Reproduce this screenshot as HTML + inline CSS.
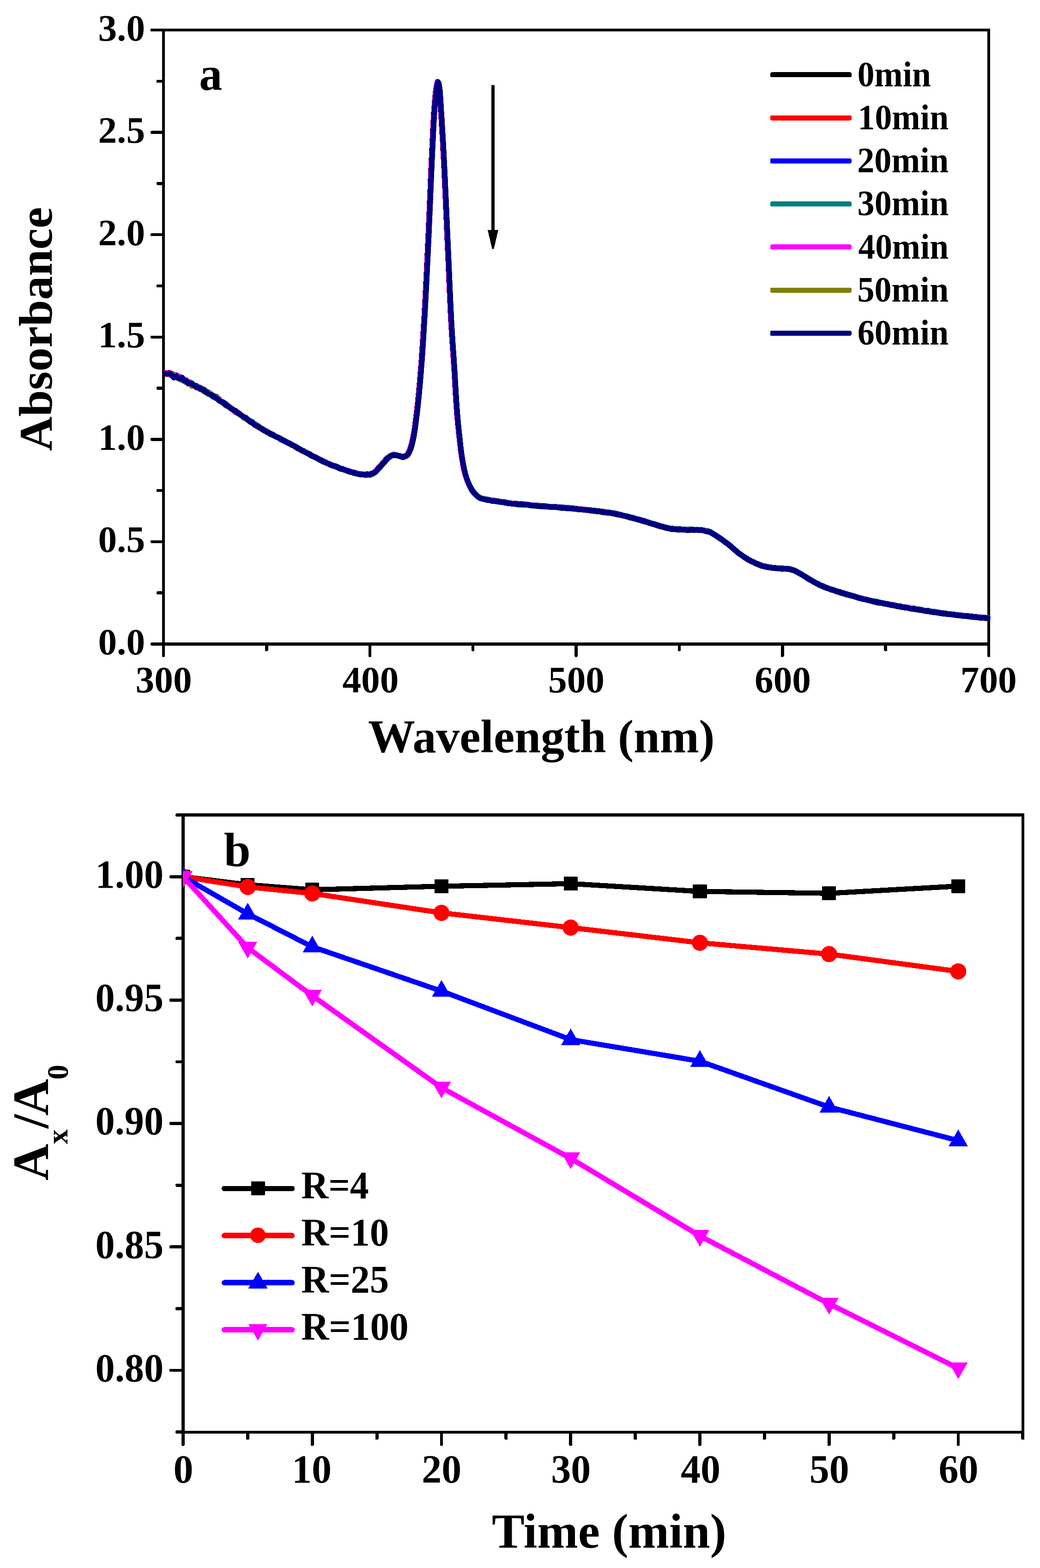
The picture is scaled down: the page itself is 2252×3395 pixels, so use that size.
<!DOCTYPE html>
<html lang="en">
<head>
<meta charset="utf-8">
<title>Absorbance spectra and A/A0 kinetics</title>
<style>
html,body{margin:0;padding:0;background:#fff;}
body{width:2252px;height:3395px;overflow:hidden;}
svg{display:block;}
svg text{font-family:"Liberation Serif", serif;font-weight:bold;fill:#000;}
</style>
</head>
<body>
<svg width="2252" height="3395" viewBox="0 0 2252 3395" shape-rendering="crispEdges">
<rect x="0" y="0" width="2252" height="3395" fill="#fff"/>
<g id="plotA">
<g stroke="#000" stroke-width="6.3" fill="none" stroke-linecap="butt">
<rect x="354.0" y="65.0" width="1787.0" height="1329.5"/>
<g stroke-width="6.5">
<rect x="326.00" y="1391.25" width="28.00" height="6.50" rx="2.2" fill="#000" stroke="none"/>
<rect x="326.00" y="1169.67" width="28.00" height="6.50" rx="2.2" fill="#000" stroke="none"/>
<rect x="326.00" y="948.08" width="28.00" height="6.50" rx="2.2" fill="#000" stroke="none"/>
<rect x="326.00" y="726.50" width="28.00" height="6.50" rx="2.2" fill="#000" stroke="none"/>
<rect x="326.00" y="504.92" width="28.00" height="6.50" rx="2.2" fill="#000" stroke="none"/>
<rect x="326.00" y="283.33" width="28.00" height="6.50" rx="2.2" fill="#000" stroke="none"/>
<rect x="326.00" y="61.75" width="28.00" height="6.50" rx="2.2" fill="#000" stroke="none"/>
<rect x="338.70" y="1280.46" width="15.30" height="6.50" rx="2.2" fill="#000" stroke="none"/>
<rect x="338.70" y="1058.88" width="15.30" height="6.50" rx="2.2" fill="#000" stroke="none"/>
<rect x="338.70" y="837.29" width="15.30" height="6.50" rx="2.2" fill="#000" stroke="none"/>
<rect x="338.70" y="615.71" width="15.30" height="6.50" rx="2.2" fill="#000" stroke="none"/>
<rect x="338.70" y="394.12" width="15.30" height="6.50" rx="2.2" fill="#000" stroke="none"/>
<rect x="338.70" y="172.54" width="15.30" height="6.50" rx="2.2" fill="#000" stroke="none"/>
<rect x="350.75" y="1394.50" width="6.50" height="28.00" rx="2.2" fill="#000" stroke="none"/>
<rect x="797.50" y="1394.50" width="6.50" height="28.00" rx="2.2" fill="#000" stroke="none"/>
<rect x="1244.25" y="1394.50" width="6.50" height="28.00" rx="2.2" fill="#000" stroke="none"/>
<rect x="1691.00" y="1394.50" width="6.50" height="28.00" rx="2.2" fill="#000" stroke="none"/>
<rect x="2137.75" y="1394.50" width="6.50" height="28.00" rx="2.2" fill="#000" stroke="none"/>
<rect x="574.12" y="1394.50" width="6.50" height="15.30" rx="2.2" fill="#000" stroke="none"/>
<rect x="1020.88" y="1394.50" width="6.50" height="15.30" rx="2.2" fill="#000" stroke="none"/>
<rect x="1467.62" y="1394.50" width="6.50" height="15.30" rx="2.2" fill="#000" stroke="none"/>
<rect x="1914.38" y="1394.50" width="6.50" height="15.30" rx="2.2" fill="#000" stroke="none"/>
</g></g>
<clipPath id="clipA"><rect x="354.0" y="65.0" width="1790.1999999999998" height="1329.5"/></clipPath>
<g clip-path="url(#clipA)" fill="none" stroke-linejoin="round" stroke-linecap="butt" stroke-width="12">
<path d="M353.1,807.8 L355.3,808.1 L357.6,808.5 L359.8,808.1 L362.0,807.8 L364.3,807.4 L366.5,807.2 L368.7,808.2 L371.0,809.5 L373.2,810.0 L375.4,810.6 L377.7,812.5 L379.9,814.4 L382.1,816.4 L384.4,818.4 L386.6,818.0 L388.8,817.5 L391.1,818.5 L393.3,819.5 L395.5,821.5 L397.8,823.5 L400.0,824.5 L402.2,825.5 L404.5,826.4 L406.7,827.4 L408.9,827.8 L411.2,828.2 L413.4,830.0 L415.6,831.9 L417.9,833.6 L420.1,835.2 L422.4,835.1 L424.6,835.0 L426.8,836.8 L429.1,838.6 L431.3,838.9 L433.5,839.2 L435.8,840.7 L438.0,842.2 L440.2,843.0 L442.5,843.8 L444.7,845.8 L446.9,847.8 L449.2,848.4 L451.4,849.0 L453.6,851.1 L455.9,853.2 L458.1,854.5 L460.3,855.9 L462.6,857.2 L464.8,858.5 L467.0,858.9 L469.3,859.3 L471.5,861.8 L473.7,864.4 L476.0,866.3 L478.2,868.1 L480.4,869.8 L482.7,871.4 L484.9,872.3 L487.1,873.1 L489.4,875.2 L491.6,877.3 L493.8,878.8 L496.1,880.2 L498.3,881.9 L500.5,883.6 L502.8,886.1 L505.0,888.5 L507.2,889.3 L509.5,890.1 L511.7,891.9 L513.9,893.7 L516.2,895.6 L518.4,897.4 L520.6,898.2 L522.9,899.1 L525.1,900.7 L527.3,902.3 L529.6,903.9 L531.8,905.4 L534.0,906.9 L536.3,908.4 L538.5,909.4 L540.7,910.5 L543.0,912.4 L545.2,914.4 L547.4,916.3 L549.7,918.2 L551.9,918.6 L554.1,919.1 L556.4,921.3 L558.6,923.6 L560.8,924.7 L563.1,925.9 L565.3,927.1 L567.5,928.2 L569.8,930.4 L572.0,932.6 L574.2,933.5 L576.5,934.4 L578.7,935.1 L580.9,935.7 L583.2,937.3 L585.4,938.9 L587.6,940.2 L589.9,941.5 L592.1,942.4 L594.3,943.3 L596.6,944.7 L598.8,946.1 L601.1,947.0 L603.3,947.9 L605.5,949.3 L607.8,950.7 L610.0,952.0 L612.2,953.4 L614.5,954.0 L616.7,954.6 L618.9,956.0 L621.1,957.4 L623.4,958.4 L625.6,959.4 L627.9,960.8 L630.1,962.1 L632.3,962.9 L634.6,963.8 L636.8,965.1 L639.0,966.5 L641.2,967.8 L643.5,969.0 L645.7,970.5 L648.0,972.0 L650.2,973.2 L652.4,974.5 L654.7,975.1 L656.9,975.7 L659.1,977.1 L661.4,978.4 L663.6,979.9 L665.8,981.4 L668.1,982.0 L670.3,982.6 L672.5,984.1 L674.8,985.6 L677.0,986.8 L679.2,988.0 L681.5,989.4 L683.7,990.9 L685.9,991.9 L688.2,992.9 L690.4,993.8 L692.6,994.7 L694.9,995.8 L697.1,996.9 L699.3,998.0 L701.6,999.1 L703.8,1000.6 L706.0,1002.0 L708.3,1002.6 L710.5,1003.2 L712.7,1004.2 L715.0,1005.1 L717.2,1006.2 L719.4,1007.2 L721.7,1008.0 L723.9,1008.8 L726.1,1009.7 L728.4,1010.5 L730.6,1011.2 L732.8,1011.8 L735.1,1012.8 L737.3,1013.9 L739.5,1014.6 L741.8,1015.3 L744.0,1016.3 L746.2,1017.4 L748.5,1018.0 L750.7,1018.6 L752.9,1019.1 L755.2,1019.7 L757.4,1020.6 L759.6,1021.4 L761.9,1021.9 L764.1,1022.4 L766.3,1023.3 L768.6,1024.2 L770.8,1024.6 L773.0,1025.0 L775.3,1025.6 L777.5,1026.1 L779.8,1026.1 L782.0,1026.1 L784.2,1026.6 L786.5,1027.1 L788.7,1026.9 L790.9,1026.6 L793.1,1026.5 L795.4,1026.3 L797.6,1026.5 L799.9,1026.7 L802.1,1026.2 L804.3,1025.2 L806.6,1024.3 L808.8,1023.2 L811.0,1022.0 L813.2,1020.4 L815.5,1017.6 L817.7,1014.6 L820.0,1012.2 L822.2,1009.8 L824.4,1007.4 L826.7,1004.9 L828.9,1002.4 L831.1,999.9 L833.4,997.1 L835.6,994.5 L837.8,992.3 L840.1,990.4 L842.3,988.6 L844.5,987.2 L846.8,986.0 L849.0,985.5 L851.2,984.9 L853.5,984.4 L855.7,984.5 L857.9,984.9 L860.2,985.5 L862.4,986.3 L864.6,986.8 L866.9,987.2 L869.1,987.9 L871.3,988.5 L873.6,988.3 L875.8,987.6 L878.0,986.8 L879.1,986.3 L879.6,986.0 L880.1,985.7 L880.3,985.7 L880.6,985.4 L881.1,984.9 L881.6,984.3 L882.1,983.7 L882.5,983.1 L882.6,982.9 L883.1,982.1 L883.6,981.3 L884.1,980.4 L884.6,979.4 L884.7,979.1 L885.1,978.4 L885.6,977.4 L886.1,976.3 L886.6,975.2 L887.0,974.3 L887.1,974.0 L887.6,972.7 L888.1,971.3 L888.6,969.8 L889.1,968.2 L889.2,967.9 L889.6,966.5 L890.1,964.8 L890.6,962.9 L891.1,961.0 L891.4,959.7 L891.6,959.0 L892.1,957.0 L892.6,954.8 L893.1,952.6 L893.6,950.4 L893.7,950.0 L894.1,948.1 L894.6,945.7 L895.1,943.1 L895.6,940.4 L895.9,938.7 L896.1,937.5 L896.6,934.4 L897.1,931.2 L897.6,927.8 L898.1,924.3 L898.1,924.1 L898.6,920.6 L899.1,916.8 L899.6,912.9 L900.1,909.0 L900.4,906.8 L900.6,904.9 L901.1,900.8 L901.6,896.6 L902.1,892.3 L902.6,888.1 L903.1,883.8 L903.6,879.3 L904.1,874.8 L904.6,870.1 L904.8,867.8 L905.1,865.3 L905.6,860.4 L906.1,855.3 L906.6,850.1 L907.1,845.2 L907.1,844.8 L907.6,839.5 L908.1,834.0 L908.6,828.3 L909.1,822.6 L909.3,820.3 L909.6,816.8 L910.1,810.8 L910.6,804.8 L911.1,798.6 L911.5,793.1 L911.6,792.4 L912.1,785.7 L912.6,778.8 L913.1,771.7 L913.6,764.4 L913.8,761.8 L914.1,756.8 L914.6,749.1 L915.1,741.2 L915.6,733.2 L916.0,726.6 L916.1,725.0 L916.6,716.9 L917.1,708.7 L917.6,700.4 L918.1,692.0 L918.2,689.7 L918.6,683.5 L919.1,674.7 L919.6,665.8 L920.1,656.7 L920.5,649.9 L920.6,647.4 L921.1,637.9 L921.6,628.2 L922.1,618.4 L922.6,608.4 L922.7,606.2 L923.1,598.4 L923.6,588.2 L924.1,578.0 L924.6,567.6 L924.9,560.6 L925.1,557.3 L925.6,547.0 L926.1,536.6 L926.6,526.0 L927.1,515.1 L927.2,513.6 L927.6,504.0 L928.1,492.6 L928.6,481.0 L929.1,469.3 L929.4,462.0 L929.6,457.5 L930.1,445.4 L930.6,433.4 L931.1,421.3 L931.6,409.3 L931.6,408.4 L932.1,397.4 L932.6,385.6 L933.1,374.0 L933.6,362.6 L933.9,356.3 L934.1,351.5 L934.6,340.7 L935.1,330.3 L935.6,319.9 L936.1,309.3 L936.1,309.1 L936.6,298.7 L937.1,288.2 L937.6,278.0 L938.1,268.1 L938.3,263.6 L938.6,258.7 L939.1,250.0 L939.6,242.0 L940.1,235.0 L940.6,228.8 L940.6,228.6 L941.1,222.4 L941.6,216.5 L942.1,211.0 L942.6,205.8 L942.8,203.8 L943.1,201.1 L943.6,196.8 L944.1,193.1 L944.6,189.9 L945.0,187.4 L945.1,187.0 L945.6,184.1 L946.1,181.5 L946.6,179.2 L947.1,177.5 L947.3,177.1 L947.6,176.8 L948.1,176.9 L948.6,178.0 L949.1,179.9 L949.5,181.8 L949.6,182.3 L950.1,185.2 L950.6,188.4 L951.1,191.8 L951.6,196.9 L951.7,198.6 L952.1,203.4 L952.6,211.0 L953.1,219.1 L953.6,227.3 L954.0,233.4 L954.1,235.2 L954.6,242.9 L955.1,250.6 L955.6,258.5 L956.1,266.5 L956.2,268.3 L956.6,274.6 L957.1,282.9 L957.6,291.3 L958.1,299.9 L958.5,306.0 L958.6,308.7 L959.1,317.6 L959.6,326.8 L960.1,336.1 L960.6,345.8 L960.7,347.3 L961.1,355.7 L961.6,365.9 L962.1,376.3 L962.6,386.9 L962.9,393.6 L963.1,397.7 L963.6,408.7 L964.1,419.8 L964.6,430.9 L965.1,442.2 L965.1,443.3 L965.6,453.5 L966.1,464.9 L966.6,476.3 L967.1,487.6 L967.4,494.0 L967.6,499.0 L968.1,510.2 L968.6,521.4 L969.1,532.5 L969.6,543.4 L969.6,543.9 L970.1,554.6 L970.6,565.9 L971.1,577.4 L971.6,588.9 L971.9,594.7 L972.1,600.5 L972.6,612.1 L973.1,623.6 L973.6,635.0 L974.1,645.7 L974.1,646.1 L974.6,657.1 L975.1,667.8 L975.6,678.1 L976.1,688.0 L976.3,692.2 L976.6,697.4 L977.1,706.2 L977.6,714.7 L978.1,722.8 L978.6,729.8 L978.6,730.6 L979.1,738.0 L979.6,745.3 L980.1,752.4 L980.6,759.5 L980.8,762.1 L981.1,766.6 L981.6,773.8 L982.1,781.0 L982.6,788.5 L983.0,794.9 L983.1,796.2 L983.6,804.3 L984.1,812.7 L984.6,821.3 L985.1,830.0 L985.2,832.7 L985.6,838.8 L986.1,847.4 L986.6,855.9 L987.1,864.2 L987.5,870.2 L987.6,872.1 L988.1,879.5 L988.6,886.4 L989.1,892.8 L989.6,898.8 L989.7,900.1 L990.1,904.5 L990.6,909.9 L991.1,915.2 L991.6,920.2 L992.0,923.7 L992.1,925.1 L992.6,930.0 L993.1,934.7 L993.6,939.3 L994.1,943.9 L994.2,944.7 L994.6,948.5 L995.1,953.1 L995.6,957.6 L996.1,962.1 L996.4,965.0 L996.6,966.5 L997.1,970.8 L997.6,974.9 L998.1,978.8 L998.6,982.4 L998.6,982.8 L999.1,985.8 L999.6,989.0 L1000.1,992.1 L1000.6,995.1 L1000.9,996.8 L1001.1,998.1 L1001.6,1001.0 L1002.1,1003.9 L1002.6,1006.7 L1003.1,1009.4 L1003.1,1009.5 L1003.6,1011.9 L1004.1,1014.4 L1004.6,1016.8 L1005.1,1019.1 L1005.4,1020.3 L1005.6,1021.2 L1006.1,1023.2 L1006.6,1025.0 L1007.1,1026.8 L1007.6,1028.5 L1007.6,1028.5 L1008.1,1030.1 L1008.6,1031.7 L1009.1,1033.2 L1009.6,1034.6 L1009.8,1035.2 L1010.1,1036.0 L1010.6,1037.4 L1011.1,1038.8 L1011.6,1040.1 L1012.1,1041.3 L1012.1,1041.4 L1012.6,1042.7 L1013.1,1043.9 L1013.6,1045.2 L1014.1,1046.4 L1014.3,1046.8 L1014.6,1047.5 L1015.1,1048.6 L1015.6,1049.7 L1016.1,1050.8 L1016.5,1051.7 L1016.6,1051.9 L1017.1,1052.9 L1017.6,1053.9 L1018.1,1054.9 L1018.6,1055.8 L1018.8,1056.1 L1019.1,1056.7 L1019.6,1057.6 L1020.1,1058.5 L1020.6,1059.3 L1021.0,1059.9 L1021.1,1060.1 L1021.6,1060.8 L1022.1,1061.5 L1022.6,1062.2 L1023.1,1062.8 L1023.2,1062.9 L1023.6,1063.4 L1024.1,1064.0 L1024.6,1064.7 L1025.1,1065.3 L1025.5,1065.7 L1025.6,1065.9 L1026.1,1066.5 L1026.6,1067.1 L1027.1,1067.7 L1027.6,1068.2 L1027.7,1068.3 L1028.1,1068.8 L1028.6,1069.3 L1029.1,1069.8 L1029.6,1070.3 L1029.9,1070.7 L1030.1,1070.8 L1030.6,1071.3 L1031.1,1071.8 L1031.6,1072.2 L1032.1,1072.7 L1032.2,1072.7 L1032.6,1073.1 L1033.1,1073.6 L1033.6,1074.0 L1034.1,1074.4 L1034.4,1074.7 L1034.6,1074.8 L1035.1,1075.2 L1035.6,1075.6 L1036.1,1075.9 L1036.6,1076.3 L1036.6,1076.3 L1037.1,1076.5 L1037.6,1076.8 L1038.1,1077.1 L1038.6,1077.3 L1038.9,1077.4 L1039.1,1077.5 L1039.6,1077.7 L1040.1,1077.8 L1040.6,1078.0 L1041.1,1078.2 L1041.1,1078.2 L1041.6,1078.3 L1042.1,1078.5 L1042.6,1078.6 L1043.1,1078.8 L1043.3,1078.9 L1043.6,1078.9 L1045.6,1079.5 L1047.8,1079.9 L1050.0,1080.2 L1052.3,1080.7 L1054.5,1081.2 L1056.7,1081.9 L1059.0,1082.7 L1061.2,1082.7 L1063.4,1082.6 L1065.7,1082.9 L1067.9,1083.2 L1070.1,1083.8 L1072.4,1084.4 L1074.6,1085.0 L1076.8,1085.5 L1079.1,1085.5 L1081.3,1085.4 L1083.5,1086.0 L1085.8,1086.5 L1088.0,1086.8 L1090.2,1087.1 L1092.5,1087.2 L1094.7,1087.4 L1096.9,1088.1 L1099.2,1088.8 L1101.4,1088.9 L1103.6,1089.1 L1105.9,1089.4 L1108.1,1089.6 L1110.3,1089.8 L1112.6,1089.9 L1114.8,1090.3 L1117.0,1090.6 L1119.3,1090.7 L1121.5,1090.7 L1123.7,1091.0 L1126.0,1091.2 L1128.2,1091.3 L1130.4,1091.3 L1132.7,1091.5 L1134.9,1091.6 L1137.1,1092.2 L1139.4,1092.8 L1141.6,1092.8 L1143.8,1092.7 L1146.1,1093.1 L1148.3,1093.4 L1150.5,1093.6 L1152.8,1093.7 L1155.0,1093.8 L1157.2,1094.0 L1159.5,1094.1 L1161.7,1094.3 L1163.9,1094.6 L1166.2,1095.0 L1168.4,1095.0 L1170.6,1095.0 L1172.9,1095.2 L1175.1,1095.4 L1177.3,1095.6 L1179.6,1095.7 L1181.8,1096.1 L1184.1,1096.4 L1186.3,1096.5 L1188.5,1096.6 L1190.8,1096.7 L1193.0,1096.8 L1195.2,1096.8 L1197.5,1096.8 L1199.7,1096.9 L1201.9,1096.9 L1204.2,1097.5 L1206.4,1098.0 L1208.6,1098.2 L1210.9,1098.4 L1213.1,1098.4 L1215.3,1098.4 L1217.6,1098.7 L1219.8,1099.0 L1222.0,1099.2 L1224.3,1099.4 L1226.5,1099.6 L1228.7,1099.8 L1231.0,1100.0 L1233.2,1100.2 L1235.4,1100.2 L1237.7,1100.2 L1239.9,1100.7 L1242.1,1101.2 L1244.4,1101.0 L1246.6,1100.8 L1248.8,1101.3 L1251.1,1101.8 L1253.3,1102.0 L1255.5,1102.2 L1257.8,1102.5 L1260.0,1102.7 L1262.2,1103.1 L1264.5,1103.5 L1266.7,1103.7 L1268.9,1103.9 L1271.2,1103.7 L1273.4,1103.6 L1275.6,1103.7 L1277.9,1103.9 L1280.1,1104.5 L1282.3,1105.2 L1284.6,1105.2 L1286.8,1105.1 L1289.0,1105.6 L1291.3,1106.0 L1293.5,1106.4 L1295.7,1106.8 L1298.0,1106.7 L1300.2,1106.6 L1302.4,1106.8 L1304.7,1107.1 L1306.9,1107.7 L1309.1,1108.4 L1311.4,1108.6 L1313.6,1108.9 L1315.8,1109.2 L1318.1,1109.5 L1320.3,1109.9 L1322.5,1110.3 L1324.8,1110.5 L1327.0,1110.7 L1329.2,1111.0 L1331.5,1111.4 L1333.7,1112.0 L1335.9,1112.7 L1338.2,1113.0 L1340.4,1113.4 L1342.6,1113.8 L1344.9,1114.3 L1347.1,1115.1 L1349.3,1116.0 L1351.6,1116.4 L1353.8,1116.9 L1356.0,1117.5 L1358.3,1118.1 L1360.5,1118.5 L1362.8,1118.8 L1365.0,1119.4 L1367.2,1120.1 L1369.5,1120.6 L1371.7,1121.1 L1373.9,1121.7 L1376.2,1122.4 L1378.4,1123.1 L1380.6,1123.9 L1382.9,1124.4 L1385.1,1124.9 L1387.3,1125.7 L1389.6,1126.6 L1391.8,1127.2 L1394.0,1127.9 L1396.3,1128.8 L1398.5,1129.8 L1400.7,1129.9 L1403.0,1130.1 L1405.2,1131.1 L1407.4,1132.1 L1409.7,1132.7 L1411.9,1133.2 L1414.1,1134.0 L1416.4,1134.7 L1418.6,1135.2 L1420.8,1135.6 L1423.1,1136.5 L1425.3,1137.3 L1427.5,1138.1 L1429.8,1138.9 L1432.0,1139.3 L1434.2,1139.8 L1436.5,1140.5 L1438.7,1141.1 L1440.9,1141.6 L1443.2,1142.2 L1445.4,1142.9 L1447.6,1143.6 L1449.9,1143.9 L1452.1,1144.2 L1454.3,1144.2 L1456.6,1144.1 L1458.8,1144.5 L1461.0,1144.9 L1463.3,1144.9 L1465.5,1144.9 L1467.7,1144.9 L1470.0,1144.8 L1472.2,1145.3 L1474.4,1145.9 L1476.7,1146.2 L1478.9,1146.6 L1481.1,1146.5 L1483.4,1146.4 L1485.6,1146.2 L1487.8,1146.1 L1490.1,1146.2 L1492.3,1146.2 L1494.5,1146.6 L1496.8,1146.9 L1499.0,1146.8 L1501.2,1146.7 L1503.5,1146.7 L1505.7,1146.7 L1507.9,1146.8 L1510.2,1146.8 L1512.4,1146.9 L1514.6,1147.0 L1516.9,1147.3 L1519.1,1147.6 L1521.3,1147.9 L1523.6,1148.2 L1525.8,1148.5 L1528.0,1148.9 L1530.3,1149.2 L1532.5,1149.6 L1534.8,1150.6 L1537.0,1151.8 L1539.2,1152.8 L1541.5,1153.9 L1543.7,1155.5 L1545.9,1157.2 L1548.2,1158.3 L1550.4,1159.3 L1552.6,1160.8 L1554.9,1162.4 L1557.1,1163.9 L1559.3,1165.5 L1561.6,1166.9 L1563.8,1168.3 L1566.0,1170.4 L1568.3,1172.6 L1570.5,1174.2 L1572.7,1175.9 L1575.0,1177.3 L1577.2,1178.7 L1579.4,1180.7 L1581.7,1182.7 L1583.9,1184.5 L1586.1,1186.4 L1588.4,1187.9 L1590.6,1189.3 L1592.8,1191.7 L1595.1,1194.0 L1597.3,1195.7 L1599.5,1197.4 L1601.8,1199.1 L1604.0,1200.7 L1606.2,1202.1 L1608.5,1203.4 L1610.7,1205.0 L1612.9,1206.6 L1615.2,1208.1 L1617.4,1209.5 L1619.6,1211.0 L1621.9,1212.5 L1624.1,1213.6 L1626.3,1214.6 L1628.6,1215.7 L1630.8,1216.7 L1633.0,1218.0 L1635.3,1219.3 L1637.5,1220.0 L1639.7,1220.7 L1642.0,1221.6 L1644.2,1222.5 L1646.4,1223.1 L1648.7,1223.6 L1650.9,1224.8 L1653.1,1225.9 L1655.4,1226.3 L1657.6,1226.7 L1659.8,1227.1 L1662.1,1227.5 L1664.3,1227.9 L1666.5,1228.2 L1668.8,1228.5 L1671.0,1228.7 L1673.2,1229.0 L1675.5,1229.3 L1677.7,1229.4 L1679.9,1229.5 L1682.2,1229.7 L1684.4,1229.8 L1686.6,1230.0 L1688.9,1230.1 L1691.1,1230.4 L1693.3,1230.7 L1695.6,1230.7 L1697.8,1230.7 L1700.0,1230.7 L1702.3,1230.8 L1704.5,1230.9 L1706.8,1231.2 L1709.0,1231.5 L1711.2,1232.0 L1713.4,1232.9 L1715.7,1233.9 L1717.9,1234.4 L1720.2,1235.2 L1722.4,1236.2 L1724.6,1237.3 L1726.9,1238.6 L1729.1,1239.8 L1731.3,1240.9 L1733.6,1242.0 L1735.8,1243.5 L1738.0,1245.0 L1740.3,1246.6 L1742.5,1248.1 L1744.7,1249.3 L1747.0,1250.5 L1749.2,1251.9 L1751.4,1253.3 L1753.7,1254.6 L1755.9,1255.8 L1758.1,1257.1 L1760.4,1258.4 L1762.6,1259.4 L1764.8,1260.4 L1767.1,1261.8 L1769.3,1263.2 L1771.5,1264.3 L1773.8,1265.3 L1776.0,1266.7 L1778.2,1268.0 L1780.5,1268.7 L1782.7,1269.4 L1784.9,1270.5 L1787.2,1271.6 L1789.4,1272.6 L1791.6,1273.5 L1793.9,1274.0 L1796.1,1274.5 L1798.3,1275.2 L1800.6,1275.9 L1802.8,1276.8 L1805.0,1277.7 L1807.3,1278.4 L1809.5,1279.1 L1811.7,1279.7 L1814.0,1280.2 L1816.2,1281.1 L1818.4,1282.0 L1820.7,1283.0 L1822.9,1283.9 L1825.1,1284.2 L1827.4,1284.5 L1829.6,1285.2 L1831.8,1285.8 L1834.1,1286.4 L1836.3,1286.9 L1838.5,1287.8 L1840.8,1288.6 L1843.0,1289.0 L1845.2,1289.5 L1847.5,1290.1 L1849.7,1290.8 L1851.9,1291.8 L1854.2,1292.8 L1856.4,1293.1 L1858.6,1293.4 L1860.9,1294.3 L1863.1,1295.2 L1865.3,1295.9 L1867.6,1296.5 L1869.8,1296.9 L1872.0,1297.3 L1874.3,1297.9 L1876.5,1298.5 L1878.8,1299.2 L1881.0,1300.0 L1883.2,1300.1 L1885.4,1300.3 L1887.7,1300.8 L1889.9,1301.2 L1892.1,1301.6 L1894.4,1301.9 L1896.6,1302.6 L1898.9,1303.3 L1901.1,1303.9 L1903.3,1304.6 L1905.6,1304.9 L1907.8,1305.3 L1910.0,1305.4 L1912.3,1305.6 L1914.5,1306.0 L1916.7,1306.5 L1919.0,1306.9 L1921.2,1307.4 L1923.4,1307.9 L1925.7,1308.5 L1927.9,1308.8 L1930.1,1309.2 L1932.4,1309.6 L1934.6,1310.1 L1936.8,1310.5 L1939.1,1311.0 L1941.3,1311.3 L1943.5,1311.6 L1945.8,1312.0 L1948.0,1312.5 L1950.2,1312.9 L1952.5,1313.3 L1954.7,1313.7 L1956.9,1314.0 L1959.2,1314.5 L1961.4,1315.0 L1963.6,1315.6 L1965.9,1316.2 L1968.1,1316.3 L1970.3,1316.5 L1972.6,1316.8 L1974.8,1317.1 L1977.0,1317.2 L1979.3,1317.3 L1981.5,1318.0 L1983.7,1318.7 L1986.0,1318.7 L1988.2,1318.7 L1990.4,1319.2 L1992.7,1319.6 L1994.9,1320.3 L1997.1,1321.0 L1999.4,1321.4 L2001.6,1321.7 L2003.8,1321.9 L2006.1,1322.2 L2008.3,1322.3 L2010.5,1322.4 L2012.8,1323.0 L2015.0,1323.5 L2017.2,1323.8 L2019.5,1324.1 L2021.7,1324.6 L2023.9,1325.1 L2026.2,1325.7 L2028.4,1326.3 L2030.6,1326.3 L2032.9,1326.3 L2035.1,1326.4 L2037.3,1326.6 L2039.6,1326.8 L2041.8,1327.1 L2044.0,1327.5 L2046.3,1328.0 L2048.5,1328.2 L2050.8,1328.5 L2053.0,1328.6 L2055.2,1328.8 L2057.4,1329.2 L2059.7,1329.7 L2061.9,1329.8 L2064.2,1329.9 L2066.4,1330.5 L2068.6,1331.1 L2070.8,1331.3 L2073.1,1331.6 L2075.3,1331.8 L2077.6,1332.1 L2079.8,1332.1 L2082.0,1332.1 L2084.3,1332.5 L2086.5,1332.9 L2088.7,1333.0 L2091.0,1333.2 L2093.2,1333.4 L2095.4,1333.6 L2097.7,1333.8 L2099.9,1334.1 L2102.1,1334.2 L2104.4,1334.3 L2106.6,1334.5 L2108.8,1334.7 L2111.1,1335.2 L2113.3,1335.8 L2115.5,1335.9 L2117.8,1336.0 L2120.0,1336.2 L2122.2,1336.5 L2124.5,1336.9 L2126.7,1337.2 L2128.9,1337.0 L2131.2,1336.8 L2133.4,1337.1 L2135.6,1337.5 L2137.9,1337.8 L2140.1,1338.2 L2142.3,1338.4 L2144.6,1338.6" stroke="#000000"/>
<path d="M353.2,807.3 L355.4,808.8 L357.7,810.2 L359.9,809.6 L362.1,809.0 L364.4,807.9 L366.6,806.9 L368.8,807.8 L371.1,809.0 L373.3,811.5 L375.5,814.0 L377.8,814.7 L380.0,815.3 L382.2,814.4 L384.5,813.4 L386.7,817.1 L388.9,820.8 L391.2,821.2 L393.4,821.7 L395.6,823.4 L397.9,825.0 L400.1,824.9 L402.3,824.7 L404.6,825.9 L406.8,827.1 L409.0,827.6 L411.3,828.2 L413.5,831.9 L415.7,835.7 L418.0,835.0 L420.2,834.4 L422.4,836.8 L424.7,839.1 L426.9,838.9 L429.1,838.7 L431.4,840.3 L433.6,842.0 L435.8,842.1 L438.1,842.1 L440.3,844.0 L442.6,845.8 L444.8,847.7 L447.0,849.5 L449.2,849.4 L451.5,849.3 L453.7,851.8 L455.9,854.4 L458.2,855.4 L460.4,856.4 L462.6,857.1 L464.9,857.9 L467.1,859.7 L469.4,861.6 L471.6,863.2 L473.8,864.8 L476.1,866.6 L478.3,868.4 L480.5,869.8 L482.8,871.1 L485.0,872.6 L487.2,874.0 L489.5,875.9 L491.7,877.8 L493.9,879.1 L496.2,880.5 L498.4,882.0 L500.6,883.5 L502.9,885.7 L505.1,887.8 L507.3,889.8 L509.6,891.8 L511.8,892.3 L514.0,892.8 L516.3,894.9 L518.5,897.0 L520.7,898.2 L523.0,899.3 L525.2,900.6 L527.4,902.0 L529.7,904.1 L531.9,906.3 L534.1,907.2 L536.4,908.2 L538.6,910.5 L540.8,912.7 L543.1,913.4 L545.3,914.1 L547.5,916.0 L549.8,917.8 L552.0,919.0 L554.2,920.3 L556.5,921.5 L558.7,922.8 L560.9,924.7 L563.2,926.5 L565.4,927.7 L567.6,928.8 L569.9,930.4 L572.1,932.0 L574.3,933.1 L576.6,934.2 L578.8,935.2 L581.0,936.1 L583.3,937.6 L585.5,939.1 L587.7,940.3 L590.0,941.5 L592.2,942.9 L594.4,944.3 L596.7,944.9 L598.9,945.5 L601.2,946.9 L603.4,948.3 L605.6,948.9 L607.9,949.6 L610.1,951.5 L612.3,953.3 L614.6,954.0 L616.8,954.7 L619.0,955.7 L621.2,956.7 L623.5,958.3 L625.7,959.9 L628.0,961.4 L630.2,962.9 L632.4,963.4 L634.7,963.9 L636.9,965.2 L639.1,966.5 L641.4,967.8 L643.6,969.1 L645.8,970.2 L648.1,971.3 L650.3,972.9 L652.5,974.4 L654.8,975.4 L657.0,976.3 L659.2,977.5 L661.5,978.7 L663.7,980.2 L665.9,981.7 L668.2,982.6 L670.4,983.4 L672.6,984.9 L674.9,986.3 L677.1,987.1 L679.3,987.9 L681.6,989.0 L683.8,990.1 L686.0,991.1 L688.3,992.1 L690.5,994.1 L692.7,996.0 L695.0,996.6 L697.2,997.3 L699.4,998.5 L701.7,999.7 L703.9,1000.7 L706.1,1001.6 L708.4,1002.7 L710.6,1003.7 L712.8,1004.7 L715.1,1005.6 L717.3,1006.9 L719.5,1008.2 L721.8,1008.5 L724.0,1008.7 L726.2,1009.5 L728.5,1010.3 L730.7,1011.2 L732.9,1012.2 L735.2,1012.9 L737.4,1013.6 L739.6,1014.8 L741.9,1016.0 L744.1,1016.8 L746.3,1017.5 L748.6,1017.9 L750.8,1018.3 L753.0,1018.9 L755.3,1019.5 L757.5,1020.4 L759.7,1021.3 L762.0,1022.3 L764.2,1023.4 L766.4,1023.2 L768.7,1023.1 L770.9,1024.3 L773.1,1025.5 L775.4,1025.7 L777.6,1025.8 L779.9,1026.5 L782.1,1027.2 L784.3,1027.1 L786.6,1026.9 L788.8,1027.2 L791.0,1027.4 L793.2,1027.1 L795.5,1026.8 L797.7,1026.8 L800.0,1026.8 L802.2,1026.8 L804.4,1026.4 L806.7,1025.1 L808.9,1023.7 L811.1,1022.0 L813.4,1019.8 L815.6,1017.4 L817.8,1014.9 L820.1,1012.3 L822.3,1009.6 L824.5,1007.3 L826.8,1005.0 L829.0,1002.5 L831.2,1000.0 L833.5,997.4 L835.7,994.9 L837.9,992.7 L840.2,990.7 L842.4,988.7 L844.6,986.8 L846.9,985.9 L849.1,985.6 L851.3,985.3 L853.6,985.1 L855.8,985.2 L858.0,985.7 L860.3,986.4 L862.5,987.2 L864.7,987.6 L867.0,987.8 L869.2,988.2 L871.4,988.5 L873.7,988.6 L875.9,988.1 L878.1,986.9 L879.2,986.2 L879.7,985.9 L880.2,985.5 L880.4,985.4 L880.7,985.2 L881.2,984.7 L881.7,984.2 L882.2,983.5 L882.6,983.0 L882.7,982.8 L883.2,982.1 L883.7,981.2 L884.2,980.3 L884.7,979.4 L884.8,979.1 L885.2,978.4 L885.7,977.4 L886.2,976.4 L886.7,975.3 L887.1,974.5 L887.2,974.1 L887.7,972.8 L888.2,971.5 L888.7,970.0 L889.2,968.5 L889.3,968.1 L889.7,966.8 L890.2,965.0 L890.7,963.1 L891.2,961.2 L891.5,959.9 L891.7,959.2 L892.2,957.1 L892.7,955.0 L893.2,952.8 L893.7,950.5 L893.8,950.2 L894.2,948.3 L894.7,945.9 L895.2,943.4 L895.7,940.7 L896.0,939.0 L896.2,937.8 L896.7,934.8 L897.2,931.6 L897.7,928.3 L898.2,924.9 L898.2,924.6 L898.7,921.2 L899.2,917.5 L899.7,913.6 L900.2,909.7 L900.5,907.5 L900.7,905.6 L901.2,901.5 L901.7,897.4 L902.2,893.2 L902.7,889.0 L903.2,884.7 L903.7,880.2 L904.2,875.6 L904.7,870.9 L904.9,868.6 L905.2,866.1 L905.7,861.2 L906.2,856.1 L906.7,850.9 L907.2,845.9 L907.2,845.6 L907.7,840.1 L908.2,834.6 L908.7,828.9 L909.2,823.1 L909.4,820.7 L909.7,817.2 L910.2,811.2 L910.7,805.0 L911.2,798.8 L911.6,793.3 L911.7,792.5 L912.2,785.9 L912.7,779.1 L913.2,772.0 L913.7,764.8 L913.9,762.3 L914.2,757.3 L914.7,749.7 L915.2,741.8 L915.7,733.9 L916.1,727.4 L916.2,725.8 L916.7,717.5 L917.2,709.2 L917.7,700.8 L918.2,692.3 L918.3,689.9 L918.7,683.6 L919.2,674.7 L919.7,665.7 L920.2,656.5 L920.6,649.6 L920.7,647.2 L921.2,637.7 L921.7,628.2 L922.2,618.5 L922.7,608.6 L922.8,606.5 L923.2,598.7 L923.7,588.7 L924.2,578.6 L924.7,568.3 L925.0,561.4 L925.2,558.1 L925.7,547.7 L926.2,537.2 L926.7,526.5 L927.2,515.5 L927.3,513.9 L927.7,504.2 L928.2,492.8 L928.7,481.1 L929.2,469.3 L929.5,461.9 L929.7,457.4 L930.2,445.4 L930.7,433.5 L931.2,421.5 L931.7,409.6 L931.7,408.6 L932.2,397.8 L932.7,386.1 L933.2,374.5 L933.7,363.2 L934.0,357.0 L934.2,352.1 L934.7,341.3 L935.2,330.8 L935.7,320.3 L936.2,309.6 L936.2,309.4 L936.7,299.0 L937.2,288.4 L937.7,278.1 L938.2,268.2 L938.4,263.6 L938.7,258.8 L939.2,250.0 L939.7,242.0 L940.2,234.9 L940.7,228.7 L940.7,228.5 L941.2,222.3 L941.7,216.4 L942.2,210.8 L942.7,205.7 L942.9,203.6 L943.2,201.0 L943.7,196.8 L944.2,193.2 L944.7,190.1 L945.1,187.7 L945.2,187.3 L945.7,184.6 L946.2,182.0 L946.7,179.9 L947.2,178.3 L947.4,177.9 L947.7,177.5 L948.2,177.5 L948.7,178.5 L949.2,180.1 L949.6,182.0 L949.7,182.4 L950.2,185.2 L950.7,188.2 L951.2,191.5 L951.7,196.4 L951.8,198.1 L952.2,202.9 L952.7,210.5 L953.2,218.6 L953.7,226.9 L954.1,233.0 L954.2,234.8 L954.7,242.4 L955.2,250.2 L955.7,258.1 L956.2,266.2 L956.3,267.9 L956.7,274.3 L957.2,282.7 L957.7,291.1 L958.2,299.8 L958.6,306.0 L958.7,308.6 L959.2,317.6 L959.7,326.9 L960.2,336.3 L960.7,346.0 L960.8,347.5 L961.2,355.9 L961.7,366.0 L962.2,376.4 L962.7,387.0 L963.0,393.6 L963.2,397.7 L963.7,408.6 L964.2,419.6 L964.7,430.7 L965.2,441.9 L965.2,443.1 L965.7,453.3 L966.2,464.8 L966.7,476.2 L967.2,487.7 L967.5,494.0 L967.7,499.1 L968.2,510.4 L968.7,521.6 L969.2,532.8 L969.7,543.8 L969.7,544.3 L970.2,555.0 L970.7,566.3 L971.2,577.8 L971.7,589.4 L972.0,595.3 L972.2,601.1 L972.7,612.7 L973.2,624.2 L973.7,635.6 L974.2,646.3 L974.2,646.8 L974.7,657.7 L975.2,668.3 L975.7,678.5 L976.2,688.3 L976.4,692.5 L976.7,697.6 L977.2,706.4 L977.7,714.8 L978.2,722.8 L978.7,729.7 L978.7,730.5 L979.2,738.0 L979.7,745.3 L980.2,752.5 L980.7,759.6 L980.9,762.2 L981.2,766.8 L981.7,774.0 L982.2,781.3 L982.7,788.8 L983.1,795.3 L983.2,796.5 L983.7,804.6 L984.2,813.0 L984.7,821.6 L985.2,830.3 L985.4,832.9 L985.7,839.0 L986.2,847.7 L986.7,856.2 L987.2,864.4 L987.6,870.4 L987.7,872.3 L988.2,879.7 L988.7,886.7 L989.2,893.0 L989.7,899.0 L989.8,900.4 L990.2,904.7 L990.7,910.1 L991.2,915.4 L991.7,920.5 L992.1,923.9 L992.2,925.4 L992.7,930.2 L993.2,935.0 L993.7,939.6 L994.2,944.2 L994.3,945.1 L994.7,948.8 L995.2,953.4 L995.7,958.0 L996.2,962.5 L996.5,965.4 L996.7,967.0 L997.2,971.2 L997.7,975.3 L998.2,979.2 L998.7,982.9 L998.8,983.2 L999.2,986.3 L999.7,989.5 L1000.2,992.6 L1000.7,995.6 L1001.0,997.3 L1001.2,998.6 L1001.7,1001.5 L1002.2,1004.3 L1002.7,1007.0 L1003.2,1009.6 L1003.2,1009.7 L1003.7,1012.1 L1004.2,1014.5 L1004.7,1016.9 L1005.2,1019.1 L1005.5,1020.2 L1005.7,1021.2 L1006.2,1023.1 L1006.7,1025.0 L1007.2,1026.8 L1007.7,1028.4 L1007.7,1028.4 L1008.2,1030.1 L1008.7,1031.6 L1009.2,1033.1 L1009.7,1034.6 L1009.9,1035.2 L1010.2,1036.0 L1010.7,1037.4 L1011.2,1038.8 L1011.7,1040.2 L1012.2,1041.4 L1012.2,1041.5 L1012.7,1042.7 L1013.2,1044.0 L1013.7,1045.2 L1014.2,1046.4 L1014.4,1046.9 L1014.7,1047.6 L1015.2,1048.8 L1015.7,1049.9 L1016.2,1051.0 L1016.6,1051.9 L1016.7,1052.1 L1017.2,1053.1 L1017.7,1054.2 L1018.2,1055.2 L1018.7,1056.1 L1018.9,1056.4 L1019.2,1057.1 L1019.7,1058.0 L1020.2,1058.9 L1020.7,1059.7 L1021.1,1060.3 L1021.2,1060.5 L1021.7,1061.2 L1022.2,1061.9 L1022.7,1062.6 L1023.2,1063.2 L1023.3,1063.4 L1023.7,1063.9 L1024.2,1064.5 L1024.7,1065.1 L1025.2,1065.7 L1025.6,1066.1 L1025.7,1066.2 L1026.2,1066.8 L1026.7,1067.4 L1027.2,1067.9 L1027.7,1068.5 L1027.8,1068.6 L1028.2,1069.1 L1028.7,1069.6 L1029.2,1070.2 L1029.7,1070.8 L1030.0,1071.1 L1030.2,1071.3 L1030.7,1071.8 L1031.2,1072.3 L1031.7,1072.8 L1032.2,1073.3 L1032.3,1073.4 L1032.7,1073.7 L1033.2,1074.1 L1033.7,1074.4 L1034.2,1074.7 L1034.5,1074.9 L1034.7,1075.0 L1035.2,1075.3 L1035.7,1075.6 L1036.2,1075.8 L1036.7,1076.1 L1036.7,1076.1 L1037.2,1076.4 L1037.7,1076.8 L1038.2,1077.1 L1038.7,1077.4 L1039.0,1077.6 L1039.2,1077.7 L1039.7,1078.0 L1040.2,1078.2 L1040.7,1078.5 L1041.2,1078.7 L1041.2,1078.7 L1041.7,1078.9 L1042.2,1079.0 L1042.7,1079.2 L1043.2,1079.3 L1043.4,1079.4 L1043.7,1079.4 L1045.7,1079.9 L1047.9,1080.5 L1050.1,1081.0 L1052.4,1081.4 L1054.6,1081.9 L1056.8,1082.1 L1059.1,1082.3 L1061.3,1082.7 L1063.5,1083.1 L1065.8,1083.6 L1068.0,1084.1 L1070.2,1084.4 L1072.5,1084.8 L1074.7,1085.1 L1076.9,1085.5 L1079.2,1085.6 L1081.4,1085.7 L1083.6,1086.4 L1085.9,1087.0 L1088.1,1087.5 L1090.3,1087.9 L1092.6,1088.2 L1094.8,1088.5 L1097.0,1088.7 L1099.3,1088.9 L1101.5,1088.9 L1103.7,1088.9 L1106.0,1089.6 L1108.2,1090.2 L1110.4,1090.3 L1112.7,1090.3 L1114.9,1090.2 L1117.1,1090.0 L1119.4,1090.7 L1121.6,1091.3 L1123.8,1091.2 L1126.1,1091.1 L1128.3,1091.3 L1130.5,1091.5 L1132.8,1091.8 L1135.0,1092.1 L1137.2,1092.6 L1139.5,1093.1 L1141.7,1093.1 L1144.0,1093.1 L1146.2,1093.4 L1148.4,1093.7 L1150.7,1094.1 L1152.9,1094.6 L1155.1,1094.7 L1157.4,1094.9 L1159.6,1094.8 L1161.8,1094.7 L1164.0,1094.9 L1166.3,1095.0 L1168.5,1095.0 L1170.8,1095.0 L1173.0,1095.3 L1175.2,1095.5 L1177.5,1095.8 L1179.7,1096.2 L1181.9,1096.3 L1184.2,1096.5 L1186.4,1096.6 L1188.6,1096.7 L1190.9,1097.0 L1193.1,1097.3 L1195.3,1097.2 L1197.6,1097.1 L1199.8,1097.4 L1202.0,1097.6 L1204.3,1097.9 L1206.5,1098.2 L1208.7,1098.4 L1211.0,1098.6 L1213.2,1098.8 L1215.4,1099.1 L1217.7,1099.1 L1219.9,1099.2 L1222.1,1099.3 L1224.4,1099.4 L1226.6,1099.7 L1228.8,1100.0 L1231.1,1100.0 L1233.3,1099.9 L1235.5,1100.0 L1237.8,1100.1 L1240.0,1100.7 L1242.2,1101.2 L1244.5,1101.3 L1246.7,1101.4 L1248.9,1101.7 L1251.2,1102.0 L1253.4,1101.9 L1255.6,1101.8 L1257.9,1102.2 L1260.1,1102.7 L1262.3,1102.9 L1264.6,1103.1 L1266.8,1103.3 L1269.0,1103.5 L1271.3,1103.5 L1273.5,1103.5 L1275.7,1104.1 L1278.0,1104.6 L1280.2,1105.1 L1282.4,1105.5 L1284.7,1105.7 L1286.9,1105.9 L1289.1,1106.0 L1291.4,1106.1 L1293.6,1106.5 L1295.8,1106.8 L1298.1,1107.2 L1300.3,1107.6 L1302.5,1107.4 L1304.8,1107.2 L1307.0,1107.9 L1309.2,1108.6 L1311.5,1109.0 L1313.7,1109.4 L1316.0,1109.7 L1318.2,1110.1 L1320.4,1110.6 L1322.7,1111.1 L1324.9,1111.4 L1327.1,1111.6 L1329.4,1111.9 L1331.6,1112.2 L1333.8,1112.7 L1336.0,1113.1 L1338.3,1113.7 L1340.5,1114.3 L1342.8,1114.6 L1345.0,1114.9 L1347.2,1115.5 L1349.5,1116.1 L1351.7,1116.8 L1353.9,1117.5 L1356.2,1118.2 L1358.4,1118.9 L1360.6,1119.1 L1362.9,1119.4 L1365.1,1119.9 L1367.3,1120.5 L1369.6,1121.2 L1371.8,1121.8 L1374.0,1122.6 L1376.3,1123.3 L1378.5,1123.7 L1380.7,1124.1 L1383.0,1125.0 L1385.2,1125.9 L1387.4,1126.2 L1389.7,1126.5 L1391.9,1127.3 L1394.1,1128.1 L1396.4,1128.7 L1398.6,1129.4 L1400.8,1130.2 L1403.1,1131.1 L1405.3,1131.8 L1407.5,1132.5 L1409.8,1132.8 L1412.0,1133.1 L1414.2,1133.9 L1416.5,1134.7 L1418.7,1135.6 L1420.9,1136.5 L1423.2,1137.0 L1425.4,1137.5 L1427.6,1138.0 L1429.9,1138.5 L1432.1,1139.5 L1434.3,1140.5 L1436.6,1141.0 L1438.8,1141.5 L1441.0,1142.1 L1443.3,1142.7 L1445.5,1143.1 L1447.7,1143.5 L1450.0,1144.1 L1452.2,1144.8 L1454.4,1144.9 L1456.7,1145.0 L1458.9,1145.4 L1461.1,1145.8 L1463.4,1145.6 L1465.6,1145.5 L1467.8,1145.7 L1470.1,1145.8 L1472.3,1146.1 L1474.5,1146.4 L1476.8,1146.3 L1479.0,1146.3 L1481.2,1146.6 L1483.5,1146.8 L1485.7,1146.8 L1487.9,1146.8 L1490.2,1146.7 L1492.4,1146.5 L1494.7,1146.7 L1496.9,1146.9 L1499.1,1146.9 L1501.4,1146.8 L1503.6,1147.0 L1505.8,1147.3 L1508.0,1147.1 L1510.3,1146.9 L1512.5,1147.0 L1514.8,1147.2 L1517.0,1147.6 L1519.2,1148.1 L1521.5,1148.5 L1523.7,1149.0 L1525.9,1149.3 L1528.2,1149.7 L1530.4,1149.9 L1532.6,1150.2 L1534.9,1151.0 L1537.1,1152.0 L1539.3,1153.4 L1541.6,1154.9 L1543.8,1156.0 L1546.0,1157.1 L1548.3,1158.4 L1550.5,1159.7 L1552.7,1161.2 L1555.0,1162.8 L1557.2,1164.3 L1559.4,1165.9 L1561.7,1167.3 L1563.9,1168.7 L1566.1,1170.3 L1568.4,1171.8 L1570.6,1173.6 L1572.8,1175.3 L1575.1,1177.3 L1577.3,1179.4 L1579.5,1180.9 L1581.8,1182.6 L1584.0,1184.5 L1586.2,1186.5 L1588.5,1188.5 L1590.7,1190.5 L1592.9,1192.5 L1595.2,1194.4 L1597.4,1196.0 L1599.6,1197.6 L1601.9,1199.4 L1604.1,1201.1 L1606.3,1202.5 L1608.6,1203.8 L1610.8,1205.4 L1613.0,1206.9 L1615.3,1208.2 L1617.5,1209.5 L1619.7,1211.2 L1622.0,1212.8 L1624.2,1213.8 L1626.4,1214.8 L1628.7,1215.8 L1630.9,1216.8 L1633.1,1217.9 L1635.4,1219.0 L1637.6,1220.1 L1639.8,1221.1 L1642.1,1222.1 L1644.3,1223.1 L1646.5,1223.6 L1648.8,1224.0 L1651.0,1224.7 L1653.2,1225.4 L1655.5,1226.0 L1657.7,1226.5 L1659.9,1227.4 L1662.2,1228.3 L1664.4,1228.5 L1666.6,1228.6 L1668.9,1228.8 L1671.1,1228.9 L1673.4,1229.3 L1675.6,1229.7 L1677.8,1230.1 L1680.0,1230.5 L1682.3,1230.3 L1684.5,1230.1 L1686.8,1230.2 L1689.0,1230.3 L1691.2,1230.6 L1693.5,1231.0 L1695.7,1230.9 L1697.9,1231.0 L1700.2,1231.1 L1702.4,1231.3 L1704.6,1231.4 L1706.9,1231.5 L1709.1,1232.2 L1711.3,1233.1 L1713.5,1233.6 L1715.8,1234.2 L1718.0,1234.7 L1720.3,1235.5 L1722.5,1236.6 L1724.7,1237.8 L1727.0,1238.7 L1729.2,1239.6 L1731.4,1241.2 L1733.7,1242.9 L1735.9,1244.1 L1738.1,1245.3 L1740.4,1246.8 L1742.6,1248.3 L1744.8,1249.7 L1747.1,1251.1 L1749.3,1252.3 L1751.5,1253.5 L1753.8,1254.6 L1756.0,1255.7 L1758.2,1257.2 L1760.5,1258.8 L1762.7,1259.9 L1764.9,1261.0 L1767.2,1262.2 L1769.4,1263.5 L1771.6,1264.6 L1773.9,1265.7 L1776.1,1266.8 L1778.3,1267.9 L1780.6,1268.6 L1782.8,1269.2 L1785.0,1270.7 L1787.3,1272.1 L1789.5,1272.8 L1791.7,1273.4 L1794.0,1274.4 L1796.2,1275.3 L1798.4,1276.1 L1800.7,1277.0 L1802.9,1277.5 L1805.1,1277.9 L1807.4,1278.4 L1809.6,1278.8 L1811.8,1279.7 L1814.1,1280.5 L1816.3,1281.2 L1818.5,1281.8 L1820.8,1282.6 L1823.0,1283.4 L1825.2,1284.2 L1827.5,1284.9 L1829.7,1285.3 L1831.9,1285.6 L1834.2,1286.6 L1836.4,1287.6 L1838.6,1288.0 L1840.9,1288.4 L1843.1,1289.3 L1845.3,1290.2 L1847.6,1290.8 L1849.8,1291.4 L1852.0,1292.0 L1854.3,1292.6 L1856.5,1293.3 L1858.8,1293.9 L1861.0,1294.5 L1863.2,1295.0 L1865.5,1295.6 L1867.7,1296.2 L1869.9,1296.6 L1872.2,1297.0 L1874.4,1297.8 L1876.6,1298.6 L1878.9,1299.4 L1881.1,1300.2 L1883.3,1300.8 L1885.5,1301.3 L1887.8,1301.7 L1890.0,1302.1 L1892.2,1302.4 L1894.5,1302.8 L1896.7,1303.1 L1899.0,1303.3 L1901.2,1304.1 L1903.4,1304.9 L1905.7,1305.1 L1907.9,1305.3 L1910.1,1305.7 L1912.4,1306.1 L1914.6,1306.5 L1916.8,1306.9 L1919.1,1307.4 L1921.3,1307.9 L1923.5,1308.2 L1925.8,1308.6 L1928.0,1309.0 L1930.2,1309.5 L1932.5,1309.8 L1934.7,1310.0 L1936.9,1310.5 L1939.2,1311.1 L1941.4,1311.9 L1943.6,1312.7 L1945.9,1312.7 L1948.1,1312.8 L1950.3,1313.1 L1952.6,1313.5 L1954.8,1314.0 L1957.0,1314.5 L1959.3,1314.9 L1961.5,1315.3 L1963.7,1315.5 L1966.0,1315.6 L1968.2,1316.1 L1970.4,1316.6 L1972.7,1317.1 L1974.9,1317.7 L1977.1,1318.0 L1979.4,1318.2 L1981.6,1318.6 L1983.8,1318.9 L1986.1,1319.5 L1988.3,1320.1 L1990.5,1320.1 L1992.8,1320.1 L1995.0,1320.6 L1997.2,1321.1 L1999.5,1321.4 L2001.7,1321.6 L2003.9,1322.3 L2006.2,1323.0 L2008.4,1322.8 L2010.6,1322.6 L2012.9,1323.2 L2015.1,1323.7 L2017.3,1324.1 L2019.6,1324.4 L2021.8,1324.9 L2024.0,1325.4 L2026.3,1325.8 L2028.5,1326.1 L2030.8,1326.5 L2033.0,1326.9 L2035.2,1326.8 L2037.5,1326.7 L2039.7,1327.3 L2041.9,1327.9 L2044.2,1328.1 L2046.4,1328.2 L2048.6,1328.4 L2050.8,1328.7 L2053.1,1329.1 L2055.3,1329.6 L2057.5,1329.6 L2059.8,1329.7 L2062.0,1329.8 L2064.2,1329.9 L2066.5,1330.4 L2068.7,1330.9 L2070.9,1331.0 L2073.2,1331.1 L2075.4,1331.5 L2077.7,1331.9 L2079.9,1332.3 L2082.1,1332.7 L2084.4,1332.9 L2086.6,1333.1 L2088.8,1333.6 L2091.1,1334.0 L2093.3,1334.0 L2095.5,1333.9 L2097.8,1334.0 L2100.0,1334.0 L2102.2,1334.4 L2104.5,1334.7 L2106.7,1334.9 L2108.9,1335.1 L2111.2,1335.3 L2113.4,1335.5 L2115.6,1336.0 L2117.9,1336.4 L2120.1,1336.5 L2122.3,1336.6 L2124.6,1336.6 L2126.8,1336.6 L2129.0,1337.2 L2131.3,1337.8 L2133.5,1337.9 L2135.7,1338.0 L2138.0,1338.3 L2140.2,1338.5 L2142.4,1338.7 L2144.7,1338.9" stroke="#ff0000"/>
<path d="M353.5,809.3 L355.7,808.7 L358.0,808.2 L360.2,809.5 L362.4,810.8 L364.7,810.3 L366.9,809.8 L369.1,810.4 L371.4,811.2 L373.6,812.2 L375.8,813.3 L378.1,812.6 L380.3,812.0 L382.5,814.1 L384.8,816.2 L387.0,817.1 L389.2,818.1 L391.5,819.5 L393.7,821.0 L395.9,820.9 L398.2,820.8 L400.4,824.2 L402.6,827.6 L404.9,827.6 L407.1,827.6 L409.3,827.8 L411.6,828.0 L413.8,828.9 L416.0,829.8 L418.3,832.0 L420.5,834.1 L422.8,835.5 L425.0,836.8 L427.2,837.7 L429.4,838.5 L431.7,840.2 L433.9,841.8 L436.1,842.6 L438.4,843.2 L440.6,845.0 L442.9,846.8 L445.1,847.1 L447.3,847.5 L449.6,849.0 L451.8,850.6 L454.0,852.4 L456.2,854.2 L458.5,856.4 L460.7,858.7 L462.9,858.2 L465.2,857.9 L467.4,859.7 L469.7,861.5 L471.9,862.9 L474.1,864.3 L476.4,866.7 L478.6,869.1 L480.8,869.8 L483.1,870.5 L485.3,872.3 L487.5,874.3 L489.8,876.1 L492.0,877.9 L494.2,879.2 L496.5,880.4 L498.7,882.1 L500.9,883.7 L503.2,885.6 L505.4,887.4 L507.6,888.3 L509.9,889.2 L512.1,891.0 L514.3,892.8 L516.6,894.7 L518.8,896.6 L521.0,898.2 L523.3,899.9 L525.5,901.2 L527.7,902.5 L530.0,903.3 L532.2,904.2 L534.4,906.2 L536.7,908.2 L538.9,910.1 L541.1,912.1 L543.4,913.5 L545.6,914.9 L547.8,916.2 L550.1,917.4 L552.3,918.6 L554.5,919.7 L556.8,921.7 L559.0,923.6 L561.2,924.6 L563.5,925.7 L565.7,926.9 L567.9,928.1 L570.2,929.6 L572.4,931.0 L574.6,933.1 L576.9,935.1 L579.1,935.9 L581.3,936.8 L583.6,938.3 L585.8,939.8 L588.0,940.4 L590.3,941.1 L592.5,942.7 L594.7,944.2 L597.0,944.9 L599.2,945.6 L601.5,946.8 L603.7,948.1 L605.9,950.0 L608.1,951.9 L610.4,952.6 L612.6,953.3 L614.9,954.1 L617.1,954.9 L619.3,956.2 L621.5,957.5 L623.8,958.8 L626.0,960.0 L628.2,961.5 L630.5,962.9 L632.7,963.6 L635.0,964.3 L637.2,965.2 L639.4,966.1 L641.6,967.6 L643.9,969.2 L646.1,970.5 L648.4,971.8 L650.6,973.0 L652.8,974.2 L655.1,975.7 L657.3,977.2 L659.5,978.1 L661.8,979.1 L664.0,980.4 L666.2,981.7 L668.5,982.4 L670.7,983.2 L672.9,984.8 L675.2,986.4 L677.4,987.8 L679.6,989.2 L681.9,990.0 L684.1,990.9 L686.3,991.9 L688.6,992.9 L690.8,994.0 L693.0,995.1 L695.3,996.6 L697.5,998.1 L699.7,998.6 L702.0,999.1 L704.2,1000.3 L706.4,1001.5 L708.7,1002.6 L710.9,1003.7 L713.1,1004.8 L715.4,1005.8 L717.6,1006.4 L719.8,1007.1 L722.1,1008.1 L724.3,1009.2 L726.5,1009.9 L728.8,1010.7 L731.0,1011.6 L733.2,1012.5 L735.5,1013.3 L737.7,1014.0 L739.9,1014.6 L742.2,1015.2 L744.4,1016.2 L746.6,1017.1 L748.9,1018.0 L751.1,1018.9 L753.3,1019.2 L755.6,1019.6 L757.8,1020.4 L760.0,1021.3 L762.3,1022.1 L764.5,1023.0 L766.7,1023.3 L769.0,1023.6 L771.2,1024.5 L773.4,1025.3 L775.7,1025.5 L777.9,1025.7 L780.1,1026.5 L782.4,1027.1 L784.6,1027.6 L786.9,1028.1 L789.1,1028.2 L791.3,1028.1 L793.5,1027.7 L795.8,1027.2 L798.0,1027.3 L800.2,1027.3 L802.5,1026.8 L804.7,1025.8 L807.0,1024.6 L809.2,1023.3 L811.4,1022.1 L813.6,1020.4 L815.9,1017.6 L818.1,1014.6 L820.4,1012.6 L822.6,1010.6 L824.8,1007.8 L827.1,1005.0 L829.3,1002.7 L831.5,1000.4 L833.8,997.6 L836.0,994.9 L838.2,992.5 L840.5,990.4 L842.7,988.7 L844.9,987.2 L847.2,986.1 L849.4,985.8 L851.6,985.3 L853.9,985.0 L856.1,985.0 L858.3,985.3 L860.6,985.7 L862.8,986.3 L865.0,986.8 L867.3,987.1 L869.5,988.0 L871.7,988.9 L874.0,988.9 L876.2,988.3 L878.4,987.1 L879.5,986.4 L880.0,986.0 L880.5,985.7 L880.7,985.6 L881.0,985.3 L881.5,984.9 L882.0,984.3 L882.5,983.7 L882.9,983.1 L883.0,983.0 L883.5,982.2 L884.0,981.4 L884.5,980.5 L885.0,979.5 L885.1,979.3 L885.5,978.6 L886.0,977.6 L886.5,976.6 L887.0,975.5 L887.4,974.7 L887.5,974.4 L888.0,973.1 L888.5,971.7 L889.0,970.3 L889.5,968.7 L889.6,968.4 L890.0,967.0 L890.5,965.2 L891.0,963.4 L891.5,961.4 L891.8,960.1 L892.0,959.4 L892.5,957.3 L893.0,955.1 L893.5,952.9 L894.0,950.6 L894.1,950.3 L894.5,948.3 L895.0,945.9 L895.5,943.3 L896.0,940.5 L896.3,938.8 L896.5,937.6 L897.0,934.5 L897.5,931.2 L898.0,927.9 L898.5,924.3 L898.5,924.1 L899.0,920.7 L899.5,917.0 L900.0,913.2 L900.5,909.3 L900.8,907.2 L901.0,905.3 L901.5,901.3 L902.0,897.2 L902.5,893.0 L903.0,888.8 L903.5,884.6 L904.0,880.2 L904.5,875.6 L905.0,871.0 L905.2,868.7 L905.5,866.2 L906.0,861.3 L906.5,856.2 L907.0,851.1 L907.5,846.1 L907.5,845.8 L908.0,840.3 L908.5,834.6 L909.0,828.8 L909.5,823.0 L909.7,820.6 L910.0,817.0 L910.5,810.9 L911.0,804.7 L911.5,798.4 L911.9,792.8 L912.0,792.0 L912.5,785.6 L913.0,778.8 L913.5,771.9 L914.0,764.8 L914.2,762.3 L914.5,757.4 L915.0,749.9 L915.5,742.2 L916.0,734.3 L916.4,727.9 L916.5,726.3 L917.0,718.0 L917.5,709.6 L918.0,701.2 L918.5,692.6 L918.6,690.2 L919.0,683.8 L919.5,674.9 L920.0,665.8 L920.5,656.6 L920.9,649.6 L921.0,647.2 L921.5,637.7 L922.0,628.1 L922.5,618.3 L923.0,608.5 L923.1,606.3 L923.5,598.5 L924.0,588.4 L924.5,578.3 L925.0,568.0 L925.3,561.0 L925.5,557.7 L926.0,547.4 L926.5,537.0 L927.0,526.4 L927.5,515.5 L927.6,514.0 L928.0,504.4 L928.5,493.0 L929.0,481.4 L929.5,469.7 L929.8,462.4 L930.0,457.8 L930.5,445.8 L931.0,433.8 L931.5,421.7 L932.0,409.7 L932.0,408.8 L932.5,397.8 L933.0,386.1 L933.5,374.5 L934.0,363.0 L934.3,356.8 L934.5,351.9 L935.0,341.0 L935.5,330.5 L936.0,320.0 L936.5,309.3 L936.5,309.1 L937.0,298.6 L937.5,288.0 L938.0,277.7 L938.5,267.7 L938.7,263.1 L939.0,258.3 L939.5,249.6 L940.0,241.7 L940.5,234.7 L941.0,228.6 L941.0,228.3 L941.5,222.2 L942.0,216.4 L942.5,211.0 L943.0,205.9 L943.2,203.9 L943.5,201.2 L944.0,197.1 L944.5,193.4 L945.0,190.4 L945.4,187.9 L945.5,187.5 L946.0,184.8 L946.5,182.2 L947.0,180.1 L947.5,178.5 L947.7,178.1 L948.0,177.7 L948.5,177.8 L949.0,178.8 L949.5,180.5 L949.9,182.4 L950.0,182.9 L950.5,185.7 L951.0,188.7 L951.5,192.1 L952.0,197.1 L952.1,198.8 L952.5,203.5 L953.0,211.0 L953.5,219.1 L954.0,227.3 L954.4,233.3 L954.5,235.1 L955.0,242.7 L955.5,250.4 L956.0,258.2 L956.5,266.1 L956.6,267.9 L957.0,274.3 L957.5,282.7 L958.0,291.2 L958.5,299.8 L958.9,306.0 L959.0,308.7 L959.5,317.7 L960.0,326.9 L960.5,336.4 L961.0,346.1 L961.1,347.7 L961.5,356.1 L962.0,366.3 L962.5,376.7 L963.0,387.4 L963.3,394.0 L963.5,398.2 L964.0,409.1 L964.5,420.2 L965.0,431.4 L965.5,442.7 L965.5,443.9 L966.0,454.0 L966.5,465.3 L967.0,476.6 L967.5,488.0 L967.8,494.3 L968.0,499.2 L968.5,510.4 L969.0,521.6 L969.5,532.6 L970.0,543.5 L970.0,543.9 L970.5,554.7 L971.0,566.1 L971.5,577.6 L972.0,589.2 L972.2,595.1 L972.5,600.9 L973.0,612.6 L973.5,624.1 L974.0,635.5 L974.5,646.3 L974.5,646.7 L975.0,657.7 L975.5,668.2 L976.0,678.5 L976.5,688.3 L976.7,692.4 L977.0,697.5 L977.5,706.3 L978.0,714.7 L978.5,722.7 L979.0,729.7 L979.0,730.4 L979.5,737.9 L980.0,745.2 L980.5,752.4 L981.0,759.5 L981.2,762.1 L981.5,766.6 L982.0,773.8 L982.5,781.2 L983.0,788.7 L983.4,795.1 L983.5,796.4 L984.0,804.5 L984.5,812.9 L985.0,821.5 L985.5,830.2 L985.6,832.8 L986.0,838.9 L986.5,847.5 L987.0,856.0 L987.5,864.3 L987.9,870.3 L988.0,872.2 L988.5,879.7 L989.0,886.6 L989.5,893.0 L990.0,899.0 L990.1,900.4 L990.5,904.8 L991.0,910.3 L991.5,915.6 L992.0,920.7 L992.4,924.2 L992.5,925.6 L993.0,930.4 L993.5,935.1 L994.0,939.8 L994.5,944.4 L994.6,945.2 L995.0,948.9 L995.5,953.5 L996.0,958.1 L996.5,962.6 L996.8,965.4 L997.0,967.0 L997.5,971.2 L998.0,975.3 L998.5,979.2 L999.0,982.8 L999.0,983.2 L999.5,986.2 L1000.0,989.4 L1000.5,992.5 L1001.0,995.5 L1001.3,997.2 L1001.5,998.5 L1002.0,1001.3 L1002.5,1004.1 L1003.0,1006.8 L1003.5,1009.4 L1003.5,1009.5 L1004.0,1011.9 L1004.5,1014.3 L1005.0,1016.6 L1005.5,1018.8 L1005.8,1019.9 L1006.0,1021.0 L1006.5,1023.0 L1007.0,1025.0 L1007.5,1026.8 L1008.0,1028.6 L1008.0,1028.6 L1008.5,1030.3 L1009.0,1032.0 L1009.5,1033.6 L1010.0,1035.1 L1010.2,1035.8 L1010.5,1036.6 L1011.0,1037.9 L1011.5,1039.2 L1012.0,1040.5 L1012.5,1041.6 L1012.5,1041.7 L1013.0,1042.9 L1013.5,1044.1 L1014.0,1045.2 L1014.5,1046.4 L1014.7,1046.8 L1015.0,1047.5 L1015.5,1048.7 L1016.0,1049.8 L1016.5,1051.0 L1016.9,1051.9 L1017.0,1052.1 L1017.5,1053.2 L1018.0,1054.2 L1018.5,1055.3 L1019.0,1056.3 L1019.2,1056.6 L1019.5,1057.2 L1020.0,1058.2 L1020.5,1059.0 L1021.0,1059.9 L1021.4,1060.5 L1021.5,1060.7 L1022.0,1061.5 L1022.5,1062.2 L1023.0,1062.9 L1023.5,1063.5 L1023.6,1063.7 L1024.0,1064.2 L1024.5,1064.8 L1025.0,1065.3 L1025.5,1065.9 L1025.9,1066.3 L1026.0,1066.5 L1026.5,1067.1 L1027.0,1067.6 L1027.5,1068.2 L1028.0,1068.7 L1028.1,1068.8 L1028.5,1069.3 L1029.0,1069.9 L1029.5,1070.5 L1030.0,1071.1 L1030.3,1071.4 L1030.5,1071.6 L1031.0,1072.2 L1031.5,1072.7 L1032.0,1073.2 L1032.5,1073.8 L1032.6,1073.8 L1033.0,1074.1 L1033.5,1074.4 L1034.0,1074.7 L1034.5,1075.0 L1034.8,1075.2 L1035.0,1075.3 L1035.5,1075.5 L1036.0,1075.8 L1036.5,1076.0 L1037.0,1076.2 L1037.0,1076.2 L1037.5,1076.6 L1038.0,1076.9 L1038.5,1077.2 L1039.0,1077.5 L1039.3,1077.6 L1039.5,1077.8 L1040.0,1078.0 L1040.5,1078.3 L1041.0,1078.5 L1041.5,1078.7 L1041.5,1078.7 L1042.0,1078.8 L1042.5,1079.0 L1043.0,1079.1 L1043.5,1079.2 L1043.7,1079.2 L1044.0,1079.3 L1046.0,1079.7 L1048.2,1080.6 L1050.4,1081.4 L1052.7,1081.8 L1054.9,1082.2 L1057.1,1082.0 L1059.4,1081.8 L1061.6,1082.3 L1063.8,1082.7 L1066.1,1083.3 L1068.3,1084.0 L1070.5,1084.4 L1072.8,1084.8 L1075.0,1085.2 L1077.2,1085.5 L1079.5,1085.8 L1081.7,1086.0 L1083.9,1086.5 L1086.2,1086.9 L1088.4,1087.3 L1090.6,1087.7 L1092.9,1087.9 L1095.1,1088.1 L1097.3,1088.6 L1099.6,1089.1 L1101.8,1088.8 L1104.0,1088.6 L1106.3,1089.3 L1108.5,1090.0 L1110.7,1090.0 L1113.0,1090.0 L1115.2,1090.5 L1117.4,1091.0 L1119.7,1091.0 L1121.9,1091.0 L1124.1,1091.1 L1126.4,1091.2 L1128.6,1091.6 L1130.8,1091.9 L1133.1,1091.9 L1135.3,1091.9 L1137.5,1092.1 L1139.8,1092.3 L1142.0,1092.5 L1144.2,1092.6 L1146.5,1093.1 L1148.7,1093.5 L1151.0,1093.8 L1153.2,1094.1 L1155.4,1094.4 L1157.7,1094.6 L1159.9,1094.6 L1162.1,1094.6 L1164.3,1095.0 L1166.6,1095.3 L1168.8,1095.3 L1171.0,1095.3 L1173.3,1095.5 L1175.5,1095.6 L1177.8,1095.8 L1180.0,1096.1 L1182.2,1096.3 L1184.5,1096.6 L1186.7,1096.5 L1188.9,1096.5 L1191.2,1096.6 L1193.4,1096.8 L1195.6,1097.0 L1197.9,1097.2 L1200.1,1097.4 L1202.3,1097.6 L1204.6,1097.6 L1206.8,1097.7 L1209.0,1098.1 L1211.3,1098.6 L1213.5,1098.6 L1215.7,1098.5 L1218.0,1098.8 L1220.2,1099.2 L1222.4,1099.1 L1224.7,1099.1 L1226.9,1099.5 L1229.1,1099.9 L1231.4,1100.1 L1233.6,1100.3 L1235.8,1100.3 L1238.1,1100.4 L1240.3,1101.0 L1242.5,1101.6 L1244.8,1101.5 L1247.0,1101.5 L1249.2,1101.9 L1251.5,1102.3 L1253.7,1102.4 L1255.9,1102.5 L1258.2,1102.5 L1260.4,1102.5 L1262.6,1102.8 L1264.9,1103.0 L1267.1,1103.4 L1269.3,1103.8 L1271.6,1103.9 L1273.8,1104.1 L1276.0,1104.4 L1278.3,1104.6 L1280.5,1104.8 L1282.7,1105.0 L1285.0,1105.1 L1287.2,1105.1 L1289.4,1105.6 L1291.7,1106.1 L1293.9,1106.1 L1296.1,1106.1 L1298.4,1106.7 L1300.6,1107.4 L1302.8,1107.5 L1305.1,1107.7 L1307.3,1108.0 L1309.5,1108.3 L1311.8,1108.7 L1314.0,1109.0 L1316.2,1109.4 L1318.5,1109.8 L1320.7,1109.9 L1323.0,1110.0 L1325.2,1110.3 L1327.4,1110.7 L1329.7,1111.2 L1331.9,1111.7 L1334.1,1112.0 L1336.3,1112.3 L1338.6,1113.0 L1340.8,1113.6 L1343.0,1114.5 L1345.3,1115.4 L1347.5,1115.6 L1349.8,1115.7 L1352.0,1116.5 L1354.2,1117.3 L1356.5,1117.5 L1358.7,1117.8 L1360.9,1118.6 L1363.2,1119.4 L1365.4,1119.9 L1367.6,1120.4 L1369.9,1121.0 L1372.1,1121.6 L1374.3,1122.3 L1376.6,1123.0 L1378.8,1123.8 L1381.0,1124.6 L1383.3,1125.0 L1385.5,1125.4 L1387.7,1126.0 L1390.0,1126.7 L1392.2,1127.2 L1394.4,1127.7 L1396.7,1128.6 L1398.9,1129.5 L1401.1,1130.1 L1403.4,1130.7 L1405.6,1131.5 L1407.8,1132.3 L1410.1,1132.9 L1412.3,1133.5 L1414.5,1134.4 L1416.8,1135.4 L1419.0,1135.5 L1421.2,1135.7 L1423.5,1136.6 L1425.7,1137.5 L1427.9,1138.3 L1430.2,1139.1 L1432.4,1139.5 L1434.6,1139.9 L1436.9,1140.5 L1439.1,1141.0 L1441.3,1141.7 L1443.6,1142.4 L1445.8,1142.7 L1448.0,1143.1 L1450.3,1143.8 L1452.5,1144.4 L1454.7,1145.1 L1457.0,1145.7 L1459.2,1145.7 L1461.4,1145.7 L1463.7,1145.5 L1465.9,1145.4 L1468.1,1145.5 L1470.4,1145.7 L1472.6,1145.9 L1474.8,1146.1 L1477.1,1146.4 L1479.3,1146.7 L1481.5,1146.5 L1483.8,1146.3 L1486.0,1146.4 L1488.2,1146.4 L1490.5,1146.7 L1492.7,1147.0 L1495.0,1147.0 L1497.2,1147.0 L1499.4,1146.9 L1501.7,1146.7 L1503.9,1146.6 L1506.1,1146.6 L1508.3,1146.6 L1510.6,1146.5 L1512.8,1146.7 L1515.0,1147.0 L1517.3,1146.9 L1519.5,1146.9 L1521.8,1147.7 L1524.0,1148.4 L1526.2,1148.6 L1528.5,1148.9 L1530.7,1149.5 L1532.9,1150.2 L1535.2,1151.2 L1537.4,1152.4 L1539.6,1153.5 L1541.9,1154.7 L1544.1,1155.7 L1546.3,1156.7 L1548.6,1158.4 L1550.8,1160.1 L1553.0,1161.5 L1555.3,1163.0 L1557.5,1164.2 L1559.7,1165.5 L1562.0,1167.0 L1564.2,1168.6 L1566.4,1170.4 L1568.7,1172.2 L1570.9,1173.7 L1573.1,1175.2 L1575.4,1177.3 L1577.6,1179.5 L1579.8,1180.7 L1582.1,1182.0 L1584.3,1184.0 L1586.5,1186.1 L1588.8,1188.2 L1591.0,1190.2 L1593.2,1192.2 L1595.5,1194.0 L1597.7,1195.9 L1599.9,1197.7 L1602.2,1199.4 L1604.4,1200.9 L1606.6,1202.4 L1608.9,1203.9 L1611.1,1205.6 L1613.3,1207.3 L1615.6,1208.2 L1617.8,1209.1 L1620.0,1210.7 L1622.3,1212.3 L1624.5,1213.5 L1626.7,1214.5 L1629.0,1215.7 L1631.2,1216.9 L1633.4,1218.0 L1635.7,1219.1 L1637.9,1219.9 L1640.1,1220.7 L1642.4,1221.7 L1644.6,1222.6 L1646.8,1223.7 L1649.1,1224.6 L1651.3,1225.2 L1653.5,1225.7 L1655.8,1226.0 L1658.0,1226.4 L1660.2,1227.2 L1662.5,1228.0 L1664.7,1228.5 L1666.9,1228.9 L1669.2,1228.7 L1671.4,1228.4 L1673.7,1229.0 L1675.9,1229.5 L1678.1,1230.0 L1680.3,1230.6 L1682.6,1230.5 L1684.8,1230.3 L1687.0,1230.4 L1689.3,1230.4 L1691.5,1230.4 L1693.8,1230.4 L1696.0,1230.5 L1698.2,1230.6 L1700.5,1230.7 L1702.7,1231.0 L1704.9,1231.1 L1707.2,1231.4 L1709.4,1232.0 L1711.6,1232.6 L1713.8,1233.0 L1716.1,1233.5 L1718.3,1234.2 L1720.6,1235.1 L1722.8,1236.1 L1725.0,1237.2 L1727.3,1238.6 L1729.5,1240.1 L1731.7,1241.2 L1734.0,1242.3 L1736.2,1243.7 L1738.4,1245.2 L1740.7,1246.8 L1742.9,1248.3 L1745.1,1249.6 L1747.4,1250.9 L1749.6,1252.3 L1751.8,1253.7 L1754.1,1255.0 L1756.3,1256.2 L1758.5,1257.4 L1760.8,1258.6 L1763.0,1259.8 L1765.2,1261.0 L1767.5,1262.2 L1769.7,1263.4 L1771.9,1264.7 L1774.2,1266.0 L1776.4,1266.8 L1778.6,1267.6 L1780.9,1268.9 L1783.1,1270.2 L1785.3,1270.9 L1787.6,1271.6 L1789.8,1272.3 L1792.0,1273.0 L1794.3,1273.9 L1796.5,1274.7 L1798.7,1275.4 L1801.0,1276.1 L1803.2,1277.0 L1805.4,1277.9 L1807.7,1278.5 L1809.9,1279.1 L1812.1,1280.1 L1814.4,1281.1 L1816.6,1281.5 L1818.8,1281.9 L1821.1,1282.3 L1823.3,1282.8 L1825.5,1283.7 L1827.8,1284.6 L1830.0,1285.0 L1832.2,1285.5 L1834.5,1286.5 L1836.7,1287.4 L1838.9,1288.2 L1841.2,1289.1 L1843.4,1289.6 L1845.6,1290.2 L1847.9,1290.6 L1850.1,1290.9 L1852.3,1291.6 L1854.6,1292.4 L1856.8,1293.4 L1859.0,1294.4 L1861.3,1294.8 L1863.5,1295.2 L1865.8,1295.7 L1868.0,1296.3 L1870.2,1297.0 L1872.5,1297.7 L1874.7,1298.5 L1876.9,1299.2 L1879.2,1299.6 L1881.4,1300.0 L1883.6,1300.3 L1885.8,1300.6 L1888.1,1301.2 L1890.3,1301.7 L1892.5,1302.2 L1894.8,1302.7 L1897.0,1303.0 L1899.3,1303.3 L1901.5,1303.6 L1903.7,1304.0 L1906.0,1304.6 L1908.2,1305.2 L1910.4,1305.5 L1912.7,1305.8 L1914.9,1306.3 L1917.1,1306.9 L1919.4,1307.3 L1921.6,1307.8 L1923.8,1308.5 L1926.1,1309.3 L1928.3,1309.2 L1930.5,1309.2 L1932.8,1309.7 L1935.0,1310.2 L1937.2,1310.6 L1939.5,1311.0 L1941.7,1311.5 L1943.9,1312.0 L1946.2,1312.5 L1948.4,1313.0 L1950.6,1313.2 L1952.9,1313.3 L1955.1,1313.7 L1957.3,1314.0 L1959.6,1314.3 L1961.8,1314.5 L1964.0,1315.0 L1966.3,1315.5 L1968.5,1316.1 L1970.7,1316.7 L1973.0,1317.0 L1975.2,1317.3 L1977.4,1317.5 L1979.7,1317.7 L1981.9,1318.2 L1984.1,1318.7 L1986.4,1319.1 L1988.6,1319.5 L1990.8,1320.0 L1993.1,1320.4 L1995.3,1320.6 L1997.5,1320.8 L1999.8,1321.2 L2002.0,1321.6 L2004.2,1321.7 L2006.5,1321.9 L2008.7,1322.3 L2010.9,1322.8 L2013.2,1323.5 L2015.4,1324.3 L2017.6,1324.1 L2019.9,1323.8 L2022.1,1324.4 L2024.3,1325.0 L2026.6,1325.5 L2028.8,1325.9 L2031.0,1326.1 L2033.3,1326.3 L2035.5,1326.5 L2037.8,1326.8 L2040.0,1327.2 L2042.2,1327.6 L2044.5,1327.9 L2046.7,1328.2 L2048.9,1328.5 L2051.2,1328.7 L2053.4,1328.7 L2055.6,1328.8 L2057.8,1329.3 L2060.1,1329.8 L2062.3,1330.0 L2064.6,1330.1 L2066.8,1330.5 L2069.0,1330.8 L2071.2,1331.1 L2073.5,1331.5 L2075.7,1331.8 L2078.0,1332.1 L2080.2,1332.4 L2082.4,1332.7 L2084.7,1332.8 L2086.9,1332.8 L2089.1,1333.2 L2091.4,1333.7 L2093.6,1334.0 L2095.8,1334.3 L2098.1,1334.5 L2100.3,1334.7 L2102.5,1335.0 L2104.8,1335.3 L2107.0,1335.3 L2109.2,1335.3 L2111.5,1335.5 L2113.7,1335.7 L2115.9,1336.1 L2118.2,1336.5 L2120.4,1336.4 L2122.6,1336.2 L2124.9,1336.7 L2127.1,1337.1 L2129.3,1337.3 L2131.6,1337.3 L2133.8,1337.6 L2136.0,1337.8 L2138.3,1337.8 L2140.5,1337.8 L2142.7,1338.1 L2145.0,1338.5" stroke="#0000ff"/>
<path d="M353.7,807.8 L355.9,808.7 L358.2,809.7 L360.4,809.9 L362.6,810.1 L364.9,809.4 L367.1,808.7 L369.3,809.2 L371.6,810.0 L373.8,810.4 L376.0,810.9 L378.3,812.9 L380.5,814.9 L382.7,815.4 L385.0,815.8 L387.2,817.6 L389.4,819.3 L391.7,821.2 L393.9,823.2 L396.1,822.9 L398.4,822.7 L400.6,822.7 L402.8,822.7 L405.1,824.4 L407.3,826.0 L409.5,826.7 L411.8,827.5 L414.0,828.9 L416.2,830.3 L418.5,833.2 L420.7,836.1 L422.9,836.6 L425.2,837.0 L427.4,837.2 L429.6,837.2 L431.9,839.8 L434.1,842.3 L436.3,843.8 L438.6,845.3 L440.8,845.4 L443.1,845.5 L445.3,846.4 L447.5,847.3 L449.8,848.7 L452.0,850.0 L454.2,851.6 L456.4,853.3 L458.7,854.8 L460.9,856.4 L463.1,858.1 L465.4,859.9 L467.6,861.5 L469.9,863.0 L472.1,864.6 L474.3,866.2 L476.6,867.8 L478.8,869.5 L481.0,870.7 L483.3,872.0 L485.5,872.5 L487.7,873.1 L490.0,875.4 L492.2,877.7 L494.4,879.5 L496.7,881.3 L498.9,882.7 L501.1,884.0 L503.4,886.2 L505.6,888.4 L507.8,889.4 L510.1,890.4 L512.3,891.7 L514.5,893.0 L516.8,895.4 L519.0,897.8 L521.2,898.9 L523.5,900.1 L525.7,901.3 L527.9,902.6 L530.2,904.3 L532.4,906.0 L534.6,907.5 L536.9,909.1 L539.1,910.3 L541.3,911.6 L543.6,912.1 L545.8,912.6 L548.0,914.7 L550.3,916.8 L552.5,918.3 L554.7,919.8 L557.0,921.1 L559.2,922.3 L561.4,924.2 L563.7,926.0 L565.9,927.7 L568.1,929.4 L570.4,930.2 L572.6,931.0 L574.8,932.2 L577.1,933.3 L579.3,935.5 L581.5,937.7 L583.8,938.2 L586.0,938.6 L588.2,939.5 L590.5,940.5 L592.7,942.0 L594.9,943.6 L597.2,944.8 L599.4,946.0 L601.7,946.8 L603.9,947.6 L606.1,949.1 L608.4,950.7 L610.6,951.5 L612.8,952.4 L615.1,953.4 L617.3,954.5 L619.5,956.0 L621.8,957.4 L624.0,958.7 L626.2,960.1 L628.5,960.9 L630.7,961.7 L632.9,963.1 L635.2,964.6 L637.4,965.6 L639.6,966.7 L641.9,968.6 L644.1,970.5 L646.3,970.9 L648.6,971.2 L650.8,972.9 L653.0,974.6 L655.3,975.5 L657.5,976.3 L659.7,977.5 L662.0,978.7 L664.2,980.1 L666.4,981.5 L668.7,982.7 L670.9,983.9 L673.1,985.1 L675.4,986.3 L677.6,987.3 L679.8,988.2 L682.1,989.1 L684.3,990.1 L686.5,991.2 L688.8,992.4 L691.0,993.7 L693.2,995.1 L695.5,996.2 L697.7,997.3 L699.9,998.6 L702.2,999.9 L704.4,1000.7 L706.6,1001.5 L708.9,1002.7 L711.1,1003.8 L713.3,1004.8 L715.6,1005.9 L717.8,1006.5 L720.0,1007.1 L722.3,1007.7 L724.5,1008.3 L726.7,1009.2 L729.0,1010.1 L731.2,1010.9 L733.4,1011.7 L735.7,1013.1 L737.9,1014.5 L740.1,1014.8 L742.4,1015.1 L744.6,1016.3 L746.8,1017.4 L749.1,1018.0 L751.3,1018.6 L753.5,1019.5 L755.8,1020.4 L758.0,1021.0 L760.2,1021.5 L762.5,1022.0 L764.7,1022.5 L766.9,1023.2 L769.2,1023.8 L771.4,1024.4 L773.6,1025.0 L775.9,1025.5 L778.1,1026.0 L780.4,1026.2 L782.6,1026.3 L784.8,1026.7 L787.1,1027.0 L789.3,1027.4 L791.5,1027.8 L793.8,1027.1 L796.0,1026.5 L798.2,1026.7 L800.5,1026.9 L802.7,1026.3 L804.9,1025.2 L807.2,1024.3 L809.4,1023.2 L811.6,1021.8 L813.9,1019.9 L816.1,1017.5 L818.3,1014.9 L820.6,1012.6 L822.8,1010.3 L825.0,1007.3 L827.3,1004.3 L829.5,1002.2 L831.7,1000.1 L834.0,997.2 L836.2,994.4 L838.4,992.4 L840.7,990.7 L842.9,988.7 L845.1,987.0 L847.4,985.4 L849.6,984.4 L851.8,984.4 L854.1,984.5 L856.3,984.6 L858.5,985.0 L860.8,985.8 L863.0,986.8 L865.2,987.3 L867.5,987.7 L869.7,988.1 L871.9,988.5 L874.2,988.3 L876.4,987.4 L878.6,986.7 L879.7,986.3 L880.2,986.1 L880.7,985.9 L880.9,985.8 L881.2,985.6 L881.7,985.1 L882.2,984.6 L882.7,984.0 L883.1,983.4 L883.2,983.3 L883.7,982.5 L884.2,981.7 L884.7,980.8 L885.2,979.9 L885.3,979.7 L885.7,978.9 L886.2,977.8 L886.7,976.7 L887.2,975.5 L887.6,974.6 L887.7,974.2 L888.2,972.9 L888.7,971.4 L889.2,969.9 L889.7,968.2 L889.8,967.9 L890.2,966.5 L890.7,964.8 L891.2,963.0 L891.7,961.0 L892.0,959.8 L892.2,959.1 L892.7,957.0 L893.2,954.9 L893.7,952.7 L894.2,950.5 L894.3,950.2 L894.7,948.1 L895.2,945.7 L895.7,943.1 L896.2,940.3 L896.5,938.5 L896.7,937.3 L897.2,934.1 L897.7,930.8 L898.2,927.4 L898.7,923.8 L898.7,923.6 L899.2,920.3 L899.7,916.7 L900.2,912.9 L900.7,909.1 L901.0,907.0 L901.2,905.2 L901.7,901.2 L902.2,897.2 L902.7,893.1 L903.2,889.0 L903.7,884.7 L904.2,880.3 L904.7,875.8 L905.2,871.2 L905.4,868.9 L905.7,866.4 L906.2,861.5 L906.7,856.5 L907.2,851.4 L907.7,846.4 L907.7,846.1 L908.2,840.6 L908.7,834.9 L909.2,829.2 L909.7,823.4 L909.9,821.0 L910.2,817.4 L910.7,811.3 L911.2,805.1 L911.7,798.9 L912.1,793.3 L912.2,792.5 L912.7,786.0 L913.2,779.2 L913.7,772.2 L914.2,764.9 L914.4,762.4 L914.7,757.5 L915.2,749.9 L915.7,742.1 L916.2,734.2 L916.6,727.7 L916.7,726.1 L917.2,717.9 L917.7,709.5 L918.2,701.1 L918.7,692.6 L918.8,690.2 L919.2,683.9 L919.7,675.0 L920.2,665.9 L920.7,656.7 L921.1,649.8 L921.2,647.4 L921.7,637.8 L922.2,628.2 L922.7,618.4 L923.2,608.5 L923.3,606.3 L923.7,598.5 L924.2,588.4 L924.7,578.2 L925.2,567.9 L925.5,560.8 L925.7,557.5 L926.2,547.2 L926.7,536.9 L927.2,526.3 L927.7,515.4 L927.8,513.8 L928.2,504.2 L928.7,492.8 L929.2,481.2 L929.7,469.5 L930.0,462.2 L930.2,457.6 L930.7,445.6 L931.2,433.5 L931.7,421.4 L932.2,409.4 L932.2,408.4 L932.7,397.4 L933.2,385.6 L933.7,374.0 L934.2,362.5 L934.5,356.2 L934.7,351.4 L935.2,340.6 L935.7,330.1 L936.2,319.7 L936.7,309.1 L936.7,308.9 L937.2,298.5 L937.7,287.9 L938.2,277.7 L938.7,267.8 L938.9,263.2 L939.2,258.4 L939.7,249.7 L940.2,241.8 L940.7,234.8 L941.2,228.7 L941.2,228.4 L941.7,222.3 L942.2,216.5 L942.7,211.0 L943.2,205.9 L943.4,203.9 L943.7,201.2 L944.2,197.0 L944.7,193.4 L945.2,190.3 L945.6,187.8 L945.7,187.4 L946.2,184.6 L946.7,182.1 L947.2,179.9 L947.7,178.3 L947.9,177.9 L948.2,177.5 L948.7,177.5 L949.2,178.5 L949.7,180.2 L950.1,182.1 L950.2,182.5 L950.7,185.3 L951.2,188.4 L951.7,191.7 L952.2,196.7 L952.3,198.3 L952.7,203.1 L953.2,210.7 L953.7,218.8 L954.2,227.0 L954.6,233.1 L954.7,234.9 L955.2,242.5 L955.7,250.3 L956.2,258.2 L956.7,266.2 L956.8,268.0 L957.2,274.3 L957.7,282.6 L958.2,291.0 L958.7,299.6 L959.1,305.8 L959.2,308.4 L959.7,317.4 L960.2,326.5 L960.7,335.9 L961.2,345.5 L961.3,347.1 L961.7,355.5 L962.2,365.7 L962.7,376.1 L963.2,386.7 L963.5,393.3 L963.7,397.5 L964.2,408.4 L964.7,419.5 L965.2,430.6 L965.7,441.9 L965.8,443.0 L966.2,453.3 L966.7,464.7 L967.2,476.1 L967.7,487.5 L968.0,493.9 L968.2,498.9 L968.7,510.2 L969.2,521.4 L969.7,532.5 L970.2,543.5 L970.2,543.9 L970.7,554.6 L971.2,566.0 L971.7,577.4 L972.2,589.0 L972.5,594.8 L972.7,600.6 L973.2,612.2 L973.7,623.7 L974.2,635.1 L974.7,645.8 L974.7,646.2 L975.2,657.1 L975.7,667.7 L976.2,677.9 L976.7,687.7 L976.9,691.8 L977.2,697.0 L977.7,705.8 L978.2,714.1 L978.7,722.1 L979.2,729.1 L979.2,729.8 L979.7,737.3 L980.2,744.6 L980.7,751.8 L981.2,759.0 L981.4,761.6 L981.7,766.1 L982.2,773.4 L982.7,780.7 L983.2,788.2 L983.6,794.7 L983.7,796.0 L984.2,804.1 L984.7,812.5 L985.2,821.1 L985.7,829.9 L985.9,832.5 L986.2,838.6 L986.7,847.3 L987.2,855.8 L987.7,864.1 L988.1,870.1 L988.2,872.0 L988.7,879.4 L989.2,886.3 L989.7,892.6 L990.2,898.5 L990.3,899.9 L990.7,904.2 L991.2,909.6 L991.7,914.9 L992.2,919.9 L992.6,923.3 L992.7,924.8 L993.2,929.6 L993.7,934.4 L994.2,939.0 L994.7,943.6 L994.8,944.5 L995.2,948.2 L995.7,952.8 L996.2,957.4 L996.7,961.9 L997.0,964.8 L997.2,966.3 L997.7,970.6 L998.2,974.7 L998.7,978.6 L999.2,982.2 L999.2,982.6 L999.7,985.6 L1000.2,988.8 L1000.7,991.9 L1001.2,995.0 L1001.5,996.7 L1001.7,997.9 L1002.2,1000.9 L1002.7,1003.7 L1003.2,1006.5 L1003.7,1009.1 L1003.7,1009.2 L1004.2,1011.7 L1004.7,1014.2 L1005.2,1016.5 L1005.7,1018.8 L1006.0,1019.9 L1006.2,1020.9 L1006.7,1022.9 L1007.2,1024.8 L1007.7,1026.7 L1008.2,1028.4 L1008.2,1028.4 L1008.7,1030.1 L1009.2,1031.7 L1009.7,1033.2 L1010.2,1034.7 L1010.4,1035.4 L1010.7,1036.2 L1011.2,1037.6 L1011.7,1039.0 L1012.2,1040.4 L1012.7,1041.6 L1012.7,1041.7 L1013.2,1043.0 L1013.7,1044.2 L1014.2,1045.5 L1014.7,1046.7 L1014.9,1047.2 L1015.2,1047.8 L1015.7,1048.8 L1016.2,1049.8 L1016.7,1050.8 L1017.1,1051.6 L1017.2,1051.8 L1017.7,1052.7 L1018.2,1053.6 L1018.7,1054.5 L1019.2,1055.4 L1019.4,1055.6 L1019.7,1056.3 L1020.2,1057.2 L1020.7,1058.1 L1021.2,1059.0 L1021.6,1059.7 L1021.7,1059.9 L1022.2,1060.6 L1022.7,1061.4 L1023.2,1062.1 L1023.7,1062.8 L1023.8,1062.9 L1024.2,1063.4 L1024.7,1064.1 L1025.2,1064.8 L1025.7,1065.4 L1026.1,1065.9 L1026.2,1066.1 L1026.7,1066.7 L1027.2,1067.4 L1027.7,1068.0 L1028.2,1068.6 L1028.3,1068.7 L1028.7,1069.1 L1029.2,1069.6 L1029.7,1070.1 L1030.2,1070.6 L1030.5,1070.9 L1030.7,1071.1 L1031.2,1071.5 L1031.7,1072.0 L1032.2,1072.4 L1032.7,1072.8 L1032.8,1072.8 L1033.2,1073.2 L1033.7,1073.7 L1034.2,1074.1 L1034.7,1074.4 L1035.0,1074.7 L1035.2,1074.8 L1035.7,1075.2 L1036.2,1075.5 L1036.7,1075.9 L1037.2,1076.2 L1037.2,1076.2 L1037.7,1076.5 L1038.2,1076.9 L1038.7,1077.2 L1039.2,1077.5 L1039.5,1077.7 L1039.7,1077.8 L1040.2,1078.1 L1040.7,1078.3 L1041.2,1078.6 L1041.7,1078.8 L1041.7,1078.8 L1042.2,1078.9 L1042.7,1079.0 L1043.2,1079.1 L1043.7,1079.1 L1043.9,1079.2 L1044.2,1079.2 L1046.2,1079.5 L1048.4,1079.9 L1050.6,1080.3 L1052.9,1080.7 L1055.1,1081.0 L1057.3,1081.7 L1059.6,1082.3 L1061.8,1082.6 L1064.0,1082.9 L1066.3,1083.0 L1068.5,1083.1 L1070.7,1083.6 L1073.0,1084.0 L1075.2,1084.7 L1077.4,1085.3 L1079.7,1085.6 L1081.9,1086.0 L1084.1,1086.2 L1086.4,1086.4 L1088.6,1086.9 L1090.8,1087.5 L1093.1,1087.8 L1095.3,1088.1 L1097.5,1088.0 L1099.8,1088.0 L1102.0,1088.5 L1104.2,1089.0 L1106.5,1089.4 L1108.7,1089.7 L1110.9,1089.8 L1113.2,1089.9 L1115.4,1089.9 L1117.6,1089.8 L1119.9,1090.3 L1122.1,1090.8 L1124.3,1091.1 L1126.6,1091.5 L1128.8,1091.8 L1131.0,1092.1 L1133.3,1091.7 L1135.5,1091.3 L1137.8,1092.3 L1140.0,1093.2 L1142.2,1092.9 L1144.5,1092.5 L1146.7,1093.1 L1148.9,1093.6 L1151.2,1093.9 L1153.4,1094.1 L1155.6,1094.3 L1157.9,1094.4 L1160.1,1094.4 L1162.3,1094.5 L1164.5,1094.5 L1166.8,1094.4 L1169.0,1094.9 L1171.2,1095.3 L1173.5,1095.2 L1175.7,1095.2 L1178.0,1095.1 L1180.2,1095.0 L1182.4,1095.9 L1184.7,1096.9 L1186.9,1096.7 L1189.1,1096.6 L1191.4,1096.9 L1193.6,1097.2 L1195.8,1097.0 L1198.1,1096.7 L1200.3,1097.3 L1202.5,1097.8 L1204.8,1098.0 L1207.0,1098.2 L1209.2,1098.4 L1211.5,1098.6 L1213.7,1098.5 L1215.9,1098.4 L1218.2,1098.4 L1220.4,1098.4 L1222.6,1098.8 L1224.9,1099.1 L1227.1,1099.0 L1229.3,1098.9 L1231.6,1099.2 L1233.8,1099.4 L1236.0,1099.9 L1238.3,1100.4 L1240.5,1100.4 L1242.7,1100.4 L1245.0,1100.8 L1247.2,1101.1 L1249.4,1101.3 L1251.7,1101.6 L1253.9,1102.1 L1256.1,1102.6 L1258.4,1102.7 L1260.6,1102.9 L1262.8,1102.9 L1265.1,1102.9 L1267.3,1103.4 L1269.5,1103.8 L1271.8,1103.7 L1274.0,1103.7 L1276.2,1104.0 L1278.5,1104.3 L1280.7,1104.8 L1282.9,1105.2 L1285.2,1105.1 L1287.4,1105.1 L1289.6,1105.5 L1291.9,1105.9 L1294.1,1106.0 L1296.3,1106.1 L1298.6,1106.6 L1300.8,1107.1 L1303.0,1107.7 L1305.3,1108.2 L1307.5,1108.1 L1309.7,1108.1 L1312.0,1108.5 L1314.2,1109.0 L1316.5,1109.1 L1318.7,1109.3 L1320.9,1109.6 L1323.2,1109.9 L1325.4,1110.3 L1327.6,1110.6 L1329.9,1111.4 L1332.1,1112.3 L1334.3,1112.8 L1336.5,1113.4 L1338.8,1113.6 L1341.0,1113.9 L1343.2,1114.2 L1345.5,1114.5 L1347.7,1115.3 L1350.0,1116.0 L1352.2,1116.4 L1354.4,1116.8 L1356.7,1117.5 L1358.9,1118.2 L1361.1,1118.7 L1363.4,1119.2 L1365.6,1119.8 L1367.8,1120.3 L1370.1,1121.0 L1372.3,1121.6 L1374.5,1122.0 L1376.8,1122.5 L1379.0,1123.1 L1381.2,1123.7 L1383.5,1124.2 L1385.7,1124.6 L1387.9,1125.5 L1390.2,1126.3 L1392.4,1126.8 L1394.6,1127.4 L1396.9,1128.2 L1399.1,1129.1 L1401.3,1129.7 L1403.6,1130.2 L1405.8,1131.1 L1408.0,1131.9 L1410.3,1132.7 L1412.5,1133.4 L1414.7,1133.8 L1417.0,1134.3 L1419.2,1135.0 L1421.4,1135.8 L1423.7,1136.5 L1425.9,1137.1 L1428.1,1138.0 L1430.4,1138.9 L1432.6,1139.6 L1434.8,1140.4 L1437.1,1140.8 L1439.3,1141.3 L1441.5,1141.7 L1443.8,1142.1 L1446.0,1143.0 L1448.2,1143.7 L1450.5,1143.8 L1452.7,1143.7 L1454.9,1144.5 L1457.2,1145.2 L1459.4,1145.1 L1461.6,1144.9 L1463.9,1144.8 L1466.1,1144.7 L1468.3,1145.6 L1470.6,1146.6 L1472.8,1146.5 L1475.0,1146.5 L1477.3,1146.2 L1479.5,1145.9 L1481.7,1146.1 L1484.0,1146.4 L1486.2,1146.4 L1488.4,1146.4 L1490.7,1146.5 L1492.9,1146.5 L1495.2,1146.3 L1497.4,1146.1 L1499.6,1146.3 L1501.9,1146.4 L1504.1,1146.6 L1506.3,1146.8 L1508.5,1146.9 L1510.8,1146.9 L1513.0,1147.1 L1515.2,1147.3 L1517.5,1147.3 L1519.7,1147.4 L1522.0,1148.0 L1524.2,1148.7 L1526.4,1148.7 L1528.7,1148.6 L1530.9,1149.2 L1533.1,1150.0 L1535.4,1150.4 L1537.6,1151.1 L1539.8,1152.3 L1542.1,1153.7 L1544.3,1155.5 L1546.5,1157.3 L1548.8,1158.3 L1551.0,1159.4 L1553.2,1161.0 L1555.5,1162.6 L1557.7,1164.0 L1559.9,1165.5 L1562.2,1166.9 L1564.4,1168.4 L1566.6,1170.2 L1568.9,1171.9 L1571.1,1173.6 L1573.3,1175.3 L1575.6,1177.0 L1577.8,1178.7 L1580.0,1180.7 L1582.3,1182.7 L1584.5,1184.6 L1586.7,1186.5 L1589.0,1188.2 L1591.2,1190.0 L1593.4,1191.8 L1595.7,1193.6 L1597.9,1195.6 L1600.1,1197.5 L1602.4,1199.1 L1604.6,1200.6 L1606.8,1202.4 L1609.1,1204.1 L1611.3,1205.8 L1613.5,1207.5 L1615.8,1208.7 L1618.0,1209.8 L1620.2,1211.0 L1622.5,1212.1 L1624.7,1213.3 L1626.9,1214.5 L1629.2,1215.5 L1631.4,1216.4 L1633.6,1217.5 L1635.9,1218.5 L1638.1,1219.6 L1640.3,1220.5 L1642.6,1221.5 L1644.8,1222.5 L1647.0,1223.3 L1649.3,1224.0 L1651.5,1224.9 L1653.7,1225.6 L1656.0,1225.9 L1658.2,1226.2 L1660.4,1226.7 L1662.7,1227.2 L1664.9,1227.4 L1667.1,1227.6 L1669.4,1228.4 L1671.6,1229.1 L1673.9,1229.3 L1676.1,1229.3 L1678.3,1229.8 L1680.5,1230.1 L1682.8,1230.1 L1685.0,1230.1 L1687.2,1230.3 L1689.5,1230.5 L1691.7,1230.4 L1694.0,1230.2 L1696.2,1230.5 L1698.4,1230.7 L1700.7,1231.2 L1702.9,1231.6 L1705.1,1231.3 L1707.4,1231.0 L1709.6,1231.7 L1711.8,1232.6 L1714.0,1233.2 L1716.3,1233.9 L1718.5,1234.4 L1720.8,1235.1 L1723.0,1236.3 L1725.2,1237.6 L1727.5,1238.9 L1729.7,1240.2 L1731.9,1241.2 L1734.2,1242.2 L1736.4,1243.7 L1738.6,1245.2 L1740.9,1246.4 L1743.1,1247.6 L1745.3,1249.0 L1747.6,1250.4 L1749.8,1251.8 L1752.0,1253.1 L1754.3,1254.5 L1756.5,1255.8 L1758.7,1257.1 L1761.0,1258.4 L1763.2,1259.7 L1765.4,1261.0 L1767.7,1261.9 L1769.9,1262.9 L1772.1,1264.5 L1774.4,1266.2 L1776.6,1267.2 L1778.8,1268.1 L1781.1,1269.0 L1783.3,1269.9 L1785.5,1270.6 L1787.8,1271.3 L1790.0,1272.2 L1792.2,1273.0 L1794.5,1273.9 L1796.7,1274.8 L1798.9,1275.5 L1801.2,1276.3 L1803.4,1276.7 L1805.6,1277.1 L1807.9,1278.2 L1810.1,1279.3 L1812.3,1280.4 L1814.6,1281.4 L1816.8,1281.4 L1819.0,1281.3 L1821.3,1282.5 L1823.5,1283.6 L1825.7,1284.1 L1828.0,1284.7 L1830.2,1285.3 L1832.4,1285.9 L1834.7,1286.8 L1836.9,1287.6 L1839.1,1287.9 L1841.4,1288.2 L1843.6,1289.0 L1845.8,1289.9 L1848.1,1290.7 L1850.3,1291.6 L1852.5,1292.0 L1854.8,1292.3 L1857.0,1292.9 L1859.2,1293.5 L1861.5,1294.2 L1863.7,1294.9 L1866.0,1295.4 L1868.2,1295.9 L1870.4,1296.8 L1872.7,1297.7 L1874.9,1297.9 L1877.1,1298.0 L1879.4,1298.8 L1881.6,1299.6 L1883.8,1299.8 L1886.0,1300.0 L1888.3,1300.8 L1890.5,1301.6 L1892.8,1301.9 L1895.0,1302.3 L1897.2,1302.4 L1899.5,1302.4 L1901.7,1303.3 L1903.9,1304.1 L1906.2,1304.4 L1908.4,1304.7 L1910.6,1305.2 L1912.9,1305.7 L1915.1,1306.5 L1917.3,1307.2 L1919.6,1307.2 L1921.8,1307.2 L1924.0,1307.6 L1926.3,1308.1 L1928.5,1308.9 L1930.7,1309.7 L1933.0,1309.9 L1935.2,1310.1 L1937.4,1310.7 L1939.7,1311.3 L1941.9,1311.6 L1944.1,1311.8 L1946.4,1312.0 L1948.6,1312.2 L1950.8,1312.7 L1953.1,1313.3 L1955.3,1313.8 L1957.5,1314.4 L1959.8,1314.8 L1962.0,1315.1 L1964.2,1315.4 L1966.5,1315.6 L1968.7,1316.0 L1970.9,1316.4 L1973.2,1316.7 L1975.4,1317.1 L1977.6,1317.4 L1979.9,1317.7 L1982.1,1318.4 L1984.3,1319.2 L1986.6,1319.3 L1988.8,1319.3 L1991.0,1319.5 L1993.3,1319.7 L1995.5,1320.2 L1997.7,1320.6 L2000.0,1321.2 L2002.2,1321.7 L2004.4,1322.1 L2006.7,1322.4 L2008.9,1322.6 L2011.1,1322.9 L2013.4,1323.1 L2015.6,1323.4 L2017.8,1323.8 L2020.1,1324.3 L2022.3,1324.4 L2024.5,1324.4 L2026.8,1324.8 L2029.0,1325.2 L2031.2,1325.8 L2033.5,1326.5 L2035.7,1326.6 L2038.0,1326.7 L2040.2,1327.1 L2042.4,1327.5 L2044.7,1328.0 L2046.9,1328.4 L2049.1,1328.6 L2051.3,1328.8 L2053.6,1328.9 L2055.8,1329.1 L2058.0,1329.7 L2060.3,1330.3 L2062.5,1330.4 L2064.8,1330.4 L2067.0,1330.5 L2069.2,1330.6 L2071.4,1331.0 L2073.7,1331.5 L2075.9,1331.7 L2078.2,1331.9 L2080.4,1331.9 L2082.6,1332.0 L2084.9,1332.4 L2087.1,1332.8 L2089.3,1333.0 L2091.6,1333.2 L2093.8,1333.1 L2096.0,1333.1 L2098.3,1333.6 L2100.5,1334.1 L2102.7,1334.3 L2105.0,1334.6 L2107.2,1334.8 L2109.4,1335.0 L2111.7,1335.0 L2113.9,1335.1 L2116.1,1335.5 L2118.4,1335.9 L2120.6,1336.2 L2122.8,1336.4 L2125.1,1336.7 L2127.3,1336.9 L2129.5,1336.9 L2131.8,1337.0 L2134.0,1337.4 L2136.2,1337.9 L2138.5,1337.8 L2140.7,1337.8 L2142.9,1338.1 L2145.2,1338.5" stroke="#008080"/>
<path d="M353.3,811.1 L355.5,809.1 L357.8,807.1 L360.0,807.5 L362.2,807.9 L364.5,809.6 L366.7,811.5 L368.9,810.7 L371.2,810.2 L373.4,811.3 L375.6,812.4 L377.9,813.8 L380.1,815.2 L382.3,816.9 L384.6,818.6 L386.8,816.9 L389.0,815.3 L391.3,817.5 L393.5,819.8 L395.7,820.7 L398.0,821.7 L400.2,822.8 L402.4,823.9 L404.7,825.2 L406.9,826.5 L409.1,827.7 L411.4,828.9 L413.6,830.9 L415.8,832.9 L418.1,833.3 L420.3,833.7 L422.6,835.6 L424.8,837.5 L427.0,838.9 L429.2,840.3 L431.5,840.8 L433.7,841.2 L435.9,842.9 L438.2,844.6 L440.4,846.6 L442.7,848.5 L444.9,848.8 L447.1,849.1 L449.4,849.7 L451.6,850.3 L453.8,851.8 L456.1,853.5 L458.3,854.4 L460.5,855.3 L462.8,857.4 L465.0,859.6 L467.2,861.4 L469.5,863.3 L471.7,864.0 L473.9,864.7 L476.2,866.7 L478.4,868.6 L480.6,870.8 L482.9,873.0 L485.1,873.8 L487.3,874.6 L489.6,876.6 L491.8,878.5 L494.0,879.6 L496.3,880.7 L498.5,882.5 L500.7,884.2 L503.0,886.0 L505.2,887.7 L507.4,890.5 L509.7,893.1 L511.9,893.6 L514.1,894.0 L516.4,895.5 L518.6,896.9 L520.8,898.3 L523.1,899.7 L525.3,901.3 L527.5,902.9 L529.8,904.6 L532.0,906.4 L534.2,907.7 L536.5,909.1 L538.7,911.2 L540.9,913.4 L543.2,914.2 L545.4,915.1 L547.6,917.0 L549.9,918.8 L552.1,919.9 L554.3,920.9 L556.6,922.5 L558.8,924.0 L561.0,924.7 L563.3,925.5 L565.5,927.3 L567.7,929.1 L570.0,930.5 L572.2,931.9 L574.4,933.2 L576.7,934.4 L578.9,935.1 L581.1,935.8 L583.4,937.9 L585.6,940.0 L587.8,940.8 L590.1,941.6 L592.3,942.7 L594.5,943.8 L596.8,945.0 L599.0,946.2 L601.2,947.3 L603.5,948.4 L605.7,949.8 L607.9,951.1 L610.2,951.8 L612.4,952.5 L614.6,953.8 L616.9,955.1 L619.1,956.6 L621.3,958.1 L623.6,959.2 L625.8,960.4 L628.0,961.4 L630.3,962.4 L632.5,963.6 L634.8,964.7 L637.0,965.8 L639.2,966.9 L641.4,968.3 L643.7,969.7 L645.9,971.2 L648.2,972.7 L650.4,973.4 L652.6,974.0 L654.9,975.9 L657.1,977.7 L659.3,978.7 L661.6,979.8 L663.8,980.6 L666.0,981.5 L668.3,983.0 L670.5,984.4 L672.7,985.1 L675.0,985.7 L677.2,986.8 L679.4,987.9 L681.7,989.1 L683.9,990.4 L686.1,991.7 L688.4,993.0 L690.6,994.2 L692.8,995.3 L695.1,996.4 L697.3,997.5 L699.5,998.7 L701.8,999.9 L704.0,1000.5 L706.2,1001.0 L708.5,1002.6 L710.7,1004.2 L712.9,1004.7 L715.2,1005.3 L717.4,1006.3 L719.6,1007.4 L721.9,1008.4 L724.1,1009.3 L726.3,1010.0 L728.6,1010.7 L730.8,1011.5 L733.0,1012.3 L735.3,1013.2 L737.5,1014.1 L739.7,1015.1 L742.0,1016.0 L744.2,1016.9 L746.4,1017.8 L748.7,1018.5 L750.9,1019.2 L753.1,1019.5 L755.4,1019.9 L757.6,1020.7 L759.8,1021.4 L762.1,1022.1 L764.3,1022.8 L766.5,1023.7 L768.8,1024.6 L771.0,1024.7 L773.2,1024.8 L775.5,1025.9 L777.7,1027.0 L779.9,1027.0 L782.2,1026.9 L784.4,1027.2 L786.6,1027.3 L788.9,1027.7 L791.1,1027.9 L793.3,1028.0 L795.6,1028.1 L797.8,1027.8 L800.0,1027.5 L802.3,1027.3 L804.5,1026.5 L806.8,1025.2 L809.0,1023.7 L811.2,1022.5 L813.4,1020.7 L815.7,1018.4 L817.9,1015.9 L820.1,1013.3 L822.4,1010.6 L824.6,1008.3 L826.9,1005.9 L829.1,1003.2 L831.3,1000.4 L833.6,997.7 L835.8,995.2 L838.0,992.9 L840.3,990.8 L842.5,989.0 L844.7,987.4 L847.0,986.5 L849.2,986.2 L851.4,985.5 L853.7,984.9 L855.9,985.2 L858.1,985.8 L860.4,986.3 L862.6,987.0 L864.8,987.7 L867.1,988.3 L869.3,988.3 L871.5,988.3 L873.8,988.7 L876.0,988.4 L878.2,987.4 L879.3,986.8 L879.8,986.5 L880.3,986.2 L880.5,986.1 L880.8,985.9 L881.3,985.4 L881.8,984.8 L882.3,984.1 L882.7,983.5 L882.8,983.3 L883.3,982.5 L883.8,981.6 L884.3,980.7 L884.8,979.7 L884.9,979.4 L885.3,978.7 L885.8,977.7 L886.3,976.7 L886.8,975.6 L887.2,974.8 L887.3,974.5 L887.8,973.2 L888.3,971.8 L888.8,970.4 L889.3,968.8 L889.4,968.5 L889.8,967.1 L890.3,965.3 L890.8,963.3 L891.3,961.4 L891.6,960.0 L891.8,959.3 L892.3,957.2 L892.8,955.0 L893.3,952.7 L893.8,950.4 L893.9,950.1 L894.3,948.2 L894.8,945.9 L895.3,943.4 L895.8,940.8 L896.1,939.1 L896.3,938.0 L896.8,935.0 L897.3,931.9 L897.8,928.6 L898.3,925.2 L898.3,924.9 L898.8,921.5 L899.3,917.7 L899.8,913.9 L900.3,909.9 L900.6,907.7 L900.8,905.8 L901.3,901.7 L901.8,897.6 L902.3,893.3 L902.8,889.1 L903.3,884.8 L903.8,880.4 L904.3,875.9 L904.8,871.2 L905.0,869.0 L905.3,866.4 L905.8,861.5 L906.3,856.5 L906.8,851.4 L907.3,846.4 L907.3,846.1 L907.8,840.5 L908.3,834.9 L908.8,829.1 L909.3,823.2 L909.5,820.9 L909.8,817.3 L910.3,811.2 L910.8,805.0 L911.3,798.7 L911.7,793.0 L911.8,792.3 L912.3,785.8 L912.8,779.1 L913.3,772.2 L913.8,765.0 L914.0,762.5 L914.3,757.6 L914.8,750.1 L915.3,742.4 L915.8,734.5 L916.2,728.2 L916.3,726.5 L916.8,718.3 L917.3,709.9 L917.8,701.5 L918.3,693.0 L918.4,690.5 L918.8,684.2 L919.3,675.4 L919.8,666.3 L920.3,657.1 L920.7,650.2 L920.8,647.7 L921.3,638.3 L921.8,628.7 L922.3,619.0 L922.8,609.2 L922.9,607.1 L923.3,599.3 L923.8,589.3 L924.3,579.2 L924.8,569.0 L925.1,562.0 L925.3,558.7 L925.8,548.2 L926.3,537.7 L926.8,527.0 L927.3,515.9 L927.4,514.3 L927.8,504.6 L928.3,493.1 L928.8,481.3 L929.3,469.5 L929.6,462.1 L929.8,457.5 L930.3,445.6 L930.8,433.6 L931.3,421.6 L931.8,409.7 L931.8,408.7 L932.3,397.9 L932.8,386.1 L933.3,374.6 L933.8,363.2 L934.1,357.0 L934.3,352.2 L934.8,341.5 L935.3,331.1 L935.8,320.7 L936.3,310.2 L936.3,310.0 L936.8,299.6 L937.3,289.2 L937.8,279.0 L938.3,269.2 L938.5,264.6 L938.8,259.8 L939.3,250.9 L939.8,242.9 L940.3,235.7 L940.8,229.5 L940.8,229.2 L941.3,223.0 L941.8,217.0 L942.3,211.4 L942.8,206.2 L943.0,204.1 L943.3,201.4 L943.8,197.2 L944.3,193.6 L944.8,190.4 L945.2,187.9 L945.3,187.6 L945.8,184.8 L946.3,182.2 L946.8,180.0 L947.3,178.4 L947.5,178.0 L947.8,177.6 L948.3,177.7 L948.8,178.7 L949.3,180.4 L949.7,182.3 L949.8,182.8 L950.3,185.6 L950.8,188.7 L951.3,192.0 L951.8,197.0 L951.9,198.7 L952.3,203.5 L952.8,211.0 L953.3,219.1 L953.8,227.3 L954.2,233.4 L954.3,235.2 L954.8,242.8 L955.3,250.5 L955.8,258.3 L956.3,266.3 L956.4,268.1 L956.8,274.6 L957.3,282.9 L957.8,291.5 L958.3,300.2 L958.6,306.4 L958.8,309.1 L959.3,318.2 L959.8,327.5 L960.3,337.0 L960.8,346.7 L960.9,348.3 L961.3,356.7 L961.8,366.9 L962.3,377.4 L962.8,388.0 L963.1,394.7 L963.3,398.9 L963.8,409.8 L964.3,420.9 L964.8,432.2 L965.3,443.4 L965.3,444.6 L965.8,454.7 L966.3,466.0 L966.8,477.3 L967.3,488.5 L967.6,494.8 L967.8,499.8 L968.3,510.9 L968.8,522.0 L969.3,533.0 L969.8,543.9 L969.8,544.3 L970.3,555.0 L970.8,566.3 L971.3,577.8 L971.8,589.3 L972.0,595.1 L972.3,600.9 L972.8,612.5 L973.3,624.0 L973.8,635.3 L974.3,646.0 L974.3,646.5 L974.8,657.5 L975.3,668.2 L975.8,678.6 L976.3,688.5 L976.5,692.7 L976.8,697.9 L977.3,706.8 L977.8,715.3 L978.3,723.4 L978.8,730.5 L978.8,731.2 L979.3,738.7 L979.8,746.0 L980.3,753.2 L980.8,760.4 L981.0,762.9 L981.3,767.5 L981.8,774.7 L982.3,782.0 L982.8,789.6 L983.2,796.1 L983.3,797.3 L983.8,805.4 L984.3,813.8 L984.8,822.4 L985.3,831.1 L985.4,833.7 L985.8,839.8 L986.3,848.4 L986.8,856.9 L987.3,865.1 L987.7,871.1 L987.8,873.0 L988.3,880.5 L988.8,887.4 L989.3,893.8 L989.8,899.8 L989.9,901.2 L990.3,905.5 L990.8,911.0 L991.3,916.3 L991.8,921.4 L992.1,924.9 L992.3,926.3 L992.8,931.1 L993.3,935.7 L993.8,940.3 L994.3,944.8 L994.4,945.6 L994.8,949.3 L995.3,953.8 L995.8,958.3 L996.3,962.7 L996.6,965.5 L996.8,967.1 L997.3,971.4 L997.8,975.5 L998.3,979.4 L998.8,983.1 L998.8,983.5 L999.3,986.6 L999.8,989.8 L1000.3,992.9 L1000.8,996.0 L1001.1,997.8 L1001.3,999.0 L1001.8,1001.8 L1002.3,1004.5 L1002.8,1007.2 L1003.3,1009.7 L1003.3,1009.8 L1003.8,1012.2 L1004.3,1014.5 L1004.8,1016.8 L1005.3,1019.0 L1005.6,1020.0 L1005.8,1021.0 L1006.3,1023.0 L1006.8,1024.9 L1007.3,1026.7 L1007.8,1028.4 L1007.8,1028.5 L1008.3,1030.1 L1008.8,1031.7 L1009.3,1033.3 L1009.8,1034.8 L1010.0,1035.4 L1010.3,1036.2 L1010.8,1037.7 L1011.3,1039.1 L1011.8,1040.5 L1012.3,1041.7 L1012.3,1041.9 L1012.8,1043.2 L1013.3,1044.4 L1013.8,1045.7 L1014.3,1047.0 L1014.5,1047.4 L1014.8,1048.1 L1015.3,1049.2 L1015.8,1050.3 L1016.3,1051.3 L1016.7,1052.2 L1016.8,1052.3 L1017.3,1053.3 L1017.8,1054.3 L1018.3,1055.3 L1018.8,1056.2 L1019.0,1056.5 L1019.3,1057.2 L1019.8,1058.2 L1020.3,1059.2 L1020.8,1060.2 L1021.2,1060.9 L1021.3,1061.1 L1021.8,1061.9 L1022.3,1062.7 L1022.8,1063.5 L1023.3,1064.3 L1023.4,1064.4 L1023.8,1064.9 L1024.3,1065.4 L1024.8,1065.9 L1025.3,1066.5 L1025.7,1066.8 L1025.8,1067.0 L1026.3,1067.5 L1026.8,1068.0 L1027.3,1068.5 L1027.8,1069.0 L1027.9,1069.1 L1028.3,1069.5 L1028.8,1070.0 L1029.3,1070.5 L1029.8,1071.0 L1030.1,1071.3 L1030.3,1071.5 L1030.8,1071.9 L1031.3,1072.4 L1031.8,1072.8 L1032.3,1073.3 L1032.4,1073.3 L1032.8,1073.7 L1033.3,1074.2 L1033.8,1074.7 L1034.3,1075.1 L1034.6,1075.4 L1034.8,1075.6 L1035.3,1076.0 L1035.8,1076.4 L1036.3,1076.7 L1036.8,1077.1 L1036.8,1077.1 L1037.3,1077.4 L1037.8,1077.8 L1038.3,1078.0 L1038.8,1078.3 L1039.1,1078.5 L1039.3,1078.6 L1039.8,1078.8 L1040.3,1079.0 L1040.8,1079.2 L1041.3,1079.4 L1041.3,1079.4 L1041.8,1079.5 L1042.3,1079.7 L1042.8,1079.8 L1043.3,1079.9 L1043.5,1079.9 L1043.8,1080.0 L1045.8,1080.3 L1048.0,1080.6 L1050.2,1080.8 L1052.5,1081.5 L1054.7,1082.2 L1056.9,1082.7 L1059.2,1083.2 L1061.4,1083.2 L1063.6,1083.3 L1065.9,1083.6 L1068.1,1083.9 L1070.3,1084.6 L1072.6,1085.2 L1074.8,1085.5 L1077.0,1085.7 L1079.3,1085.9 L1081.5,1086.1 L1083.7,1086.6 L1086.0,1087.1 L1088.2,1087.3 L1090.4,1087.6 L1092.7,1088.1 L1094.9,1088.6 L1097.1,1088.9 L1099.4,1089.2 L1101.6,1089.6 L1103.8,1090.1 L1106.1,1090.3 L1108.3,1090.4 L1110.5,1090.3 L1112.8,1090.2 L1115.0,1090.7 L1117.2,1091.2 L1119.5,1091.5 L1121.7,1091.8 L1123.9,1091.9 L1126.2,1092.0 L1128.4,1092.3 L1130.6,1092.5 L1132.9,1092.5 L1135.1,1092.4 L1137.3,1092.6 L1139.6,1092.7 L1141.8,1093.2 L1144.0,1093.8 L1146.3,1093.7 L1148.5,1093.6 L1150.8,1093.6 L1153.0,1093.7 L1155.2,1094.3 L1157.5,1095.0 L1159.7,1094.9 L1161.9,1094.8 L1164.1,1095.1 L1166.4,1095.3 L1168.6,1095.3 L1170.8,1095.3 L1173.1,1095.4 L1175.3,1095.6 L1177.5,1095.8 L1179.8,1096.0 L1182.0,1096.3 L1184.3,1096.5 L1186.5,1096.8 L1188.7,1097.1 L1191.0,1096.8 L1193.2,1096.6 L1195.4,1097.2 L1197.7,1097.8 L1199.9,1097.7 L1202.1,1097.6 L1204.4,1097.8 L1206.6,1098.0 L1208.8,1098.4 L1211.1,1098.9 L1213.3,1099.0 L1215.5,1099.0 L1217.8,1099.0 L1220.0,1098.9 L1222.2,1099.6 L1224.5,1100.3 L1226.7,1100.1 L1228.9,1099.9 L1231.2,1100.3 L1233.4,1100.6 L1235.6,1100.8 L1237.9,1101.0 L1240.1,1101.4 L1242.3,1101.8 L1244.6,1101.7 L1246.8,1101.6 L1249.0,1102.1 L1251.3,1102.5 L1253.5,1102.4 L1255.7,1102.4 L1258.0,1102.9 L1260.2,1103.4 L1262.4,1103.4 L1264.7,1103.3 L1266.9,1103.6 L1269.1,1103.9 L1271.4,1104.5 L1273.6,1105.1 L1275.8,1105.1 L1278.1,1105.1 L1280.3,1105.3 L1282.5,1105.6 L1284.8,1106.1 L1287.0,1106.7 L1289.2,1106.7 L1291.5,1106.7 L1293.7,1106.8 L1295.9,1106.9 L1298.2,1107.4 L1300.4,1107.9 L1302.6,1107.9 L1304.9,1107.9 L1307.1,1108.6 L1309.3,1109.2 L1311.6,1109.5 L1313.8,1109.9 L1316.0,1109.9 L1318.3,1110.0 L1320.5,1110.3 L1322.8,1110.7 L1325.0,1111.2 L1327.2,1111.7 L1329.5,1112.0 L1331.7,1112.4 L1333.9,1112.7 L1336.1,1113.0 L1338.4,1113.8 L1340.6,1114.5 L1342.8,1114.6 L1345.1,1114.7 L1347.3,1115.5 L1349.5,1116.3 L1351.8,1116.8 L1354.0,1117.4 L1356.2,1117.9 L1358.5,1118.5 L1360.7,1119.2 L1363.0,1119.8 L1365.2,1120.1 L1367.4,1120.5 L1369.7,1121.3 L1371.9,1122.2 L1374.1,1122.7 L1376.4,1123.2 L1378.6,1123.7 L1380.8,1124.3 L1383.1,1124.8 L1385.3,1125.3 L1387.5,1126.0 L1389.8,1126.7 L1392.0,1127.6 L1394.2,1128.5 L1396.5,1129.0 L1398.7,1129.5 L1400.9,1130.3 L1403.2,1131.1 L1405.4,1132.0 L1407.6,1132.8 L1409.9,1133.5 L1412.1,1134.2 L1414.3,1135.0 L1416.6,1135.7 L1418.8,1136.2 L1421.0,1136.6 L1423.3,1137.1 L1425.5,1137.7 L1427.7,1138.6 L1430.0,1139.6 L1432.2,1140.0 L1434.4,1140.5 L1436.7,1141.3 L1438.9,1142.0 L1441.1,1142.4 L1443.4,1142.8 L1445.6,1143.6 L1447.8,1144.3 L1450.1,1144.7 L1452.3,1145.0 L1454.5,1145.3 L1456.8,1145.6 L1459.0,1145.7 L1461.2,1145.9 L1463.5,1146.1 L1465.7,1146.2 L1467.9,1146.3 L1470.2,1146.4 L1472.4,1146.6 L1474.6,1146.7 L1476.9,1146.9 L1479.1,1147.1 L1481.3,1147.0 L1483.6,1146.8 L1485.8,1147.2 L1488.0,1147.6 L1490.3,1147.3 L1492.5,1147.1 L1494.8,1147.3 L1497.0,1147.5 L1499.2,1147.3 L1501.5,1147.2 L1503.7,1147.2 L1505.9,1147.2 L1508.1,1147.6 L1510.4,1148.0 L1512.6,1147.7 L1514.8,1147.5 L1517.1,1147.5 L1519.3,1147.6 L1521.5,1148.0 L1523.8,1148.4 L1526.0,1148.9 L1528.2,1149.3 L1530.5,1150.2 L1532.7,1151.1 L1535.0,1151.6 L1537.2,1152.3 L1539.4,1153.6 L1541.7,1155.0 L1543.9,1156.0 L1546.1,1157.2 L1548.4,1158.8 L1550.6,1160.4 L1552.8,1161.8 L1555.1,1163.3 L1557.3,1164.9 L1559.5,1166.6 L1561.8,1167.8 L1564.0,1169.1 L1566.2,1170.9 L1568.5,1172.8 L1570.7,1174.5 L1572.9,1176.1 L1575.2,1177.7 L1577.4,1179.2 L1579.6,1181.1 L1581.9,1183.1 L1584.1,1184.9 L1586.3,1186.8 L1588.6,1188.4 L1590.8,1190.0 L1593.0,1192.4 L1595.3,1194.7 L1597.5,1196.5 L1599.7,1198.2 L1602.0,1199.7 L1604.2,1201.1 L1606.4,1202.5 L1608.7,1203.9 L1610.9,1205.9 L1613.1,1207.8 L1615.4,1209.0 L1617.6,1210.2 L1619.8,1211.7 L1622.1,1213.0 L1624.3,1214.3 L1626.5,1215.5 L1628.8,1216.4 L1631.0,1217.1 L1633.2,1218.4 L1635.5,1219.7 L1637.7,1220.5 L1639.9,1221.3 L1642.2,1222.3 L1644.4,1223.2 L1646.6,1224.0 L1648.9,1224.7 L1651.1,1225.4 L1653.3,1226.0 L1655.6,1226.7 L1657.8,1227.3 L1660.0,1227.6 L1662.3,1227.9 L1664.5,1228.2 L1666.7,1228.6 L1669.0,1228.9 L1671.2,1229.2 L1673.5,1229.5 L1675.7,1229.9 L1677.9,1229.9 L1680.1,1229.9 L1682.4,1230.1 L1684.6,1230.3 L1686.8,1230.5 L1689.1,1230.7 L1691.3,1230.7 L1693.5,1230.7 L1695.8,1230.9 L1698.0,1231.1 L1700.2,1231.1 L1702.5,1231.2 L1704.7,1231.8 L1707.0,1232.5 L1709.2,1232.8 L1711.4,1233.2 L1713.6,1233.6 L1715.9,1234.1 L1718.1,1234.8 L1720.4,1235.6 L1722.6,1237.0 L1724.8,1238.6 L1727.1,1239.6 L1729.3,1240.6 L1731.5,1241.7 L1733.8,1243.0 L1736.0,1244.3 L1738.2,1245.7 L1740.5,1247.1 L1742.7,1248.5 L1744.9,1250.1 L1747.2,1251.6 L1749.4,1252.8 L1751.6,1253.9 L1753.9,1255.5 L1756.1,1257.1 L1758.3,1257.9 L1760.6,1258.7 L1762.8,1260.2 L1765.0,1261.7 L1767.3,1262.6 L1769.5,1263.6 L1771.7,1265.2 L1774.0,1266.7 L1776.2,1267.5 L1778.4,1268.2 L1780.7,1269.2 L1782.9,1270.2 L1785.1,1271.3 L1787.4,1272.3 L1789.6,1273.2 L1791.8,1274.0 L1794.1,1274.5 L1796.3,1274.9 L1798.5,1275.8 L1800.8,1276.6 L1803.0,1277.2 L1805.2,1277.8 L1807.5,1278.8 L1809.7,1279.7 L1811.9,1280.4 L1814.2,1281.1 L1816.4,1281.8 L1818.6,1282.4 L1820.9,1283.0 L1823.1,1283.7 L1825.3,1284.4 L1827.6,1285.1 L1829.8,1285.7 L1832.0,1286.3 L1834.3,1287.1 L1836.5,1288.0 L1838.7,1288.8 L1841.0,1289.6 L1843.2,1289.7 L1845.4,1289.9 L1847.7,1290.8 L1849.9,1291.7 L1852.1,1292.3 L1854.4,1292.9 L1856.6,1293.6 L1858.8,1294.4 L1861.1,1294.8 L1863.3,1295.2 L1865.5,1295.9 L1867.8,1296.6 L1870.0,1297.1 L1872.2,1297.5 L1874.5,1298.3 L1876.7,1299.1 L1879.0,1299.6 L1881.2,1300.0 L1883.4,1300.5 L1885.6,1300.9 L1887.9,1301.5 L1890.1,1302.1 L1892.3,1302.5 L1894.6,1302.8 L1896.8,1303.1 L1899.1,1303.4 L1901.3,1304.1 L1903.5,1304.9 L1905.8,1305.3 L1908.0,1305.7 L1910.2,1306.1 L1912.5,1306.4 L1914.7,1307.0 L1916.9,1307.6 L1919.2,1308.1 L1921.4,1308.5 L1923.6,1308.6 L1925.9,1308.7 L1928.1,1309.1 L1930.3,1309.6 L1932.6,1310.3 L1934.8,1311.1 L1937.0,1311.5 L1939.3,1311.9 L1941.5,1312.0 L1943.7,1312.1 L1946.0,1312.4 L1948.2,1312.7 L1950.4,1313.2 L1952.7,1313.7 L1954.9,1314.1 L1957.1,1314.5 L1959.4,1314.7 L1961.6,1315.0 L1963.8,1315.6 L1966.1,1316.2 L1968.3,1316.4 L1970.5,1316.6 L1972.8,1317.0 L1975.0,1317.3 L1977.2,1318.0 L1979.5,1318.7 L1981.7,1318.9 L1983.9,1319.0 L1986.2,1319.4 L1988.4,1319.9 L1990.6,1320.4 L1992.9,1320.8 L1995.1,1321.2 L1997.3,1321.6 L1999.6,1321.8 L2001.8,1322.0 L2004.0,1322.4 L2006.3,1322.8 L2008.5,1323.0 L2010.7,1323.3 L2013.0,1324.0 L2015.2,1324.7 L2017.4,1324.9 L2019.7,1325.1 L2021.9,1325.2 L2024.1,1325.2 L2026.4,1325.7 L2028.6,1326.2 L2030.8,1326.6 L2033.1,1327.0 L2035.3,1327.3 L2037.5,1327.6 L2039.8,1328.1 L2042.0,1328.6 L2044.2,1328.8 L2046.5,1329.0 L2048.7,1329.0 L2051.0,1329.0 L2053.2,1329.3 L2055.4,1329.7 L2057.7,1329.8 L2059.9,1329.9 L2062.1,1330.4 L2064.4,1330.9 L2066.6,1331.1 L2068.8,1331.4 L2071.1,1332.0 L2073.3,1332.7 L2075.5,1332.5 L2077.8,1332.4 L2080.0,1332.3 L2082.2,1332.2 L2084.5,1332.7 L2086.7,1333.1 L2088.9,1333.5 L2091.2,1333.9 L2093.4,1333.9 L2095.6,1333.9 L2097.9,1334.2 L2100.1,1334.5 L2102.3,1334.8 L2104.6,1335.1 L2106.8,1335.5 L2109.0,1335.8 L2111.3,1336.0 L2113.5,1336.1 L2115.7,1336.2 L2118.0,1336.3 L2120.2,1336.8 L2122.4,1337.3 L2124.7,1337.3 L2126.9,1337.3 L2129.1,1337.5 L2131.4,1337.8 L2133.6,1337.8 L2135.8,1337.9 L2138.1,1338.2 L2140.3,1338.5 L2142.5,1338.9 L2144.8,1339.3" stroke="#ff00ff"/>
<path d="M354.3,806.0 L356.5,807.5 L358.8,809.2 L361.0,810.1 L363.2,811.0 L365.5,810.2 L367.7,809.5 L369.9,810.7 L372.2,812.1 L374.4,812.0 L376.6,811.8 L378.9,814.8 L381.1,817.9 L383.3,818.6 L385.6,819.4 L387.8,819.8 L390.0,820.1 L392.3,819.6 L394.5,819.2 L396.7,820.8 L399.0,822.5 L401.2,825.2 L403.4,827.8 L405.7,829.4 L407.9,831.1 L410.1,831.2 L412.4,831.3 L414.6,833.2 L416.8,835.0 L419.1,835.0 L421.3,834.9 L423.6,836.4 L425.8,837.9 L428.0,839.2 L430.2,840.6 L432.5,842.0 L434.7,843.5 L436.9,843.4 L439.2,843.4 L441.4,845.9 L443.7,848.5 L445.9,849.7 L448.1,851.0 L450.4,850.8 L452.6,850.5 L454.8,851.7 L457.1,852.9 L459.3,855.2 L461.5,857.5 L463.8,858.4 L466.0,859.4 L468.2,860.1 L470.5,860.8 L472.7,864.0 L474.9,867.2 L477.2,868.5 L479.4,869.7 L481.6,871.0 L483.9,872.3 L486.1,875.1 L488.3,877.9 L490.6,878.6 L492.8,879.3 L495.0,880.5 L497.3,881.8 L499.5,883.8 L501.7,885.8 L504.0,887.0 L506.2,888.1 L508.4,889.8 L510.7,891.5 L512.9,893.5 L515.1,895.5 L517.4,896.6 L519.6,897.6 L521.8,899.1 L524.1,900.6 L526.3,902.8 L528.5,905.1 L530.8,906.2 L533.0,907.4 L535.2,908.8 L537.5,910.3 L539.7,911.7 L541.9,913.1 L544.2,914.6 L546.4,916.1 L548.6,917.9 L550.9,919.7 L553.1,920.6 L555.3,921.5 L557.6,923.6 L559.8,925.6 L562.0,926.1 L564.3,926.6 L566.5,928.2 L568.7,929.9 L571.0,930.9 L573.2,931.9 L575.4,933.5 L577.7,935.1 L579.9,936.7 L582.1,938.2 L584.4,939.7 L586.6,941.1 L588.8,941.7 L591.1,942.2 L593.3,943.5 L595.5,944.9 L597.8,945.9 L600.0,946.9 L602.2,947.9 L604.5,949.0 L606.7,950.0 L608.9,951.0 L611.2,952.5 L613.4,954.1 L615.6,954.8 L617.9,955.4 L620.1,957.1 L622.3,958.8 L624.6,959.9 L626.8,961.1 L629.0,962.1 L631.3,963.1 L633.5,964.2 L635.8,965.3 L638.0,966.4 L640.2,967.5 L642.4,969.5 L644.7,971.5 L646.9,971.9 L649.2,972.3 L651.4,974.2 L653.6,976.1 L655.9,977.1 L658.1,978.0 L660.3,979.0 L662.6,980.0 L664.8,981.0 L667.0,982.0 L669.3,983.7 L671.5,985.3 L673.7,986.7 L676.0,988.0 L678.2,988.5 L680.4,989.0 L682.7,990.3 L684.9,991.6 L687.1,993.0 L689.4,994.5 L691.6,995.5 L693.8,996.4 L696.1,997.9 L698.3,999.4 L700.5,999.9 L702.8,1000.4 L705.0,1001.7 L707.2,1003.0 L709.5,1003.6 L711.7,1004.2 L713.9,1005.9 L716.2,1007.5 L718.4,1007.8 L720.6,1008.2 L722.9,1008.8 L725.1,1009.4 L727.3,1010.7 L729.6,1011.9 L731.8,1012.8 L734.0,1013.6 L736.3,1014.8 L738.5,1016.0 L740.7,1016.4 L743.0,1016.7 L745.2,1017.5 L747.4,1018.3 L749.7,1019.2 L751.9,1020.0 L754.1,1020.8 L756.4,1021.7 L758.6,1022.1 L760.8,1022.5 L763.1,1023.4 L765.3,1024.3 L767.5,1024.9 L769.8,1025.4 L772.0,1025.9 L774.2,1026.3 L776.5,1026.8 L778.7,1027.3 L780.9,1027.7 L783.2,1027.9 L785.4,1028.0 L787.6,1028.1 L789.9,1028.6 L792.1,1029.0 L794.3,1028.5 L796.6,1028.0 L798.8,1028.3 L801.0,1028.6 L803.3,1028.2 L805.5,1027.3 L807.8,1026.0 L810.0,1024.5 L812.2,1022.9 L814.4,1020.8 L816.7,1018.5 L818.9,1016.2 L821.1,1013.9 L823.4,1011.6 L825.6,1009.0 L827.9,1006.5 L830.1,1003.9 L832.3,1001.2 L834.6,998.7 L836.8,996.3 L839.0,993.9 L841.3,991.7 L843.5,989.9 L845.7,988.4 L848.0,986.9 L850.2,986.2 L852.4,986.2 L854.7,986.4 L856.9,986.3 L859.1,986.4 L861.4,986.9 L863.6,987.5 L865.8,988.5 L868.1,989.4 L870.3,989.7 L872.5,990.0 L874.8,989.5 L877.0,988.3 L879.2,987.7 L880.3,987.3 L880.8,987.0 L881.3,986.8 L881.5,986.7 L881.8,986.5 L882.3,985.9 L882.8,985.4 L883.3,984.7 L883.7,984.1 L883.8,983.9 L884.3,983.1 L884.8,982.2 L885.3,981.2 L885.8,980.3 L885.9,980.0 L886.3,979.3 L886.8,978.4 L887.3,977.5 L887.8,976.4 L888.2,975.6 L888.3,975.3 L888.8,974.1 L889.3,972.8 L889.8,971.4 L890.3,969.9 L890.4,969.6 L890.8,968.3 L891.3,966.6 L891.8,964.9 L892.3,963.0 L892.6,961.8 L892.8,961.1 L893.3,959.1 L893.8,957.1 L894.3,955.0 L894.8,952.8 L894.9,952.5 L895.3,950.4 L895.8,947.9 L896.3,945.2 L896.8,942.3 L897.1,940.5 L897.3,939.3 L897.8,936.1 L898.3,932.7 L898.8,929.2 L899.3,925.6 L899.3,925.3 L899.8,922.0 L900.3,918.3 L900.8,914.5 L901.3,910.6 L901.6,908.4 L901.8,906.6 L902.3,902.6 L902.8,898.5 L903.3,894.3 L903.8,890.1 L904.3,885.8 L904.8,881.3 L905.3,876.7 L905.8,872.0 L906.0,869.7 L906.3,867.1 L906.8,862.2 L907.3,857.1 L907.8,851.9 L908.3,846.8 L908.3,846.5 L908.8,841.1 L909.3,835.6 L909.8,829.9 L910.3,824.2 L910.5,821.8 L910.8,818.3 L911.3,812.3 L911.8,806.2 L912.3,800.1 L912.7,794.5 L912.8,793.8 L913.3,787.2 L913.8,780.4 L914.3,773.4 L914.8,766.2 L915.0,763.7 L915.3,758.7 L915.8,751.1 L916.3,743.3 L916.8,735.4 L917.2,728.9 L917.3,727.3 L917.8,719.1 L918.3,710.8 L918.8,702.5 L919.3,694.0 L919.4,691.6 L919.8,685.3 L920.3,676.5 L920.8,667.5 L921.3,658.3 L921.7,651.5 L921.8,649.0 L922.3,639.4 L922.8,629.8 L923.3,619.9 L923.8,610.0 L923.9,607.8 L924.3,600.0 L924.8,589.8 L925.3,579.6 L925.8,569.3 L926.1,562.2 L926.3,558.9 L926.8,548.7 L927.3,538.3 L927.8,527.7 L928.3,516.8 L928.4,515.3 L928.8,505.6 L929.3,494.3 L929.8,482.7 L930.3,471.0 L930.6,463.7 L930.8,459.1 L931.3,447.1 L931.8,435.0 L932.3,422.9 L932.8,410.9 L932.8,409.9 L933.3,398.9 L933.8,387.1 L934.3,375.4 L934.8,364.0 L935.1,357.7 L935.3,352.9 L935.8,342.1 L936.3,331.6 L936.8,321.2 L937.3,310.6 L937.3,310.4 L937.8,300.0 L938.3,289.5 L938.8,279.2 L939.3,269.4 L939.5,264.8 L939.8,260.0 L940.3,251.3 L940.8,243.4 L941.3,236.4 L941.8,230.3 L941.8,230.0 L942.3,223.9 L942.8,218.1 L943.3,212.6 L943.8,207.6 L944.0,205.5 L944.3,202.9 L944.8,198.6 L945.3,194.9 L945.8,191.8 L946.2,189.3 L946.3,188.9 L946.8,186.1 L947.3,183.5 L947.8,181.3 L948.3,179.7 L948.5,179.2 L948.8,178.8 L949.3,178.8 L949.8,179.7 L950.3,181.4 L950.7,183.2 L950.8,183.7 L951.3,186.4 L951.8,189.4 L952.3,192.7 L952.8,197.6 L952.9,199.3 L953.3,204.1 L953.8,211.7 L954.3,219.8 L954.8,228.0 L955.2,234.1 L955.3,235.9 L955.8,243.6 L956.3,251.3 L956.8,259.2 L957.3,267.2 L957.4,269.0 L957.8,275.4 L958.3,283.7 L958.8,292.2 L959.3,300.9 L959.6,307.0 L959.8,309.7 L960.3,318.7 L960.8,327.9 L961.3,337.3 L961.8,347.0 L961.9,348.6 L962.3,357.0 L962.8,367.2 L963.3,377.7 L963.8,388.3 L964.1,395.0 L964.3,399.1 L964.8,410.1 L965.3,421.2 L965.8,432.4 L966.3,443.7 L966.3,444.8 L966.8,455.0 L967.3,466.5 L967.8,477.9 L968.3,489.3 L968.6,495.6 L968.8,500.6 L969.3,511.9 L969.8,523.1 L970.3,534.2 L970.8,545.3 L970.8,545.7 L971.3,556.3 L971.8,567.6 L972.3,579.0 L972.8,590.5 L973.0,596.3 L973.3,602.1 L973.8,613.6 L974.3,625.0 L974.8,636.3 L975.3,647.0 L975.3,647.4 L975.8,658.4 L976.3,669.1 L976.8,679.4 L977.3,689.2 L977.5,693.4 L977.8,698.6 L978.3,707.5 L978.8,715.9 L979.3,724.0 L979.8,731.0 L979.8,731.8 L980.3,739.3 L980.8,746.6 L981.3,753.8 L981.8,761.0 L982.0,763.5 L982.3,768.1 L982.8,775.3 L983.3,782.7 L983.8,790.2 L984.2,796.7 L984.3,798.0 L984.8,806.1 L985.3,814.4 L985.8,823.0 L986.3,831.7 L986.4,834.3 L986.8,840.4 L987.3,849.1 L987.8,857.6 L988.3,865.8 L988.7,871.8 L988.8,873.7 L989.3,881.2 L989.8,888.1 L990.3,894.4 L990.8,900.4 L990.9,901.8 L991.3,906.2 L991.8,911.7 L992.3,916.9 L992.8,922.0 L993.1,925.5 L993.3,927.0 L993.8,931.8 L994.3,936.5 L994.8,941.2 L995.3,945.8 L995.4,946.7 L995.8,950.5 L996.3,955.1 L996.8,959.7 L997.3,964.2 L997.6,967.1 L997.8,968.6 L998.3,972.8 L998.8,976.9 L999.3,980.8 L999.8,984.4 L999.8,984.8 L1000.3,987.8 L1000.8,991.0 L1001.3,994.0 L1001.8,997.1 L1002.1,998.8 L1002.3,1000.0 L1002.8,1002.9 L1003.3,1005.7 L1003.8,1008.4 L1004.3,1011.0 L1004.3,1011.1 L1004.8,1013.5 L1005.3,1015.9 L1005.8,1018.2 L1006.3,1020.4 L1006.6,1021.5 L1006.8,1022.5 L1007.3,1024.5 L1007.8,1026.4 L1008.3,1028.2 L1008.8,1029.9 L1008.8,1029.9 L1009.3,1031.6 L1009.8,1033.2 L1010.3,1034.7 L1010.8,1036.2 L1011.0,1036.8 L1011.3,1037.6 L1011.8,1039.1 L1012.3,1040.4 L1012.8,1041.8 L1013.3,1043.0 L1013.3,1043.1 L1013.8,1044.4 L1014.3,1045.6 L1014.8,1046.8 L1015.3,1048.0 L1015.5,1048.5 L1015.8,1049.1 L1016.3,1050.1 L1016.8,1051.1 L1017.3,1052.1 L1017.7,1052.9 L1017.8,1053.1 L1018.3,1054.0 L1018.8,1054.9 L1019.3,1055.8 L1019.8,1056.6 L1020.0,1056.9 L1020.3,1057.6 L1020.8,1058.7 L1021.3,1059.6 L1021.8,1060.6 L1022.2,1061.3 L1022.3,1061.5 L1022.8,1062.4 L1023.3,1063.2 L1023.8,1064.0 L1024.3,1064.7 L1024.4,1064.9 L1024.8,1065.4 L1025.3,1065.9 L1025.8,1066.5 L1026.3,1067.0 L1026.7,1067.4 L1026.8,1067.6 L1027.3,1068.1 L1027.8,1068.6 L1028.3,1069.2 L1028.8,1069.7 L1028.9,1069.7 L1029.3,1070.2 L1029.8,1070.7 L1030.3,1071.3 L1030.8,1071.8 L1031.1,1072.1 L1031.3,1072.3 L1031.8,1072.8 L1032.3,1073.3 L1032.8,1073.7 L1033.3,1074.2 L1033.4,1074.2 L1033.8,1074.6 L1034.3,1075.0 L1034.8,1075.4 L1035.3,1075.8 L1035.6,1076.0 L1035.8,1076.1 L1036.3,1076.4 L1036.8,1076.8 L1037.3,1077.1 L1037.8,1077.4 L1037.8,1077.4 L1038.3,1077.6 L1038.8,1077.9 L1039.3,1078.1 L1039.8,1078.3 L1040.1,1078.4 L1040.3,1078.5 L1040.8,1078.7 L1041.3,1078.8 L1041.8,1079.0 L1042.3,1079.1 L1042.3,1079.1 L1042.8,1079.3 L1043.3,1079.5 L1043.8,1079.7 L1044.3,1079.9 L1044.5,1080.0 L1044.8,1080.1 L1046.8,1080.9 L1049.0,1081.4 L1051.2,1081.8 L1053.5,1082.4 L1055.7,1083.0 L1057.9,1083.1 L1060.2,1083.1 L1062.4,1083.9 L1064.6,1084.7 L1066.9,1084.9 L1069.1,1085.0 L1071.3,1085.4 L1073.6,1085.7 L1075.8,1086.0 L1078.0,1086.3 L1080.3,1086.6 L1082.5,1087.0 L1084.7,1087.3 L1087.0,1087.6 L1089.2,1088.1 L1091.4,1088.5 L1093.7,1088.9 L1095.9,1089.3 L1098.1,1089.6 L1100.4,1089.9 L1102.6,1090.0 L1104.8,1090.1 L1107.1,1090.5 L1109.3,1090.9 L1111.5,1091.1 L1113.8,1091.2 L1116.0,1091.6 L1118.2,1091.9 L1120.5,1092.4 L1122.7,1092.9 L1124.9,1092.9 L1127.2,1092.9 L1129.4,1092.9 L1131.6,1092.9 L1133.9,1092.9 L1136.1,1092.9 L1138.3,1093.2 L1140.6,1093.4 L1142.8,1093.6 L1145.0,1093.8 L1147.3,1094.4 L1149.5,1095.0 L1151.8,1094.9 L1154.0,1094.9 L1156.2,1095.2 L1158.5,1095.5 L1160.7,1095.6 L1162.9,1095.7 L1165.1,1095.9 L1167.4,1096.2 L1169.6,1096.6 L1171.8,1096.9 L1174.1,1096.8 L1176.3,1096.6 L1178.5,1096.8 L1180.8,1097.0 L1183.0,1097.1 L1185.3,1097.2 L1187.5,1097.6 L1189.7,1098.0 L1192.0,1097.9 L1194.2,1097.8 L1196.4,1097.9 L1198.7,1098.1 L1200.9,1098.2 L1203.1,1098.3 L1205.4,1098.5 L1207.6,1098.7 L1209.8,1099.2 L1212.1,1099.6 L1214.3,1100.1 L1216.5,1100.6 L1218.8,1100.3 L1221.0,1099.9 L1223.2,1100.4 L1225.5,1100.9 L1227.7,1101.0 L1229.9,1101.0 L1232.2,1101.0 L1234.4,1101.0 L1236.6,1101.3 L1238.9,1101.7 L1241.1,1101.9 L1243.3,1102.1 L1245.6,1102.2 L1247.8,1102.4 L1250.0,1103.0 L1252.3,1103.6 L1254.5,1103.2 L1256.7,1102.9 L1259.0,1103.4 L1261.2,1104.0 L1263.4,1104.2 L1265.7,1104.4 L1267.9,1104.5 L1270.1,1104.6 L1272.4,1105.0 L1274.6,1105.4 L1276.8,1105.7 L1279.1,1106.1 L1281.3,1106.2 L1283.5,1106.4 L1285.8,1106.7 L1288.0,1107.0 L1290.2,1107.3 L1292.5,1107.6 L1294.7,1107.5 L1296.9,1107.3 L1299.2,1108.1 L1301.4,1109.0 L1303.6,1109.4 L1305.9,1109.8 L1308.1,1109.9 L1310.3,1110.0 L1312.6,1110.3 L1314.8,1110.6 L1317.0,1110.6 L1319.3,1110.5 L1321.5,1111.1 L1323.8,1111.6 L1326.0,1111.9 L1328.2,1112.2 L1330.5,1112.6 L1332.7,1113.0 L1334.9,1113.7 L1337.1,1114.4 L1339.4,1114.6 L1341.6,1114.9 L1343.8,1115.5 L1346.1,1116.1 L1348.3,1116.4 L1350.5,1116.7 L1352.8,1117.5 L1355.0,1118.3 L1357.2,1118.8 L1359.5,1119.4 L1361.7,1119.9 L1364.0,1120.3 L1366.2,1120.9 L1368.4,1121.4 L1370.7,1122.4 L1372.9,1123.4 L1375.1,1123.5 L1377.4,1123.7 L1379.6,1124.3 L1381.8,1124.9 L1384.1,1125.6 L1386.3,1126.3 L1388.5,1127.3 L1390.8,1128.2 L1393.0,1129.0 L1395.2,1129.8 L1397.5,1130.3 L1399.7,1130.7 L1401.9,1131.2 L1404.2,1131.7 L1406.4,1132.4 L1408.6,1133.1 L1410.9,1134.1 L1413.1,1135.0 L1415.3,1135.4 L1417.6,1135.8 L1419.8,1136.9 L1422.0,1137.9 L1424.3,1138.6 L1426.5,1139.2 L1428.7,1139.7 L1431.0,1140.1 L1433.2,1140.7 L1435.4,1141.4 L1437.7,1142.1 L1439.9,1142.7 L1442.1,1143.4 L1444.4,1144.1 L1446.6,1144.3 L1448.8,1144.4 L1451.1,1145.2 L1453.3,1145.9 L1455.5,1146.0 L1457.8,1146.0 L1460.0,1146.2 L1462.2,1146.3 L1464.5,1146.6 L1466.7,1146.9 L1468.9,1147.0 L1471.2,1147.1 L1473.4,1147.1 L1475.6,1147.1 L1477.9,1147.1 L1480.1,1147.1 L1482.3,1147.3 L1484.6,1147.5 L1486.8,1147.9 L1489.0,1148.3 L1491.3,1148.4 L1493.5,1148.5 L1495.8,1148.3 L1498.0,1148.2 L1500.2,1148.3 L1502.5,1148.4 L1504.7,1148.2 L1506.9,1147.9 L1509.1,1148.1 L1511.4,1148.2 L1513.6,1148.3 L1515.8,1148.5 L1518.1,1148.4 L1520.3,1148.5 L1522.5,1148.8 L1524.8,1149.1 L1527.0,1149.7 L1529.2,1150.3 L1531.5,1150.7 L1533.7,1151.2 L1536.0,1151.9 L1538.2,1152.8 L1540.4,1154.1 L1542.7,1155.6 L1544.9,1156.9 L1547.1,1158.2 L1549.4,1159.8 L1551.6,1161.4 L1553.8,1162.6 L1556.1,1163.9 L1558.3,1165.3 L1560.5,1166.8 L1562.8,1168.4 L1565.0,1170.1 L1567.2,1171.8 L1569.5,1173.4 L1571.7,1175.0 L1573.9,1176.7 L1576.2,1178.4 L1578.4,1180.2 L1580.6,1182.1 L1582.9,1184.1 L1585.1,1186.0 L1587.3,1187.9 L1589.6,1189.9 L1591.8,1191.9 L1594.0,1193.4 L1596.3,1194.8 L1598.5,1196.8 L1600.7,1198.7 L1603.0,1200.4 L1605.2,1201.9 L1607.4,1203.6 L1609.7,1205.2 L1611.9,1206.6 L1614.1,1208.0 L1616.4,1209.4 L1618.6,1210.8 L1620.8,1212.3 L1623.1,1213.8 L1625.3,1214.9 L1627.5,1216.0 L1629.8,1216.9 L1632.0,1217.8 L1634.2,1219.2 L1636.5,1220.6 L1638.7,1221.6 L1640.9,1222.5 L1643.2,1223.2 L1645.4,1223.9 L1647.6,1224.9 L1649.9,1225.8 L1652.1,1226.2 L1654.3,1226.6 L1656.6,1227.3 L1658.8,1228.1 L1661.0,1228.3 L1663.3,1228.6 L1665.5,1228.9 L1667.7,1229.2 L1670.0,1229.6 L1672.2,1229.9 L1674.5,1230.2 L1676.7,1230.4 L1678.9,1230.7 L1681.1,1231.1 L1683.4,1231.2 L1685.6,1231.3 L1687.8,1231.4 L1690.1,1231.5 L1692.3,1231.5 L1694.5,1231.5 L1696.8,1231.2 L1699.0,1230.8 L1701.2,1231.5 L1703.5,1232.3 L1705.7,1232.2 L1708.0,1232.2 L1710.2,1232.9 L1712.4,1233.7 L1714.6,1234.4 L1716.9,1235.1 L1719.1,1235.7 L1721.4,1236.5 L1723.6,1237.5 L1725.8,1238.6 L1728.1,1239.9 L1730.3,1241.2 L1732.5,1242.4 L1734.8,1243.7 L1737.0,1245.0 L1739.2,1246.3 L1741.5,1247.7 L1743.7,1249.1 L1745.9,1250.4 L1748.2,1251.7 L1750.4,1253.4 L1752.6,1255.1 L1754.9,1256.2 L1757.1,1257.3 L1759.3,1258.7 L1761.6,1260.1 L1763.8,1261.1 L1766.0,1262.2 L1768.3,1263.5 L1770.5,1264.7 L1772.7,1265.8 L1775.0,1266.9 L1777.2,1268.1 L1779.4,1269.2 L1781.7,1270.3 L1783.9,1271.3 L1786.1,1272.1 L1788.4,1272.9 L1790.6,1273.6 L1792.8,1274.3 L1795.1,1275.0 L1797.3,1275.8 L1799.5,1276.9 L1801.8,1278.0 L1804.0,1278.5 L1806.2,1278.9 L1808.5,1279.7 L1810.7,1280.4 L1812.9,1281.4 L1815.2,1282.4 L1817.4,1283.0 L1819.6,1283.6 L1821.9,1284.2 L1824.1,1284.8 L1826.3,1285.4 L1828.6,1285.9 L1830.8,1286.9 L1833.0,1288.0 L1835.3,1288.4 L1837.5,1288.7 L1839.7,1289.4 L1842.0,1290.1 L1844.2,1290.6 L1846.4,1291.2 L1848.7,1291.6 L1850.9,1292.1 L1853.1,1292.8 L1855.4,1293.4 L1857.6,1294.3 L1859.8,1295.2 L1862.1,1295.8 L1864.3,1296.4 L1866.5,1296.9 L1868.8,1297.4 L1871.0,1297.8 L1873.2,1298.3 L1875.5,1298.8 L1877.7,1299.3 L1880.0,1300.0 L1882.2,1300.7 L1884.4,1301.0 L1886.6,1301.4 L1888.9,1302.2 L1891.1,1303.0 L1893.3,1303.6 L1895.6,1304.1 L1897.8,1304.8 L1900.1,1305.5 L1902.3,1305.6 L1904.5,1305.8 L1906.8,1306.0 L1909.0,1306.2 L1911.2,1306.6 L1913.5,1307.0 L1915.7,1307.0 L1917.9,1307.1 L1920.2,1307.9 L1922.4,1308.8 L1924.6,1309.3 L1926.9,1309.7 L1929.1,1310.3 L1931.3,1310.9 L1933.6,1311.3 L1935.8,1311.6 L1938.0,1312.0 L1940.3,1312.4 L1942.5,1312.8 L1944.7,1313.1 L1947.0,1313.6 L1949.2,1314.1 L1951.4,1314.6 L1953.7,1315.1 L1955.9,1315.1 L1958.1,1315.1 L1960.4,1315.6 L1962.6,1316.1 L1964.8,1316.3 L1967.1,1316.6 L1969.3,1317.4 L1971.5,1318.2 L1973.8,1318.6 L1976.0,1318.9 L1978.2,1319.2 L1980.5,1319.5 L1982.7,1319.6 L1984.9,1319.6 L1987.2,1320.2 L1989.4,1320.8 L1991.6,1321.1 L1993.9,1321.4 L1996.1,1321.8 L1998.3,1322.2 L2000.6,1322.5 L2002.8,1322.8 L2005.0,1323.3 L2007.3,1323.8 L2009.5,1324.0 L2011.7,1324.2 L2014.0,1324.7 L2016.2,1325.3 L2018.4,1325.5 L2020.7,1325.8 L2022.9,1326.0 L2025.1,1326.3 L2027.4,1326.6 L2029.6,1327.0 L2031.8,1327.2 L2034.1,1327.5 L2036.3,1328.0 L2038.5,1328.5 L2040.8,1328.6 L2043.0,1328.7 L2045.2,1329.1 L2047.5,1329.5 L2049.7,1329.7 L2052.0,1329.8 L2054.2,1330.0 L2056.4,1330.1 L2058.7,1330.7 L2060.9,1331.3 L2063.1,1331.3 L2065.4,1331.3 L2067.6,1331.8 L2069.8,1332.3 L2072.1,1332.5 L2074.3,1332.8 L2076.5,1332.7 L2078.8,1332.7 L2081.0,1333.0 L2083.2,1333.4 L2085.5,1333.7 L2087.7,1334.0 L2089.9,1334.2 L2092.2,1334.4 L2094.4,1334.6 L2096.6,1334.8 L2098.9,1335.3 L2101.1,1335.8 L2103.3,1335.9 L2105.6,1336.0 L2107.8,1336.3 L2110.0,1336.6 L2112.3,1336.7 L2114.5,1336.8 L2116.7,1337.2 L2119.0,1337.5 L2121.2,1337.6 L2123.4,1337.6 L2125.7,1338.0 L2127.9,1338.3 L2130.1,1338.6 L2132.4,1338.9 L2134.6,1339.0 L2136.8,1339.1 L2139.1,1339.3 L2141.3,1339.4 L2143.5,1339.5 L2145.8,1339.6" stroke="#808000"/>
<path d="M354.0,809.0 L356.2,809.2 L358.5,809.5 L360.7,809.1 L362.9,808.7 L365.2,808.5 L367.4,808.3 L369.6,810.1 L371.9,812.2 L374.1,814.9 L376.3,817.6 L378.6,816.1 L380.8,814.6 L383.0,816.2 L385.3,817.7 L387.5,818.7 L389.7,819.8 L392.0,818.6 L394.2,817.4 L396.4,820.6 L398.7,823.8 L400.9,824.3 L403.1,824.8 L405.4,827.5 L407.6,830.1 L409.8,830.1 L412.1,830.1 L414.3,830.9 L416.5,831.7 L418.8,833.3 L421.0,834.9 L423.2,836.4 L425.5,837.9 L427.7,838.6 L429.9,839.4 L432.2,840.9 L434.4,842.4 L436.6,842.7 L438.9,843.1 L441.1,844.8 L443.4,846.6 L445.6,848.2 L447.8,849.9 L450.1,851.7 L452.3,853.5 L454.5,854.0 L456.8,854.6 L459.0,855.7 L461.2,856.9 L463.4,858.8 L465.7,860.8 L467.9,862.3 L470.2,863.7 L472.4,865.6 L474.6,867.5 L476.9,868.8 L479.1,870.1 L481.3,871.1 L483.6,872.1 L485.8,873.9 L488.0,875.7 L490.3,877.2 L492.5,878.8 L494.7,880.5 L497.0,882.2 L499.2,883.8 L501.4,885.4 L503.7,886.6 L505.9,887.8 L508.1,888.9 L510.4,889.9 L512.6,892.0 L514.8,894.1 L517.1,895.1 L519.3,896.0 L521.5,898.2 L523.8,900.5 L526.0,901.9 L528.2,903.3 L530.5,904.1 L532.7,905.0 L534.9,907.3 L537.2,909.7 L539.4,911.3 L541.6,912.9 L543.9,914.1 L546.1,915.3 L548.3,917.3 L550.6,919.3 L552.8,920.8 L555.0,922.3 L557.3,922.7 L559.5,923.1 L561.7,925.3 L564.0,927.4 L566.2,928.6 L568.4,929.8 L570.7,931.2 L572.9,932.5 L575.1,934.0 L577.4,935.4 L579.6,936.2 L581.8,936.9 L584.1,938.2 L586.3,939.4 L588.5,940.5 L590.8,941.6 L593.0,942.8 L595.2,943.9 L597.5,945.2 L599.7,946.6 L602.0,947.3 L604.2,948.1 L606.4,949.3 L608.6,950.6 L610.9,952.2 L613.1,953.8 L615.4,954.8 L617.6,955.8 L619.8,957.1 L622.0,958.4 L624.3,959.0 L626.5,959.6 L628.8,961.1 L631.0,962.5 L633.2,963.8 L635.5,965.0 L637.7,966.3 L639.9,967.7 L642.1,968.7 L644.4,969.8 L646.6,971.3 L648.9,972.9 L651.1,973.9 L653.3,974.8 L655.6,976.1 L657.8,977.3 L660.0,978.5 L662.3,979.7 L664.5,981.0 L666.7,982.4 L669.0,983.3 L671.2,984.2 L673.4,985.7 L675.7,987.2 L677.9,988.2 L680.1,989.2 L682.4,990.2 L684.6,991.3 L686.8,992.4 L689.1,993.5 L691.3,994.8 L693.5,996.0 L695.8,997.2 L698.0,998.4 L700.2,999.5 L702.5,1000.6 L704.7,1001.5 L706.9,1002.4 L709.2,1003.5 L711.4,1004.6 L713.6,1005.4 L715.9,1006.2 L718.1,1007.3 L720.3,1008.5 L722.6,1009.1 L724.8,1009.7 L727.0,1010.2 L729.3,1010.6 L731.5,1012.2 L733.7,1013.7 L736.0,1014.3 L738.2,1014.8 L740.4,1015.4 L742.7,1015.9 L744.9,1016.8 L747.1,1017.7 L749.4,1018.3 L751.6,1018.9 L753.8,1020.2 L756.1,1021.4 L758.3,1021.8 L760.5,1022.2 L762.8,1022.5 L765.0,1022.8 L767.2,1023.9 L769.5,1025.0 L771.7,1025.4 L773.9,1025.7 L776.2,1026.7 L778.4,1027.5 L780.6,1027.3 L782.9,1027.0 L785.1,1027.1 L787.4,1027.1 L789.6,1027.7 L791.8,1028.1 L794.0,1028.0 L796.3,1027.9 L798.5,1027.7 L800.8,1027.6 L803.0,1026.9 L805.2,1025.7 L807.5,1025.0 L809.7,1024.1 L811.9,1022.9 L814.1,1021.1 L816.4,1018.2 L818.6,1015.1 L820.9,1013.3 L823.1,1011.3 L825.3,1008.4 L827.6,1005.5 L829.8,1003.5 L832.0,1001.4 L834.3,998.5 L836.5,995.7 L838.7,993.4 L841.0,991.3 L843.2,989.6 L845.4,988.2 L847.7,987.0 L849.9,986.4 L852.1,985.9 L854.4,985.5 L856.6,985.6 L858.8,986.1 L861.1,986.5 L863.3,987.0 L865.5,987.5 L867.8,987.9 L870.0,989.0 L872.2,990.0 L874.5,989.6 L876.7,988.6 L878.9,987.5 L880.0,986.8 L880.5,986.5 L881.0,986.1 L881.2,986.0 L881.5,985.8 L882.0,985.4 L882.5,984.9 L883.0,984.3 L883.4,983.8 L883.5,983.6 L884.0,982.9 L884.5,982.1 L885.0,981.2 L885.5,980.3 L885.6,980.1 L886.0,979.3 L886.5,978.2 L887.0,977.1 L887.5,975.9 L887.9,975.0 L888.0,974.6 L888.5,973.3 L889.0,971.8 L889.5,970.2 L890.0,968.6 L890.1,968.2 L890.5,966.9 L891.0,965.2 L891.5,963.4 L892.0,961.5 L892.3,960.2 L892.5,959.5 L893.0,957.5 L893.5,955.4 L894.0,953.2 L894.5,951.0 L894.6,950.7 L895.0,948.7 L895.5,946.4 L896.0,943.8 L896.5,941.1 L896.8,939.4 L897.0,938.2 L897.5,935.1 L898.0,931.9 L898.5,928.6 L899.0,925.1 L899.0,924.8 L899.5,921.5 L900.0,917.7 L900.5,913.9 L901.0,910.0 L901.3,907.8 L901.5,906.0 L902.0,901.9 L902.5,897.8 L903.0,893.6 L903.5,889.4 L904.0,885.1 L904.5,880.7 L905.0,876.1 L905.5,871.4 L905.7,869.1 L906.0,866.6 L906.5,861.7 L907.0,856.6 L907.5,851.4 L908.0,846.5 L908.0,846.1 L908.5,840.7 L909.0,835.2 L909.5,829.6 L910.0,823.8 L910.2,821.5 L910.5,818.0 L911.0,812.0 L911.5,806.0 L912.0,799.8 L912.4,794.3 L912.5,793.5 L913.0,786.9 L913.5,780.0 L914.0,773.0 L914.5,765.6 L914.7,763.1 L915.0,758.1 L915.5,750.4 L916.0,742.6 L916.5,734.6 L916.9,728.1 L917.0,726.5 L917.5,718.3 L918.0,710.0 L918.5,701.6 L919.0,693.2 L919.1,690.8 L919.5,684.5 L920.0,675.7 L920.5,666.7 L921.0,657.6 L921.4,650.7 L921.5,648.3 L922.0,638.8 L922.5,629.2 L923.0,619.5 L923.5,609.6 L923.6,607.4 L924.0,599.7 L924.5,589.6 L925.0,579.5 L925.5,569.2 L925.8,562.2 L926.0,558.9 L926.5,548.5 L927.0,538.0 L927.5,527.2 L928.0,516.2 L928.1,514.6 L928.5,504.8 L929.0,493.3 L929.5,481.6 L930.0,469.7 L930.3,462.3 L930.5,457.8 L931.0,445.9 L931.5,433.9 L932.0,422.0 L932.5,410.1 L932.5,409.2 L933.0,398.3 L933.5,386.6 L934.0,375.1 L934.5,363.8 L934.8,357.6 L935.0,352.7 L935.5,341.8 L936.0,331.3 L936.5,320.8 L937.0,310.1 L937.0,309.9 L937.5,299.4 L938.0,288.8 L938.5,278.5 L939.0,268.5 L939.2,263.9 L939.5,259.1 L940.0,250.5 L940.5,242.6 L941.0,235.7 L941.5,229.6 L941.5,229.3 L942.0,223.3 L942.5,217.5 L943.0,212.1 L943.5,207.0 L943.7,205.0 L944.0,202.3 L944.5,198.1 L945.0,194.4 L945.5,191.3 L945.9,188.7 L946.0,188.4 L946.5,185.5 L947.0,182.9 L947.5,180.7 L948.0,179.1 L948.2,178.7 L948.5,178.2 L949.0,178.3 L949.5,179.3 L950.0,181.0 L950.4,182.9 L950.5,183.3 L951.0,186.1 L951.5,189.1 L952.0,192.5 L952.5,197.4 L952.6,199.1 L953.0,203.9 L953.5,211.4 L954.0,219.4 L954.5,227.6 L954.9,233.7 L955.0,235.5 L955.5,243.0 L956.0,250.7 L956.5,258.6 L957.0,266.5 L957.1,268.3 L957.5,274.7 L958.0,283.1 L958.5,291.6 L959.0,300.3 L959.4,306.5 L959.5,309.2 L960.0,318.3 L960.5,327.5 L961.0,337.0 L961.5,346.7 L961.6,348.3 L962.0,356.6 L962.5,366.8 L963.0,377.2 L963.5,387.8 L963.8,394.5 L964.0,398.6 L964.5,409.5 L965.0,420.6 L965.5,431.7 L966.0,443.0 L966.0,444.1 L966.5,454.3 L967.0,465.7 L967.5,477.2 L968.0,488.6 L968.3,494.9 L968.5,499.9 L969.0,511.3 L969.5,522.5 L970.0,533.6 L970.5,544.6 L970.5,545.1 L971.0,555.7 L971.5,567.1 L972.0,578.5 L972.5,590.1 L972.8,595.9 L973.0,601.7 L973.5,613.3 L974.0,624.8 L974.5,636.1 L975.0,646.9 L975.0,647.3 L975.5,658.2 L976.0,668.8 L976.5,679.0 L977.0,688.8 L977.2,692.9 L977.5,698.0 L978.0,706.8 L978.5,715.2 L979.0,723.2 L979.5,730.1 L979.5,730.9 L980.0,738.4 L980.5,745.8 L981.0,753.1 L981.5,760.3 L981.7,762.9 L982.0,767.5 L982.5,774.8 L983.0,782.2 L983.5,789.8 L983.9,796.3 L984.0,797.6 L984.5,805.7 L985.0,814.0 L985.5,822.6 L986.0,831.3 L986.1,833.9 L986.5,840.0 L987.0,848.7 L987.5,857.1 L988.0,865.4 L988.4,871.4 L988.5,873.2 L989.0,880.7 L989.5,887.5 L990.0,893.9 L990.5,899.8 L990.6,901.2 L991.0,905.5 L991.5,910.9 L992.0,916.2 L992.5,921.2 L992.9,924.6 L993.0,926.1 L993.5,931.0 L994.0,935.8 L994.5,940.5 L995.0,945.1 L995.1,946.0 L995.5,949.8 L996.0,954.4 L996.5,959.0 L997.0,963.6 L997.3,966.4 L997.5,968.0 L998.0,972.2 L998.5,976.3 L999.0,980.1 L999.5,983.7 L999.5,984.1 L1000.0,987.1 L1000.5,990.2 L1001.0,993.3 L1001.5,996.3 L1001.8,998.0 L1002.0,999.2 L1002.5,1002.1 L1003.0,1004.9 L1003.5,1007.6 L1004.0,1010.2 L1004.0,1010.3 L1004.5,1012.7 L1005.0,1015.1 L1005.5,1017.4 L1006.0,1019.6 L1006.3,1020.7 L1006.5,1021.7 L1007.0,1023.7 L1007.5,1025.6 L1008.0,1027.4 L1008.5,1029.2 L1008.5,1029.2 L1009.0,1030.9 L1009.5,1032.5 L1010.0,1034.0 L1010.5,1035.5 L1010.7,1036.2 L1011.0,1037.0 L1011.5,1038.3 L1012.0,1039.6 L1012.5,1040.9 L1013.0,1042.0 L1013.0,1042.1 L1013.5,1043.3 L1014.0,1044.5 L1014.5,1045.6 L1015.0,1046.8 L1015.2,1047.2 L1015.5,1047.9 L1016.0,1049.1 L1016.5,1050.2 L1017.0,1051.3 L1017.4,1052.2 L1017.5,1052.4 L1018.0,1053.5 L1018.5,1054.5 L1019.0,1055.6 L1019.5,1056.6 L1019.7,1056.9 L1020.0,1057.5 L1020.5,1058.4 L1021.0,1059.3 L1021.5,1060.2 L1021.9,1060.8 L1022.0,1061.0 L1022.5,1061.8 L1023.0,1062.5 L1023.5,1063.2 L1024.0,1063.8 L1024.1,1064.0 L1024.5,1064.5 L1025.0,1065.2 L1025.5,1065.8 L1026.0,1066.5 L1026.4,1067.0 L1026.5,1067.2 L1027.0,1067.8 L1027.5,1068.4 L1028.0,1069.1 L1028.5,1069.7 L1028.6,1069.8 L1029.0,1070.3 L1029.5,1070.8 L1030.0,1071.3 L1030.5,1071.8 L1030.8,1072.2 L1031.0,1072.3 L1031.5,1072.8 L1032.0,1073.3 L1032.5,1073.8 L1033.0,1074.2 L1033.1,1074.3 L1033.5,1074.6 L1034.0,1075.0 L1034.5,1075.3 L1035.0,1075.7 L1035.3,1075.8 L1035.5,1076.0 L1036.0,1076.3 L1036.5,1076.6 L1037.0,1076.8 L1037.5,1077.1 L1037.5,1077.1 L1038.0,1077.4 L1038.5,1077.8 L1039.0,1078.1 L1039.5,1078.4 L1039.8,1078.6 L1040.0,1078.7 L1040.5,1079.0 L1041.0,1079.2 L1041.5,1079.4 L1042.0,1079.7 L1042.0,1079.7 L1042.5,1079.8 L1043.0,1079.9 L1043.5,1080.0 L1044.0,1080.1 L1044.2,1080.1 L1044.5,1080.2 L1046.5,1080.5 L1048.7,1081.1 L1050.9,1081.6 L1053.2,1082.1 L1055.4,1082.6 L1057.6,1082.9 L1059.9,1083.2 L1062.1,1083.8 L1064.3,1084.5 L1066.6,1084.5 L1068.8,1084.5 L1071.0,1084.7 L1073.3,1084.9 L1075.5,1085.6 L1077.7,1086.4 L1080.0,1086.5 L1082.2,1086.6 L1084.4,1087.0 L1086.7,1087.4 L1088.9,1087.3 L1091.1,1087.2 L1093.4,1088.2 L1095.6,1089.1 L1097.8,1089.4 L1100.1,1089.7 L1102.3,1090.0 L1104.5,1090.3 L1106.8,1090.5 L1109.0,1090.8 L1111.2,1091.2 L1113.5,1091.5 L1115.7,1091.4 L1117.9,1091.4 L1120.2,1091.7 L1122.4,1092.1 L1124.6,1092.0 L1126.9,1091.9 L1129.1,1092.2 L1131.3,1092.4 L1133.6,1092.8 L1135.8,1093.2 L1138.0,1093.3 L1140.3,1093.4 L1142.5,1093.4 L1144.8,1093.4 L1147.0,1093.9 L1149.2,1094.3 L1151.5,1094.5 L1153.7,1094.6 L1155.9,1094.7 L1158.2,1094.8 L1160.4,1095.1 L1162.6,1095.5 L1164.8,1095.5 L1167.1,1095.6 L1169.3,1095.5 L1171.5,1095.5 L1173.8,1095.8 L1176.0,1096.0 L1178.2,1096.6 L1180.5,1097.2 L1182.7,1096.8 L1185.0,1096.5 L1187.2,1096.9 L1189.4,1097.3 L1191.7,1097.5 L1193.9,1097.8 L1196.1,1097.9 L1198.4,1098.1 L1200.6,1098.0 L1202.8,1097.9 L1205.1,1098.2 L1207.3,1098.5 L1209.5,1098.8 L1211.8,1099.0 L1214.0,1099.3 L1216.2,1099.6 L1218.5,1099.6 L1220.7,1099.5 L1222.9,1099.6 L1225.2,1099.7 L1227.4,1100.2 L1229.6,1100.8 L1231.9,1101.0 L1234.1,1101.2 L1236.3,1101.3 L1238.6,1101.4 L1240.8,1101.4 L1243.0,1101.5 L1245.3,1101.8 L1247.5,1102.2 L1249.7,1102.4 L1252.0,1102.5 L1254.2,1102.9 L1256.4,1103.2 L1258.7,1103.1 L1260.9,1103.0 L1263.1,1103.4 L1265.4,1103.9 L1267.6,1104.1 L1269.8,1104.3 L1272.1,1104.4 L1274.3,1104.5 L1276.5,1104.9 L1278.8,1105.4 L1281.0,1105.6 L1283.2,1105.8 L1285.5,1106.0 L1287.7,1106.2 L1289.9,1106.6 L1292.2,1107.0 L1294.4,1107.0 L1296.6,1107.0 L1298.9,1107.5 L1301.1,1108.0 L1303.3,1108.4 L1305.6,1108.7 L1307.8,1109.0 L1310.0,1109.3 L1312.3,1109.7 L1314.5,1110.1 L1316.8,1110.1 L1319.0,1110.1 L1321.2,1110.4 L1323.5,1110.7 L1325.7,1111.3 L1327.9,1112.0 L1330.2,1112.4 L1332.4,1112.9 L1334.6,1113.6 L1336.8,1114.3 L1339.1,1114.5 L1341.3,1114.8 L1343.5,1115.1 L1345.8,1115.4 L1348.0,1116.2 L1350.2,1117.0 L1352.5,1117.3 L1354.7,1117.6 L1357.0,1118.0 L1359.2,1118.4 L1361.4,1119.6 L1363.7,1120.8 L1365.9,1121.0 L1368.1,1121.2 L1370.4,1121.9 L1372.6,1122.5 L1374.8,1123.1 L1377.1,1123.7 L1379.3,1124.5 L1381.5,1125.3 L1383.8,1125.7 L1386.0,1126.1 L1388.2,1126.9 L1390.5,1127.7 L1392.7,1128.1 L1394.9,1128.4 L1397.2,1129.0 L1399.4,1129.7 L1401.6,1130.8 L1403.9,1131.9 L1406.1,1132.5 L1408.3,1133.2 L1410.6,1133.8 L1412.8,1134.3 L1415.0,1135.0 L1417.3,1135.6 L1419.5,1136.3 L1421.7,1137.0 L1424.0,1137.6 L1426.2,1138.1 L1428.4,1139.1 L1430.7,1140.0 L1432.9,1140.5 L1435.1,1140.9 L1437.4,1141.5 L1439.6,1142.1 L1441.8,1142.7 L1444.1,1143.3 L1446.3,1143.9 L1448.5,1144.5 L1450.8,1144.9 L1453.0,1145.2 L1455.2,1145.6 L1457.5,1145.9 L1459.7,1145.8 L1461.9,1145.7 L1464.2,1146.1 L1466.4,1146.5 L1468.6,1146.9 L1470.9,1147.3 L1473.1,1147.1 L1475.3,1146.8 L1477.6,1146.9 L1479.8,1147.1 L1482.0,1147.3 L1484.3,1147.5 L1486.5,1147.6 L1488.7,1147.6 L1491.0,1147.6 L1493.2,1147.6 L1495.5,1147.3 L1497.7,1147.0 L1499.9,1147.3 L1502.2,1147.7 L1504.4,1147.5 L1506.6,1147.2 L1508.8,1147.4 L1511.1,1147.5 L1513.3,1147.7 L1515.5,1148.1 L1517.8,1148.1 L1520.0,1148.2 L1522.2,1148.7 L1524.5,1149.2 L1526.7,1149.9 L1529.0,1150.7 L1531.2,1150.8 L1533.4,1151.0 L1535.7,1151.8 L1537.9,1152.8 L1540.1,1153.7 L1542.4,1154.7 L1544.6,1156.1 L1546.8,1157.6 L1549.1,1158.9 L1551.3,1160.2 L1553.5,1161.7 L1555.8,1163.2 L1558.0,1164.6 L1560.2,1166.1 L1562.5,1167.7 L1564.7,1169.4 L1566.9,1171.1 L1569.2,1172.9 L1571.4,1174.5 L1573.6,1176.1 L1575.9,1177.7 L1578.1,1179.4 L1580.3,1181.1 L1582.6,1183.0 L1584.8,1185.1 L1587.0,1187.3 L1589.3,1189.2 L1591.5,1191.0 L1593.7,1193.1 L1596.0,1195.1 L1598.2,1196.9 L1600.4,1198.7 L1602.7,1200.1 L1604.9,1201.5 L1607.1,1203.2 L1609.4,1204.8 L1611.6,1206.0 L1613.8,1207.2 L1616.1,1209.2 L1618.3,1211.1 L1620.5,1212.3 L1622.8,1213.4 L1625.0,1214.4 L1627.2,1215.4 L1629.5,1216.3 L1631.7,1217.3 L1633.9,1218.6 L1636.2,1219.8 L1638.4,1220.5 L1640.6,1221.2 L1642.9,1222.2 L1645.1,1223.3 L1647.3,1224.3 L1649.6,1225.3 L1651.8,1225.8 L1654.0,1226.3 L1656.3,1226.7 L1658.5,1227.1 L1660.7,1227.8 L1663.0,1228.4 L1665.2,1228.5 L1667.4,1228.6 L1669.7,1229.1 L1671.9,1229.6 L1674.2,1229.8 L1676.4,1229.9 L1678.6,1230.1 L1680.8,1230.2 L1683.1,1230.6 L1685.3,1230.9 L1687.5,1230.8 L1689.8,1230.7 L1692.0,1231.2 L1694.2,1231.8 L1696.5,1231.5 L1698.7,1231.2 L1701.0,1231.8 L1703.2,1232.3 L1705.4,1232.1 L1707.7,1231.9 L1709.9,1232.6 L1712.1,1233.3 L1714.3,1233.6 L1716.6,1233.9 L1718.8,1234.6 L1721.1,1235.5 L1723.3,1236.8 L1725.5,1238.3 L1727.8,1239.6 L1730.0,1241.0 L1732.2,1241.9 L1734.5,1242.9 L1736.7,1244.6 L1738.9,1246.3 L1741.2,1247.4 L1743.4,1248.5 L1745.6,1250.0 L1747.9,1251.6 L1750.1,1253.0 L1752.3,1254.3 L1754.6,1255.7 L1756.8,1257.0 L1759.0,1257.9 L1761.3,1258.8 L1763.5,1260.5 L1765.7,1262.3 L1768.0,1263.3 L1770.2,1264.4 L1772.4,1265.4 L1774.7,1266.4 L1776.9,1267.4 L1779.1,1268.3 L1781.4,1269.2 L1783.6,1270.0 L1785.8,1271.0 L1788.1,1271.9 L1790.3,1273.0 L1792.5,1274.1 L1794.8,1274.8 L1797.0,1275.4 L1799.2,1276.1 L1801.5,1276.7 L1803.7,1277.5 L1805.9,1278.4 L1808.2,1279.4 L1810.4,1280.5 L1812.6,1280.9 L1814.9,1281.3 L1817.1,1282.0 L1819.3,1282.6 L1821.6,1283.6 L1823.8,1284.6 L1826.0,1285.1 L1828.3,1285.6 L1830.5,1286.2 L1832.7,1286.8 L1835.0,1287.4 L1837.2,1287.9 L1839.4,1288.5 L1841.7,1289.0 L1843.9,1289.7 L1846.1,1290.4 L1848.4,1291.1 L1850.6,1291.9 L1852.8,1292.6 L1855.1,1293.2 L1857.3,1293.9 L1859.5,1294.7 L1861.8,1295.3 L1864.0,1295.9 L1866.2,1296.5 L1868.5,1297.0 L1870.7,1297.6 L1873.0,1298.2 L1875.2,1298.5 L1877.4,1298.9 L1879.7,1299.3 L1881.9,1299.6 L1884.1,1300.4 L1886.3,1301.1 L1888.6,1301.6 L1890.8,1302.0 L1893.0,1302.5 L1895.3,1303.0 L1897.5,1303.5 L1899.8,1304.1 L1902.0,1304.4 L1904.2,1304.7 L1906.5,1305.1 L1908.7,1305.6 L1910.9,1306.2 L1913.2,1306.7 L1915.4,1307.2 L1917.6,1307.6 L1919.9,1308.0 L1922.1,1308.3 L1924.3,1308.8 L1926.6,1309.4 L1928.8,1309.7 L1931.0,1310.0 L1933.3,1310.3 L1935.5,1310.6 L1937.7,1311.2 L1940.0,1311.8 L1942.2,1312.5 L1944.4,1313.1 L1946.7,1313.2 L1948.9,1313.2 L1951.1,1313.9 L1953.4,1314.5 L1955.6,1314.9 L1957.8,1315.4 L1960.1,1315.8 L1962.3,1316.2 L1964.5,1316.2 L1966.8,1316.3 L1969.0,1317.1 L1971.2,1317.9 L1973.5,1318.0 L1975.7,1318.0 L1977.9,1318.4 L1980.2,1318.7 L1982.4,1319.0 L1984.6,1319.4 L1986.9,1319.9 L1989.1,1320.4 L1991.3,1320.7 L1993.6,1321.0 L1995.8,1321.3 L1998.0,1321.6 L2000.3,1322.2 L2002.5,1322.8 L2004.7,1322.8 L2007.0,1322.9 L2009.2,1323.2 L2011.4,1323.5 L2013.7,1324.1 L2015.9,1324.7 L2018.1,1325.1 L2020.4,1325.4 L2022.6,1325.8 L2024.8,1326.2 L2027.1,1326.2 L2029.3,1326.2 L2031.5,1326.8 L2033.8,1327.4 L2036.0,1327.7 L2038.2,1327.9 L2040.5,1328.4 L2042.7,1328.8 L2045.0,1328.7 L2047.2,1328.5 L2049.4,1329.0 L2051.7,1329.5 L2053.9,1329.7 L2056.1,1329.9 L2058.3,1330.0 L2060.6,1330.1 L2062.8,1330.5 L2065.1,1330.9 L2067.3,1331.4 L2069.5,1332.0 L2071.8,1332.0 L2074.0,1332.0 L2076.2,1332.2 L2078.5,1332.4 L2080.7,1332.9 L2082.9,1333.4 L2085.2,1333.7 L2087.4,1333.9 L2089.6,1334.2 L2091.9,1334.4 L2094.1,1334.4 L2096.3,1334.4 L2098.6,1334.7 L2100.8,1335.1 L2103.0,1335.5 L2105.3,1335.9 L2107.5,1335.8 L2109.7,1335.8 L2112.0,1336.0 L2114.2,1336.2 L2116.4,1336.7 L2118.7,1337.2 L2120.9,1337.5 L2123.1,1337.8 L2125.4,1337.6 L2127.6,1337.4 L2129.8,1337.4 L2132.1,1337.4 L2134.3,1337.8 L2136.5,1338.2 L2138.8,1338.5 L2141.0,1338.7 L2143.2,1339.1 L2145.5,1339.4" stroke="#000080"/>
</g>
<path d="M1067.5,187.6 L1067.5,500" stroke="#000" stroke-width="7.2" stroke-linecap="round" fill="none"/>
<path d="M1057.2,498.6 L1077.8,498.6 L1068.6,538 L1066.4,538 Z" fill="#000" stroke="#000" stroke-width="2" stroke-linejoin="round"/>
<rect x="1667.9" y="156.40" width="176" height="11" rx="3.5" fill="#000000"/>
<text transform="translate(1856.64,186.50) scale(0.9426,1)" font-size="78.00" fill="#000">0min</text>
<rect x="1667.9" y="249.67" width="176" height="11" rx="3.5" fill="#ff0000"/>
<text transform="translate(1857.60,279.80) scale(0.9449,1)" font-size="78.00" fill="#000">10min</text>
<rect x="1667.9" y="342.94" width="176" height="11" rx="3.5" fill="#0000ff"/>
<text transform="translate(1856.25,373.10) scale(0.9515,1)" font-size="78.00" fill="#000">20min</text>
<rect x="1667.9" y="436.21" width="176" height="11" rx="3.5" fill="#008080"/>
<text transform="translate(1856.62,466.40) scale(0.9496,1)" font-size="78.00" fill="#000">30min</text>
<rect x="1667.9" y="529.48" width="176" height="11" rx="3.5" fill="#ff00ff"/>
<text transform="translate(1858.48,559.70) scale(0.9407,1)" font-size="78.00" fill="#000">40min</text>
<rect x="1667.9" y="622.75" width="176" height="11" rx="3.5" fill="#808000"/>
<text transform="translate(1856.43,653.00) scale(0.9506,1)" font-size="78.00" fill="#000">50min</text>
<rect x="1667.9" y="716.02" width="176" height="11" rx="3.5" fill="#000080"/>
<text transform="translate(1856.81,746.30) scale(0.9487,1)" font-size="78.00" fill="#000">60min</text>
<text transform="translate(212.42,1417.00) scale(1.0000,1)" font-size="81.30">0.0</text>
<text transform="translate(212.42,1195.42) scale(1.0000,1)" font-size="81.30">0.5</text>
<text transform="translate(212.42,973.83) scale(1.0000,1)" font-size="81.30">1.0</text>
<text transform="translate(212.42,752.25) scale(1.0000,1)" font-size="81.30">1.5</text>
<text transform="translate(212.42,530.67) scale(1.0000,1)" font-size="81.30">2.0</text>
<text transform="translate(212.42,309.08) scale(1.0000,1)" font-size="81.30">2.5</text>
<text transform="translate(212.42,87.50) scale(1.0000,1)" font-size="81.30">3.0</text>
<text transform="translate(293.62,1499.00) scale(1.0000,1)" font-size="81.30">300</text>
<text transform="translate(741.39,1499.00) scale(1.0000,1)" font-size="81.30">400</text>
<text transform="translate(1187.02,1499.00) scale(1.0000,1)" font-size="81.30">500</text>
<text transform="translate(1633.98,1499.00) scale(1.0000,1)" font-size="81.30">600</text>
<text transform="translate(2079.81,1499.00) scale(1.0000,1)" font-size="81.30">700</text>
<text transform="translate(797.07,1629.30) scale(0.9997,1)" font-size="102.00" fill="#000">Wavelength (nm)</text>
<text transform="translate(112.20,976.53) rotate(-90) scale(1.0180,1)" font-size="101.50">Absorbance</text>
<text transform="translate(431.25,193.60) scale(0.9745,1)" font-size="102.50" fill="#000">a</text>
</g>
<g id="plotB">
<g stroke="#000" stroke-width="6.6" fill="none">
<rect x="396.5" y="1764.4" width="1818.5" height="1336.6"/>
<g stroke-width="6.8">
<rect x="367.00" y="2963.60" width="29.50" height="6.80" rx="2.2" fill="#000" stroke="none"/>
<rect x="367.00" y="2696.42" width="29.50" height="6.80" rx="2.2" fill="#000" stroke="none"/>
<rect x="367.00" y="2429.25" width="29.50" height="6.80" rx="2.2" fill="#000" stroke="none"/>
<rect x="367.00" y="2162.08" width="29.50" height="6.80" rx="2.2" fill="#000" stroke="none"/>
<rect x="367.00" y="1894.90" width="29.50" height="6.80" rx="2.2" fill="#000" stroke="none"/>
<rect x="380.20" y="3097.19" width="16.30" height="6.80" rx="2.2" fill="#000" stroke="none"/>
<rect x="380.20" y="2830.01" width="16.30" height="6.80" rx="2.2" fill="#000" stroke="none"/>
<rect x="380.20" y="2562.84" width="16.30" height="6.80" rx="2.2" fill="#000" stroke="none"/>
<rect x="380.20" y="2295.66" width="16.30" height="6.80" rx="2.2" fill="#000" stroke="none"/>
<rect x="380.20" y="2028.49" width="16.30" height="6.80" rx="2.2" fill="#000" stroke="none"/>
<rect x="380.20" y="1761.31" width="16.30" height="6.80" rx="2.2" fill="#000" stroke="none"/>
<rect x="393.10" y="3101.00" width="6.80" height="29.50" rx="2.2" fill="#000" stroke="none"/>
<rect x="672.85" y="3101.00" width="6.80" height="29.50" rx="2.2" fill="#000" stroke="none"/>
<rect x="952.60" y="3101.00" width="6.80" height="29.50" rx="2.2" fill="#000" stroke="none"/>
<rect x="1232.35" y="3101.00" width="6.80" height="29.50" rx="2.2" fill="#000" stroke="none"/>
<rect x="1512.10" y="3101.00" width="6.80" height="29.50" rx="2.2" fill="#000" stroke="none"/>
<rect x="1791.85" y="3101.00" width="6.80" height="29.50" rx="2.2" fill="#000" stroke="none"/>
<rect x="2071.60" y="3101.00" width="6.80" height="29.50" rx="2.2" fill="#000" stroke="none"/>
<rect x="532.98" y="3101.00" width="6.80" height="16.30" rx="2.2" fill="#000" stroke="none"/>
<rect x="812.73" y="3101.00" width="6.80" height="16.30" rx="2.2" fill="#000" stroke="none"/>
<rect x="1092.47" y="3101.00" width="6.80" height="16.30" rx="2.2" fill="#000" stroke="none"/>
<rect x="1372.22" y="3101.00" width="6.80" height="16.30" rx="2.2" fill="#000" stroke="none"/>
<rect x="1651.97" y="3101.00" width="6.80" height="16.30" rx="2.2" fill="#000" stroke="none"/>
<rect x="1931.72" y="3101.00" width="6.80" height="16.30" rx="2.2" fill="#000" stroke="none"/>
<rect x="2211.47" y="3101.00" width="6.80" height="16.30" rx="2.2" fill="#000" stroke="none"/>
</g></g>
<clipPath id="clipB"><rect x="396.0" y="1764.4" width="1819.0" height="1336.6"/></clipPath>
<g clip-path="url(#clipB)">
<path d="M396.50,1898.30 L536.38,1915.60 L676.25,1926.50 L956.00,1918.90 L1235.75,1913.30 L1515.50,1930.10 L1795.25,1934.20 L2075.00,1918.70" fill="none" stroke="#000" stroke-width="11.2" stroke-linejoin="round"/>
<rect x="381.40" y="1883.20" width="30.2" height="30.2" rx="1.5" fill="#000"/>
<rect x="521.27" y="1900.50" width="30.2" height="30.2" rx="1.5" fill="#000"/>
<rect x="661.15" y="1911.40" width="30.2" height="30.2" rx="1.5" fill="#000"/>
<rect x="940.90" y="1903.80" width="30.2" height="30.2" rx="1.5" fill="#000"/>
<rect x="1220.65" y="1898.20" width="30.2" height="30.2" rx="1.5" fill="#000"/>
<rect x="1500.40" y="1915.00" width="30.2" height="30.2" rx="1.5" fill="#000"/>
<rect x="1780.15" y="1919.10" width="30.2" height="30.2" rx="1.5" fill="#000"/>
<rect x="2059.90" y="1903.60" width="30.2" height="30.2" rx="1.5" fill="#000"/>
<path d="M396.50,1898.30 L536.38,1920.40 L676.25,1934.40 L956.00,1976.50 L1235.75,2008.40 L1515.50,2041.30 L1795.25,2065.80 L2075.00,2103.30" fill="none" stroke="#f00" stroke-width="11.2" stroke-linejoin="round"/>
<circle cx="396.50" cy="1898.30" r="17.5" fill="#f00"/>
<circle cx="536.38" cy="1920.40" r="17.5" fill="#f00"/>
<circle cx="676.25" cy="1934.40" r="17.5" fill="#f00"/>
<circle cx="956.00" cy="1976.50" r="17.5" fill="#f00"/>
<circle cx="1235.75" cy="2008.40" r="17.5" fill="#f00"/>
<circle cx="1515.50" cy="2041.30" r="17.5" fill="#f00"/>
<circle cx="1795.25" cy="2065.80" r="17.5" fill="#f00"/>
<circle cx="2075.00" cy="2103.30" r="17.5" fill="#f00"/>
<path d="M396.50,1898.30 L536.38,1978.60 L676.25,2050.00 L956.00,2145.90 L1235.75,2250.90 L1515.50,2297.70 L1795.25,2397.00 L2075.00,2469.60" fill="none" stroke="#00f" stroke-width="11.2" stroke-linejoin="round"/>
<path d="M396.50,1874.30 L417.20,1910.30 L375.80,1910.30 Z" fill="#00f"/>
<path d="M536.38,1954.60 L557.08,1990.60 L515.67,1990.60 Z" fill="#00f"/>
<path d="M676.25,2026.00 L696.95,2062.00 L655.55,2062.00 Z" fill="#00f"/>
<path d="M956.00,2121.90 L976.70,2157.90 L935.30,2157.90 Z" fill="#00f"/>
<path d="M1235.75,2226.90 L1256.45,2262.90 L1215.05,2262.90 Z" fill="#00f"/>
<path d="M1515.50,2273.70 L1536.20,2309.70 L1494.80,2309.70 Z" fill="#00f"/>
<path d="M1795.25,2373.00 L1815.95,2409.00 L1774.55,2409.00 Z" fill="#00f"/>
<path d="M2075.00,2445.60 L2095.70,2481.60 L2054.30,2481.60 Z" fill="#00f"/>
<path d="M396.50,1898.30 L536.38,2052.00 L676.25,2155.90 L956.00,2355.00 L1235.75,2508.10 L1515.50,2676.00 L1795.25,2822.90 L2075.00,2962.70" fill="none" stroke="#f0f" stroke-width="11.2" stroke-linejoin="round"/>
<path d="M396.50,1922.00 L417.20,1886.00 L375.80,1886.00 Z" fill="#f0f"/>
<path d="M536.38,2075.30 L557.08,2039.30 L515.67,2039.30 Z" fill="#f0f"/>
<path d="M676.25,2179.20 L696.95,2143.20 L655.55,2143.20 Z" fill="#f0f"/>
<path d="M956.00,2378.30 L976.70,2342.30 L935.30,2342.30 Z" fill="#f0f"/>
<path d="M1235.75,2531.40 L1256.45,2495.40 L1215.05,2495.40 Z" fill="#f0f"/>
<path d="M1515.50,2699.30 L1536.20,2663.30 L1494.80,2663.30 Z" fill="#f0f"/>
<path d="M1795.25,2846.20 L1815.95,2810.20 L1774.55,2810.20 Z" fill="#f0f"/>
<path d="M2075.00,2986.00 L2095.70,2950.00 L2054.30,2950.00 Z" fill="#f0f"/>
</g>
<line x1="485.8" y1="2573.40" x2="632.4" y2="2573.40" stroke="#000" stroke-width="11.8" stroke-linecap="round"/>
<rect x="543.50" y="2557.80" width="30.2" height="30.2" rx="1.5" fill="#000"/>
<text transform="translate(652.17,2594.80) scale(0.9620,1)" font-size="85.00" fill="#000">R=4</text>
<line x1="485.8" y1="2675.35" x2="632.4" y2="2675.35" stroke="#f00" stroke-width="11.8" stroke-linecap="round"/>
<circle cx="558.60" cy="2674.55" r="16.8" fill="#f00"/>
<text transform="translate(652.15,2696.83) scale(0.9759,1)" font-size="85.00" fill="#000">R=10</text>
<line x1="485.8" y1="2777.30" x2="632.4" y2="2777.30" stroke="#00f" stroke-width="11.8" stroke-linecap="round"/>
<path d="M558.60,2753.70 L579.60,2789.70 L537.60,2789.70 Z" fill="#00f"/>
<text transform="translate(652.15,2798.86) scale(0.9759,1)" font-size="85.00" fill="#000">R=25</text>
<line x1="485.8" y1="2879.25" x2="632.4" y2="2879.25" stroke="#f0f" stroke-width="11.8" stroke-linecap="round"/>
<path d="M558.60,2902.55 L579.60,2866.55 L537.60,2866.55 Z" fill="#f0f"/>
<text transform="translate(652.14,2900.89) scale(0.9799,1)" font-size="85.00" fill="#000">R=100</text>
<text transform="translate(206.57,2990.70) scale(0.9800,1)" font-size="86.00">0.80</text>
<text transform="translate(206.57,2723.52) scale(0.9800,1)" font-size="86.00">0.85</text>
<text transform="translate(206.57,2456.35) scale(0.9800,1)" font-size="86.00">0.90</text>
<text transform="translate(206.57,2189.18) scale(0.9800,1)" font-size="86.00">0.95</text>
<text transform="translate(206.57,1922.00) scale(0.9800,1)" font-size="86.00">1.00</text>
<text transform="translate(375.50,3210.30) scale(1.0000,1)" font-size="86.00">0</text>
<text transform="translate(631.92,3210.30) scale(1.0000,1)" font-size="86.00">10</text>
<text transform="translate(913.28,3210.30) scale(1.0000,1)" font-size="86.00">20</text>
<text transform="translate(1193.25,3210.30) scale(1.0000,1)" font-size="86.00">30</text>
<text transform="translate(1474.08,3210.30) scale(1.0000,1)" font-size="86.00">40</text>
<text transform="translate(1752.64,3210.30) scale(1.0000,1)" font-size="86.00">50</text>
<text transform="translate(2032.61,3210.30) scale(1.0000,1)" font-size="86.00">60</text>
<text transform="translate(1064.91,3350.60) scale(1.0012,1)" font-size="106.00" fill="#000">Time (min)</text>
<text transform="translate(484.80,1875.20) scale(0.9950,1)" font-size="104.60" fill="#000">b</text>
<text transform="rotate(-90)"><tspan x="-2555.93" y="104.10" font-size="110.00">A</tspan><tspan x="-2477.20" y="146.20" font-size="64.02">x</tspan><tspan x="-2443.36" y="104.10" font-size="110.00">/</tspan><tspan x="-2415.62" y="104.10" font-size="110.00">A</tspan><tspan x="-2337.52" y="147.00" font-size="64.68">0</tspan></text>
</g>
</svg>
</body>
</html>
